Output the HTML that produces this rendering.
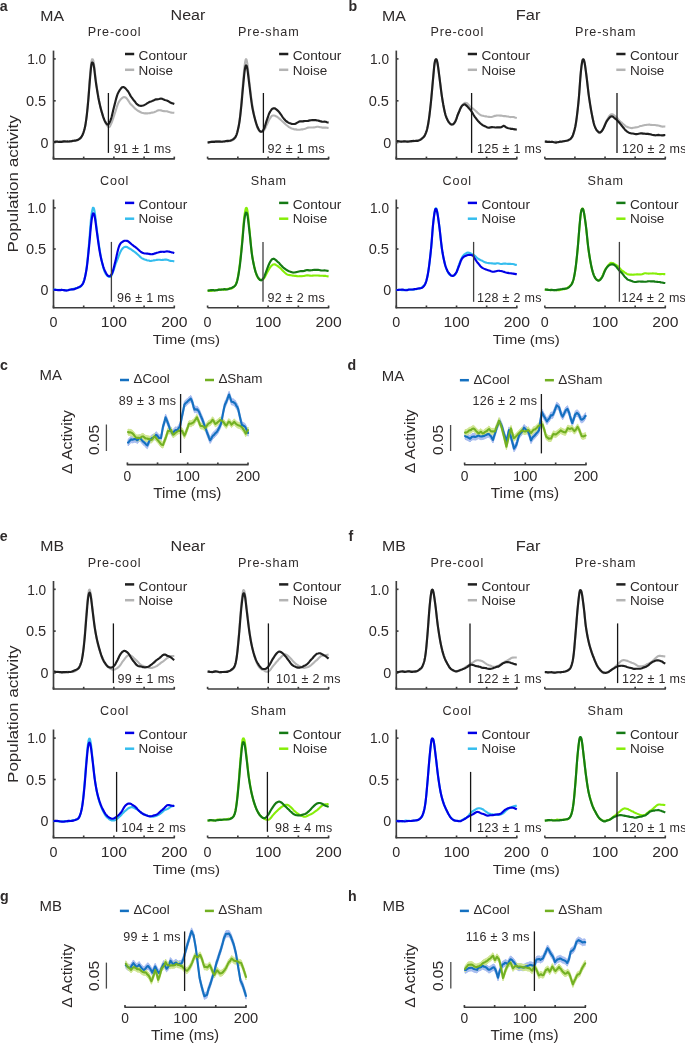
<!DOCTYPE html>
<html><head><meta charset="utf-8"><style>
html,body{margin:0;padding:0;background:#fff;}
body{width:685px;height:1044px;overflow:hidden;}
svg{display:block;will-change:transform;}
text{font-family:"Liberation Sans", sans-serif;fill:#2e2a2a;}
</style></head><body>
<svg width="685" height="1044" viewBox="0 0 685 1044">
<rect width="685" height="1044" fill="#fff"/>
<line x1="53.5" y1="50.6" x2="53.5" y2="159.45" stroke="#3d3d3d" stroke-width="1.65"/>
<line x1="53.5" y1="58.9" x2="55.7" y2="58.9" stroke="#3d3d3d" stroke-width="1.65"/>
<line x1="53.5" y1="100.8" x2="55.7" y2="100.8" stroke="#3d3d3d" stroke-width="1.65"/>
<line x1="53.5" y1="142.5" x2="55.7" y2="142.5" stroke="#3d3d3d" stroke-width="1.65"/>
<text x="46.2" y="64.1" font-size="14.3" text-anchor="end" textLength="19" lengthAdjust="spacingAndGlyphs">1.0</text>
<text x="46.2" y="106" font-size="14.3" text-anchor="end" textLength="20.3" lengthAdjust="spacingAndGlyphs">0.5</text>
<text x="48.4" y="147.7" font-size="14.3" text-anchor="end">0</text>
<line x1="52.85" y1="158.8" x2="174.9" y2="158.8" stroke="#3d3d3d" stroke-width="1.65"/>
<line x1="53.5" y1="158.8" x2="53.5" y2="156.6" stroke="#3d3d3d" stroke-width="1.65"/>
<line x1="83.7" y1="158.8" x2="83.7" y2="156.6" stroke="#3d3d3d" stroke-width="1.65"/>
<line x1="113.9" y1="158.8" x2="113.9" y2="156.6" stroke="#3d3d3d" stroke-width="1.65"/>
<line x1="144.1" y1="158.8" x2="144.1" y2="156.6" stroke="#3d3d3d" stroke-width="1.65"/>
<line x1="174.3" y1="158.8" x2="174.3" y2="156.6" stroke="#3d3d3d" stroke-width="1.65"/>
<text x="114.6" y="36.1" font-size="12.6" text-anchor="middle" letter-spacing="0.85">Pre-cool</text>
<line x1="125" y1="54" x2="134.2" y2="54" stroke="#1f1f1f" stroke-width="2.5"/>
<line x1="125" y1="69.8" x2="134.2" y2="69.8" stroke="#b4b4b4" stroke-width="2.5"/>
<text x="138.6" y="60.3" font-size="13" textLength="48.6" lengthAdjust="spacingAndGlyphs">Contour</text>
<text x="138.6" y="74.5" font-size="13" textLength="34.5" lengthAdjust="spacingAndGlyphs">Noise</text>
<path d="M53.5 141.99 L54.1 141.97 L54.84 141.96 L55.72 141.86 L56.71 141.78 L57.79 141.69 L58.94 141.59 L60.14 141.62 L61.38 141.71 L62.62 141.66 L63.86 141.66 L65.07 141.78 L66.23 141.69 L67.32 141.84 L68.33 141.79 L69.23 141.71 L70 141.64 L71.62 141.36 L72.81 141.01 L73.72 140.93 L74.46 140.89 L75.18 140.68 L76 140.37 L77.1 139.9 L78.17 139.34 L79.19 138.79 L80.14 138.22 L81 137.43 L81.54 136.76 L82.03 135.97 L82.48 135.12 L82.89 134.21 L83.27 133.22 L83.64 132.15 L84 131 L84.24 130.18 L84.46 129.38 L84.67 128.58 L84.87 127.74 L85.06 126.85 L85.25 125.9 L85.43 124.87 L85.62 123.74 L85.8 122.5 L86 121.13 L86.11 120.36 L86.21 119.56 L86.32 118.73 L86.42 117.87 L86.53 116.98 L86.63 116.07 L86.74 115.13 L86.84 114.17 L86.95 113.18 L87.05 112.17 L87.16 111.13 L87.26 110.05 L87.37 108.96 L87.47 107.84 L87.58 106.71 L87.68 105.55 L87.79 104.39 L87.89 103.2 L88 102 L88.08 101.1 L88.16 100.17 L88.23 99.2 L88.31 98.2 L88.39 97.18 L88.47 96.14 L88.55 95.08 L88.64 94 L88.72 92.91 L88.8 91.81 L88.88 90.7 L88.96 89.59 L89.04 88.49 L89.12 87.38 L89.2 86.28 L89.27 85.2 L89.35 84.12 L89.43 83.07 L89.5 82.03 L89.58 81.02 L89.65 80.03 L89.73 79.08 L89.8 78.15 L89.87 77.27 L89.93 76.43 L90 75.65 L90.12 74.27 L90.23 72.96 L90.34 71.71 L90.45 70.51 L90.55 69.39 L90.65 68.32 L90.75 67.31 L90.85 66.36 L90.94 65.47 L91.03 64.63 L91.12 63.86 L91.22 63.14 L91.31 62.48 L91.4 61.86 L92 59.39 L92.6 59.25 L92.92 59.66 L93.25 60.46 L93.6 61.88 L94 64.17 L94.1 64.87 L94.2 65.6 L94.3 66.4 L94.41 67.26 L94.51 68.17 L94.62 69.13 L94.73 70.13 L94.84 71.16 L94.96 72.22 L95.08 73.31 L95.2 74.4 L95.32 75.51 L95.45 76.62 L95.58 77.74 L95.72 78.88 L95.86 79.99 L96 81.09 L96.13 82.07 L96.27 83.08 L96.42 84.1 L96.57 85.15 L96.72 86.21 L96.87 87.28 L97.03 88.32 L97.19 89.36 L97.36 90.4 L97.52 91.43 L97.69 92.46 L97.85 93.48 L98.02 94.48 L98.19 95.46 L98.35 96.43 L98.52 97.39 L98.68 98.33 L98.84 99.23 L99 100.09 L99.23 101.31 L99.46 102.48 L99.69 103.61 L99.92 104.64 L100.15 105.63 L100.38 106.59 L100.62 107.51 L100.85 108.41 L101.08 109.28 L101.31 110.2 L101.54 111.1 L101.77 111.99 L102 112.86 L102.33 114.09 L102.66 115.22 L102.98 116.24 L103.3 117.22 L103.63 118.16 L103.96 119.06 L104.29 120.03 L104.64 120.96 L105 121.84 L105.58 123.04 L106.2 124.08 L106.84 125.05 L107.47 126 L108.06 126.72 L108.6 127.1 L109.47 126.97 L110.2 125.84 L111 124.14 L111.34 123.37 L111.68 122.51 L112.04 121.57 L112.4 120.56 L112.78 119.49 L113.17 118.35 L113.57 117.15 L114 115.91 L114.3 115.01 L114.62 114.04 L114.95 112.99 L115.3 111.91 L115.65 110.81 L116 109.69 L116.35 108.59 L116.7 107.49 L117.05 106.42 L117.38 105.42 L117.7 104.51 L118 103.74 L118.66 102.35 L119.27 101.3 L119.85 100.45 L120.42 99.76 L121 99.1 L122 98.13 L123 97.43 L124 97.12 L125 97.25 L126 97.78 L127 98.8 L127.58 99.6 L128.15 100.43 L128.73 101.32 L129.34 102.29 L130 103.32 L130.61 104.14 L131.26 104.74 L131.94 105.35 L132.63 106.05 L133.32 106.73 L134 107.42 L134.77 108.19 L135.5 108.89 L136.26 109.55 L137.07 110.21 L138 110.8 L138.86 111.23 L139.78 111.74 L140.75 112.27 L141.78 112.8 L142.86 112.97 L144 113.29 L144.91 113.36 L145.88 113.17 L146.9 113.34 L147.94 113.33 L148.99 113.22 L150.02 113.13 L151.03 112.82 L152 112.61 L153.05 112.44 L154.07 112.24 L155.07 111.85 L156.05 111.35 L157.03 110.81 L158.01 110.39 L159 110.21 L159.99 110.25 L160.96 110.34 L161.93 110.65 L162.91 111.01 L163.91 111.11 L164.93 111.26 L166 111.31 L167.03 111.29 L168.18 111.67 L169.38 112.11 L170.59 112.48 L171.74 112.62 L172.78 112.7 L173.65 112.79 L174.3 112.89" fill="none" stroke="#b4b4b4" stroke-width="2.1" stroke-linejoin="round" stroke-linecap="butt"/>
<path d="M53.5 142.01 L54.1 141.96 L54.84 141.92 L55.72 141.64 L56.71 141.58 L57.79 141.69 L58.94 141.93 L60.14 141.92 L61.38 141.88 L62.62 141.62 L63.86 141.41 L65.07 141.43 L66.23 141.45 L67.32 141.44 L68.33 141.47 L69.23 141.43 L70 141.29 L71.62 141.09 L72.81 140.9 L73.72 140.75 L74.46 140.59 L75.18 140.56 L76 140.47 L77.1 140.15 L78.17 139.74 L79.19 139.18 L80.14 138.44 L81 137.49 L81.54 136.73 L82.03 135.89 L82.48 134.99 L82.89 134.03 L83.27 133.02 L83.64 131.94 L84 130.79 L84.24 129.95 L84.46 129.16 L84.67 128.37 L84.87 127.54 L85.06 126.67 L85.25 125.73 L85.43 124.73 L85.62 123.64 L85.8 122.46 L86 121.18 L86.11 120.42 L86.22 119.63 L86.33 118.82 L86.44 117.97 L86.56 117.1 L86.67 116.2 L86.78 115.28 L86.89 114.33 L87 113.37 L87.11 112.37 L87.22 111.31 L87.33 110.23 L87.44 109.14 L87.56 108.02 L87.67 106.89 L87.78 105.74 L87.89 104.58 L88 103.41 L88.08 102.5 L88.17 101.56 L88.25 100.59 L88.34 99.6 L88.43 98.57 L88.51 97.53 L88.6 96.45 L88.69 95.35 L88.78 94.25 L88.86 93.13 L88.95 92.02 L89.04 90.9 L89.12 89.79 L89.21 88.69 L89.29 87.59 L89.38 86.52 L89.46 85.45 L89.54 84.41 L89.62 83.4 L89.7 82.41 L89.78 81.45 L89.85 80.53 L89.93 79.66 L90 78.85 L90.12 77.51 L90.23 76.22 L90.34 74.97 L90.45 73.77 L90.55 72.63 L90.65 71.53 L90.75 70.49 L90.85 69.5 L90.94 68.57 L91.03 67.7 L91.12 66.88 L91.22 66.13 L91.31 65.45 L91.4 64.84 L92 62.55 L92.6 62.56 L92.92 62.97 L93.25 63.74 L93.6 65.09 L94 67.25 L94.11 67.95 L94.21 68.7 L94.32 69.52 L94.43 70.4 L94.55 71.34 L94.66 72.32 L94.78 73.35 L94.9 74.4 L95.02 75.49 L95.15 76.59 L95.28 77.71 L95.42 78.83 L95.55 79.94 L95.7 81.03 L95.85 82.11 L96 83.16 L96.14 84.09 L96.29 85.06 L96.44 86.04 L96.6 87.04 L96.76 88.06 L96.93 89.09 L97.09 90.15 L97.26 91.22 L97.44 92.29 L97.61 93.35 L97.79 94.4 L97.96 95.43 L98.14 96.45 L98.31 97.44 L98.49 98.36 L98.66 99.25 L98.83 100.1 L99 100.91 L99.25 102.07 L99.5 103.19 L99.75 104.27 L100 105.39 L100.25 106.46 L100.5 107.5 L100.75 108.51 L101 109.48 L101.25 110.39 L101.5 111.26 L101.75 112.1 L102 112.93 L102.38 114.14 L102.75 115.36 L103.12 116.56 L103.5 117.7 L103.88 118.76 L104.25 119.69 L104.62 120.53 L105 121.28 L105.75 122.64 L106.5 123.75 L107.25 124.39 L108 124.45 L108.6 124.01 L109.2 123.23 L109.8 122.07 L110.4 120.56 L111 118.82 L111.25 118.1 L111.49 117.29 L111.73 116.43 L111.96 115.5 L112.2 114.53 L112.44 113.51 L112.68 112.47 L112.93 111.41 L113.18 110.33 L113.44 109.25 L113.71 108.17 L114 107.07 L114.25 106.12 L114.51 105.11 L114.77 104.06 L115.04 102.98 L115.31 101.89 L115.59 100.8 L115.88 99.7 L116.16 98.63 L116.46 97.58 L116.76 96.58 L117.06 95.63 L117.37 94.74 L117.68 93.92 L118 93.18 L118.67 91.87 L119.38 90.7 L120.13 89.54 L120.87 88.54 L121.62 87.72 L122.33 87.19 L123 87.07 L123.85 87.17 L124.62 87.59 L125.38 88.25 L126.15 89.1 L127 90.08 L127.51 90.71 L128.04 91.45 L128.59 92.28 L129.15 93.19 L129.72 94.31 L130.3 95.44 L130.87 96.36 L131.44 97.14 L132 97.86 L132.72 98.91 L133.46 99.92 L134.2 100.77 L134.93 101.65 L135.64 102.62 L136.34 103.47 L137 104.15 L138.05 105 L139 105.51 L139.95 105.76 L141 105.81 L141.95 105.72 L142.98 105.54 L144.02 105.14 L145.05 104.62 L146 104.08 L147.03 103.43 L147.94 102.87 L148.89 102.31 L150 101.7 L150.88 101.48 L151.86 101.17 L152.88 100.63 L153.92 100.23 L154.94 99.75 L155.9 99.35 L156.97 99.31 L158 99.25 L159.01 99.06 L160 98.81 L161 98.64 L161.95 98.75 L162.85 99.07 L163.77 99.59 L164.79 100.01 L166 100.32 L166.82 100.49 L167.78 100.88 L168.83 101.5 L169.92 102.28 L171 102.89 L172.03 103.23 L172.95 103.42 L173.72 103.69 L174.3 103.9" fill="none" stroke="#1f1f1f" stroke-width="2.15" stroke-linejoin="round" stroke-linecap="butt"/>
<line x1="108.4" y1="93" x2="108.4" y2="152.9" stroke="#151515" stroke-width="1.3"/>
<text x="113.8" y="152.9" font-size="12.5" letter-spacing="0.3">91 ± 1 ms</text>
<line x1="207.6" y1="158.8" x2="329.2" y2="158.8" stroke="#3d3d3d" stroke-width="1.65"/>
<line x1="207.6" y1="158.8" x2="207.6" y2="156.6" stroke="#3d3d3d" stroke-width="1.65"/>
<line x1="237.85" y1="158.8" x2="237.85" y2="156.6" stroke="#3d3d3d" stroke-width="1.65"/>
<line x1="268.1" y1="158.8" x2="268.1" y2="156.6" stroke="#3d3d3d" stroke-width="1.65"/>
<line x1="298.35" y1="158.8" x2="298.35" y2="156.6" stroke="#3d3d3d" stroke-width="1.65"/>
<line x1="328.6" y1="158.8" x2="328.6" y2="156.6" stroke="#3d3d3d" stroke-width="1.65"/>
<text x="268.8" y="36.1" font-size="12.6" text-anchor="middle" letter-spacing="0.85">Pre-sham</text>
<line x1="279.1" y1="54" x2="288.3" y2="54" stroke="#1f1f1f" stroke-width="2.5"/>
<line x1="279.1" y1="69.8" x2="288.3" y2="69.8" stroke="#b4b4b4" stroke-width="2.5"/>
<text x="292.7" y="60.3" font-size="13" textLength="48.6" lengthAdjust="spacingAndGlyphs">Contour</text>
<text x="292.7" y="74.5" font-size="13" textLength="34.5" lengthAdjust="spacingAndGlyphs">Noise</text>
<path d="M207.6 142.61 L208.24 142.57 L209.07 142.51 L210.06 142.47 L211.18 142.02 L212.36 141.61 L213.59 141.42 L214.82 141.42 L216 141.38 L216.95 141.33 L217.96 141.3 L219.01 141.29 L220.08 141.41 L221.15 141.47 L222.21 141.45 L223.24 141.44 L224.23 141.58 L225.15 141.56 L226 141.54 L227.25 141.69 L228.37 141.33 L229.38 141.21 L230.3 141.06 L231.16 140.72 L232 140.41 L232.94 140.03 L233.79 139.41 L234.57 138.69 L235.3 137.74 L236 136.38 L236.29 135.68 L236.57 134.91 L236.84 134.07 L237.11 133.18 L237.37 132.24 L237.62 131.25 L237.87 130.21 L238.11 129.14 L238.34 128.03 L238.57 126.84 L238.79 125.6 L239 124.35 L239.14 123.46 L239.28 122.56 L239.41 121.65 L239.54 120.72 L239.66 119.78 L239.78 118.82 L239.89 117.84 L240.01 116.84 L240.12 115.82 L240.23 114.78 L240.33 113.72 L240.44 112.63 L240.55 111.52 L240.66 110.38 L240.77 109.22 L240.88 108.02 L241 106.8 L241.08 105.9 L241.17 104.97 L241.25 104.01 L241.34 103.02 L241.42 102.01 L241.51 100.98 L241.6 99.93 L241.68 98.87 L241.77 97.79 L241.85 96.71 L241.94 95.62 L242.03 94.52 L242.11 93.43 L242.2 92.33 L242.28 91.25 L242.36 90.17 L242.45 89.11 L242.53 88.06 L242.61 87.04 L242.69 86.07 L242.77 85.12 L242.85 84.2 L242.92 83.31 L243 82.45 L243.1 81.27 L243.21 80.11 L243.31 78.96 L243.41 77.84 L243.51 76.73 L243.6 75.65 L243.7 74.59 L243.79 73.56 L243.88 72.55 L243.98 71.58 L244.07 70.65 L244.16 69.75 L244.25 68.89 L244.33 68.07 L244.42 67.28 L244.51 66.54 L244.6 65.84 L244.81 64.28 L245.01 62.9 L245.21 61.71 L245.41 60.74 L245.61 59.95 L245.8 59.41 L246 59.14 L246.27 59.18 L246.53 59.69 L246.8 60.68 L247.08 62.15 L247.4 64.15 L247.5 64.81 L247.59 65.55 L247.69 66.34 L247.79 67.19 L247.9 68.09 L248 69.03 L248.11 70.01 L248.21 71.03 L248.32 72.08 L248.44 73.15 L248.55 74.24 L248.67 75.34 L248.78 76.46 L248.9 77.57 L249.03 78.69 L249.15 79.8 L249.27 80.9 L249.4 81.98 L249.51 82.91 L249.62 83.87 L249.74 84.87 L249.85 85.9 L249.97 86.93 L250.09 87.98 L250.21 89.04 L250.33 90.1 L250.45 91.17 L250.58 92.24 L250.7 93.32 L250.83 94.38 L250.95 95.44 L251.08 96.47 L251.21 97.48 L251.34 98.47 L251.47 99.45 L251.6 100.4 L251.73 101.34 L251.87 102.25 L252 103.13 L252.18 104.26 L252.36 105.38 L252.54 106.49 L252.72 107.59 L252.91 108.67 L253.1 109.73 L253.28 110.77 L253.47 111.79 L253.67 112.79 L253.86 113.76 L254.05 114.69 L254.24 115.6 L254.43 116.49 L254.62 117.35 L254.81 118.18 L255 118.99 L255.3 120.25 L255.59 121.49 L255.88 122.67 L256.17 123.79 L256.46 124.85 L256.76 125.82 L257.06 126.71 L257.36 127.53 L257.68 128.27 L258 128.93 L258.87 130.24 L259.81 131.15 L260.74 131.75 L261.6 132.04 L262.36 131.94 L263.06 131.47 L263.75 130.66 L264.5 129.56 L264.97 128.8 L265.47 127.75 L265.98 126.59 L266.5 125.4 L267.02 124.28 L267.52 123.22 L268 122.23 L268.63 120.89 L269.24 119.62 L269.82 118.65 L270.41 117.79 L271 116.94 L272 115.76 L273 115.56 L274 115.51 L275 115.7 L276 116.31 L277 116.78 L277.68 117.18 L278.31 117.72 L279.04 118.38 L280 119.17 L280.61 119.68 L281.29 120.32 L282.03 121.02 L282.81 121.72 L283.62 122.46 L284.43 123.23 L285.23 124.03 L286 124.77 L287 125.49 L288 126.31 L289 127.11 L290 127.52 L291 128.19 L292 128.67 L292.98 128.77 L293.93 129.16 L294.88 129.36 L295.85 129.36 L296.88 129.61 L298 129.71 L298.9 129.73 L299.86 129.74 L300.85 129.56 L301.88 129.41 L302.91 129.33 L303.95 129.08 L304.99 128.77 L306 128.4 L307 127.91 L308 127.61 L309 127.51 L310 127.54 L311 127.47 L312 127.51 L313 127.51 L314 127.41 L315.01 127.22 L316.03 127.02 L317.06 126.83 L318.09 126.68 L319.1 126.91 L320.1 127.1 L321.07 127.22 L322 127.58 L323.26 127.67 L324.55 127.65 L325.8 127.63 L326.94 127.82 L327.9 127.9 L328.6 127.96" fill="none" stroke="#b4b4b4" stroke-width="2.1" stroke-linejoin="round" stroke-linecap="butt"/>
<path d="M207.6 142.5 L208.24 142.43 L209.07 142.33 L210.06 142.03 L211.18 141.88 L212.36 141.83 L213.59 141.88 L214.82 141.81 L216 141.62 L216.95 141.52 L217.96 141.57 L219.01 141.68 L220.08 141.61 L221.15 141.77 L222.21 141.72 L223.24 141.54 L224.23 141.48 L225.15 141.24 L226 141 L227.25 140.82 L228.37 140.84 L229.38 140.79 L230.3 140.63 L231.16 140.33 L232 139.9 L232.94 139.34 L233.79 138.75 L234.57 138.07 L235.3 137.18 L236 135.87 L236.31 135.12 L236.62 134.3 L236.92 133.41 L237.21 132.45 L237.49 131.43 L237.76 130.36 L238.02 129.24 L238.28 128.08 L238.53 126.91 L238.77 125.73 L239 124.51 L239.15 123.66 L239.3 122.79 L239.44 121.91 L239.57 121.01 L239.7 120.08 L239.82 119.15 L239.94 118.23 L240.06 117.29 L240.18 116.33 L240.29 115.35 L240.41 114.34 L240.52 113.31 L240.64 112.25 L240.76 111.17 L240.88 110.07 L241 108.94 L241.09 108.09 L241.18 107.2 L241.28 106.27 L241.37 105.31 L241.46 104.33 L241.56 103.33 L241.65 102.31 L241.74 101.28 L241.84 100.23 L241.93 99.18 L242.03 98.13 L242.12 97.07 L242.21 96.02 L242.3 94.98 L242.39 93.95 L242.48 92.93 L242.57 91.92 L242.66 90.94 L242.75 89.97 L242.83 89.04 L242.92 88.13 L243 87.26 L243.11 86.09 L243.22 84.93 L243.33 83.78 L243.43 82.65 L243.54 81.54 L243.64 80.45 L243.74 79.39 L243.84 78.35 L243.94 77.35 L244.03 76.37 L244.13 75.42 L244.22 74.52 L244.32 73.66 L244.41 72.84 L244.51 72.07 L244.6 71.35 L244.84 69.65 L245.08 68.23 L245.31 67.08 L245.54 66.24 L245.77 65.68 L246 65.39 L246.34 65.45 L246.66 66.09 L247.01 67.38 L247.4 69.42 L247.51 70.07 L247.62 70.8 L247.73 71.59 L247.84 72.44 L247.96 73.35 L248.08 74.3 L248.2 75.3 L248.32 76.35 L248.45 77.43 L248.58 78.53 L248.71 79.66 L248.84 80.79 L248.98 81.94 L249.12 83.09 L249.26 84.23 L249.4 85.37 L249.52 86.28 L249.63 87.23 L249.75 88.21 L249.88 89.21 L250 90.22 L250.12 91.26 L250.25 92.31 L250.38 93.36 L250.51 94.42 L250.64 95.48 L250.77 96.54 L250.9 97.6 L251.04 98.65 L251.17 99.69 L251.31 100.72 L251.44 101.73 L251.58 102.71 L251.72 103.67 L251.86 104.59 L252 105.48 L252.2 106.7 L252.41 107.88 L252.62 108.97 L252.83 110.03 L253.04 111.06 L253.26 112.06 L253.47 113.02 L253.69 113.96 L253.91 114.89 L254.13 115.79 L254.35 116.67 L254.57 117.53 L254.78 118.36 L255 119.18 L255.33 120.39 L255.67 121.56 L256 122.66 L256.33 123.7 L256.67 124.68 L257 125.64 L257.33 126.53 L257.67 127.35 L258 128.1 L258.75 129.58 L259.5 130.72 L260.25 131.46 L261 131.79 L262 131.47 L263 130.51 L264 128.8 L264.33 128.01 L264.67 127.08 L265 126.03 L265.33 124.97 L265.67 123.87 L266 122.74 L266.33 121.63 L266.67 120.63 L267 119.72 L267.37 118.73 L267.73 117.72 L268.08 116.62 L268.44 115.53 L268.8 114.47 L269.18 113.48 L269.58 112.61 L270 111.86 L270.74 110.77 L271.53 109.61 L272.35 108.79 L273.18 108.43 L274 108.27 L274.98 108.43 L275.94 109.1 L276.93 109.9 L278 110.86 L278.58 111.46 L279.18 112.19 L279.8 112.97 L280.44 113.81 L281.08 114.77 L281.73 115.7 L282.37 116.74 L283 117.68 L283.82 118.67 L284.63 119.54 L285.44 120.47 L286.26 121.24 L287.11 121.76 L288 122.36 L288.94 122.94 L289.93 123.26 L290.94 123.59 L291.96 123.86 L292.99 123.99 L294 124.02 L294.98 123.89 L295.93 123.57 L296.88 122.96 L297.85 122.33 L298.88 121.76 L300 121.32 L300.91 121.33 L301.88 121.34 L302.9 121.32 L303.94 121.14 L304.99 121.04 L306.02 120.99 L307.03 120.95 L308 120.83 L309.05 120.58 L310.07 120.32 L311.07 120.23 L312.05 120.17 L313.03 120.11 L314.01 120.05 L315 120.06 L316 120.19 L317.01 120.39 L318.02 120.56 L319.03 120.84 L320.03 121.13 L321.02 121.39 L322 121.7 L323.2 121.71 L324.47 121.69 L325.74 121.77 L326.9 122.23 L327.89 122.45 L328.6 122.58" fill="none" stroke="#1f1f1f" stroke-width="2.15" stroke-linejoin="round" stroke-linecap="butt"/>
<line x1="263.4" y1="93" x2="263.4" y2="152.9" stroke="#151515" stroke-width="1.3"/>
<text x="267.6" y="152.9" font-size="12.5" letter-spacing="0.3">92 ± 1 ms</text>
<line x1="53.5" y1="199.5" x2="53.5" y2="308.35" stroke="#3d3d3d" stroke-width="1.65"/>
<line x1="53.5" y1="207.9" x2="55.7" y2="207.9" stroke="#3d3d3d" stroke-width="1.65"/>
<line x1="53.5" y1="249" x2="55.7" y2="249" stroke="#3d3d3d" stroke-width="1.65"/>
<line x1="53.5" y1="290.1" x2="55.7" y2="290.1" stroke="#3d3d3d" stroke-width="1.65"/>
<text x="46.2" y="213.1" font-size="14.3" text-anchor="end" textLength="19" lengthAdjust="spacingAndGlyphs">1.0</text>
<text x="46.2" y="254.2" font-size="14.3" text-anchor="end" textLength="20.3" lengthAdjust="spacingAndGlyphs">0.5</text>
<text x="48.4" y="295.3" font-size="14.3" text-anchor="end">0</text>
<line x1="52.85" y1="307.7" x2="174.9" y2="307.7" stroke="#3d3d3d" stroke-width="1.65"/>
<line x1="53.5" y1="307.7" x2="53.5" y2="305.5" stroke="#3d3d3d" stroke-width="1.65"/>
<line x1="83.7" y1="307.7" x2="83.7" y2="305.5" stroke="#3d3d3d" stroke-width="1.65"/>
<line x1="113.9" y1="307.7" x2="113.9" y2="305.5" stroke="#3d3d3d" stroke-width="1.65"/>
<line x1="144.1" y1="307.7" x2="144.1" y2="305.5" stroke="#3d3d3d" stroke-width="1.65"/>
<line x1="174.3" y1="307.7" x2="174.3" y2="305.5" stroke="#3d3d3d" stroke-width="1.65"/>
<text x="114.6" y="185" font-size="12.6" text-anchor="middle" letter-spacing="0.85">Cool</text>
<line x1="125" y1="202.9" x2="134.2" y2="202.9" stroke="#0000e6" stroke-width="2.5"/>
<line x1="125" y1="218.7" x2="134.2" y2="218.7" stroke="#35bdee" stroke-width="2.5"/>
<text x="138.6" y="209.2" font-size="13" textLength="48.6" lengthAdjust="spacingAndGlyphs">Contour</text>
<text x="138.6" y="223.4" font-size="13" textLength="34.5" lengthAdjust="spacingAndGlyphs">Noise</text>
<path d="M53.5 289.64 L54.11 289.65 L54.89 289.69 L55.8 289.56 L56.83 289.68 L57.95 289.97 L59.12 289.89 L60.34 289.94 L61.56 289.79 L62.76 289.98 L63.92 290.18 L65.01 290.23 L66 290.2 L67.12 290.06 L68.24 289.98 L69.34 289.92 L70.42 289.8 L71.47 289.55 L72.48 289.15 L73.45 288.81 L74.36 288.68 L75.21 288.34 L76 288.03 L77.35 288.03 L78.46 287.63 L79.38 287.39 L80.21 287.05 L81 286.19 L81.73 285.34 L82.36 284.6 L82.92 283.7 L83.46 282.39 L84 280.67 L84.21 279.9 L84.42 279.14 L84.63 278.39 L84.84 277.59 L85.04 276.75 L85.24 275.85 L85.44 274.9 L85.63 273.89 L85.83 272.8 L86.02 271.64 L86.22 270.4 L86.41 269.09 L86.6 267.69 L86.7 266.9 L86.81 266.07 L86.91 265.21 L87.02 264.32 L87.12 263.41 L87.22 262.49 L87.33 261.55 L87.43 260.59 L87.53 259.6 L87.63 258.6 L87.74 257.59 L87.84 256.56 L87.94 255.52 L88.04 254.48 L88.14 253.42 L88.24 252.37 L88.34 251.31 L88.43 250.25 L88.53 249.19 L88.63 248.12 L88.72 247.06 L88.81 246.01 L88.91 244.97 L89 243.94 L89.09 242.95 L89.18 241.93 L89.26 240.89 L89.35 239.83 L89.44 238.75 L89.52 237.66 L89.61 236.57 L89.69 235.46 L89.77 234.36 L89.86 233.25 L89.94 232.15 L90.02 231.05 L90.1 229.96 L90.18 228.88 L90.26 227.83 L90.34 226.79 L90.42 225.77 L90.49 224.79 L90.57 223.83 L90.64 222.9 L90.72 222.01 L90.79 221.17 L90.86 220.36 L90.93 219.6 L91 218.89 L91.18 217.14 L91.36 215.66 L91.53 214.41 L91.69 213.36 L91.84 212.47 L91.99 211.7 L92.13 211.02 L92.27 210.39 L92.4 209.77 L92.9 207.86 L93.4 207.71 L93.64 208.05 L93.89 208.57 L94.16 209.42 L94.46 210.81 L94.8 212.82 L94.9 213.51 L95 214.27 L95.11 215.09 L95.22 215.96 L95.33 216.89 L95.44 217.86 L95.56 218.86 L95.68 219.88 L95.8 220.93 L95.92 222.01 L96.05 223.1 L96.18 224.21 L96.31 225.33 L96.44 226.45 L96.58 227.57 L96.72 228.68 L96.86 229.79 L97 230.88 L97.13 231.83 L97.25 232.8 L97.39 233.8 L97.52 234.82 L97.66 235.85 L97.8 236.9 L97.94 237.95 L98.08 239.02 L98.23 240.09 L98.38 241.14 L98.52 242.17 L98.67 243.19 L98.82 244.2 L98.97 245.2 L99.12 246.19 L99.27 247.15 L99.42 248.1 L99.56 249.02 L99.71 249.91 L99.86 250.84 L100 251.72 L100.21 253.01 L100.43 254.25 L100.64 255.46 L100.86 256.63 L101.07 257.76 L101.29 258.83 L101.5 259.87 L101.71 260.87 L101.93 261.84 L102.14 262.78 L102.36 263.69 L102.57 264.57 L102.79 265.44 L103 266.29 L103.37 267.69 L103.73 268.98 L104.08 270.13 L104.44 271.13 L104.8 272.05 L105.18 272.87 L105.58 273.6 L106 274.25 L106.95 275.37 L108 276.3 L109.05 276.84 L110 276.97 L110.66 276.7 L111.27 275.91 L111.85 274.74 L112.42 273.39 L113 271.92 L113.33 271.04 L113.65 270.07 L113.96 269.11 L114.28 268.11 L114.6 267.07 L114.93 266 L115.27 264.95 L115.62 263.94 L116 262.95 L116.36 262.04 L116.75 261.07 L117.16 260.06 L117.58 259.04 L118 257.99 L118.42 256.83 L118.84 255.71 L119.25 254.64 L119.64 253.69 L120 252.83 L120.66 251.36 L121.27 250.29 L121.85 249.41 L122.42 248.67 L123 248.04 L124 247.27 L125 246.85 L126 246.74 L127 247.02 L128 247.62 L129 248.28 L129.89 248.71 L130.78 249.19 L132 250.02 L132.7 250.56 L133.5 251.16 L134.36 251.74 L135.27 252.41 L136.2 253.14 L137.12 253.97 L138 254.76 L138.84 255.53 L139.66 256.35 L140.47 257.14 L141.29 257.79 L142.14 258.35 L143.04 258.79 L144 259.3 L144.9 259.59 L145.86 259.73 L146.85 260.19 L147.88 260.42 L148.91 260.54 L149.95 260.93 L150.99 260.88 L152 260.75 L153 260.58 L154 260.36 L155 260.21 L156 260.07 L157 259.88 L158 259.79 L159 259.73 L160 259.74 L161.01 259.94 L162.04 259.91 L163.07 259.83 L164.11 259.8 L165.12 259.57 L166.12 259.6 L167.08 259.8 L168 260.01 L169.22 260.5 L170.46 260.88 L171.65 261.06 L172.73 261.07 L173.63 261.3 L174.3 261.47" fill="none" stroke="#35bdee" stroke-width="2.1" stroke-linejoin="round" stroke-linecap="butt"/>
<path d="M53.5 289.69 L54.11 289.7 L54.89 289.72 L55.8 289.89 L56.83 290.01 L57.95 290.08 L59.12 290.08 L60.34 290.07 L61.56 289.91 L62.76 289.97 L63.92 290.12 L65.01 290.32 L66 290.57 L67.12 290.5 L68.24 290.19 L69.34 289.81 L70.42 289.49 L71.47 289.44 L72.48 289.39 L73.45 289.31 L74.36 289.19 L75.21 288.8 L76 288.4 L77.35 287.89 L78.46 287.27 L79.38 286.87 L80.21 286.45 L81 285.88 L81.73 285.2 L82.36 284.41 L82.92 283.48 L83.46 282.34 L84 280.86 L84.23 280.14 L84.46 279.35 L84.68 278.5 L84.9 277.61 L85.12 276.67 L85.34 275.68 L85.55 274.64 L85.76 273.55 L85.97 272.47 L86.18 271.31 L86.39 270.08 L86.6 268.75 L86.71 267.99 L86.83 267.18 L86.94 266.34 L87.05 265.47 L87.17 264.56 L87.28 263.62 L87.39 262.65 L87.5 261.67 L87.62 260.66 L87.73 259.64 L87.84 258.6 L87.95 257.56 L88.06 256.5 L88.17 255.44 L88.27 254.38 L88.38 253.32 L88.49 252.27 L88.59 251.22 L88.69 250.19 L88.8 249.16 L88.9 248.15 L89 247.16 L89.1 246.17 L89.2 245.15 L89.3 244.12 L89.4 243.07 L89.49 242.01 L89.59 240.95 L89.69 239.88 L89.78 238.8 L89.88 237.73 L89.97 236.66 L90.06 235.6 L90.15 234.54 L90.24 233.51 L90.33 232.49 L90.42 231.5 L90.51 230.53 L90.59 229.59 L90.68 228.68 L90.76 227.81 L90.84 226.97 L90.92 226.19 L91 225.44 L91.17 223.94 L91.32 222.58 L91.48 221.34 L91.62 220.23 L91.76 219.23 L91.9 218.33 L92.03 217.52 L92.16 216.78 L92.28 216.11 L92.4 215.49 L92.9 213.58 L93.4 213.37 L93.7 213.62 L94.03 214.14 L94.38 215.19 L94.8 217.07 L94.91 217.7 L95.03 218.4 L95.15 219.17 L95.27 220 L95.4 220.89 L95.53 221.83 L95.66 222.84 L95.8 223.89 L95.94 224.97 L96.08 226.08 L96.23 227.2 L96.38 228.34 L96.53 229.49 L96.68 230.64 L96.84 231.79 L97 232.94 L97.13 233.89 L97.27 234.88 L97.41 235.89 L97.55 236.93 L97.69 237.99 L97.84 239.07 L97.99 240.16 L98.14 241.26 L98.3 242.37 L98.45 243.43 L98.61 244.48 L98.76 245.53 L98.92 246.57 L99.07 247.59 L99.23 248.59 L99.39 249.57 L99.54 250.51 L99.7 251.43 L99.85 252.3 L100 253.12 L100.23 254.34 L100.46 255.51 L100.69 256.63 L100.92 257.72 L101.15 258.75 L101.38 259.72 L101.62 260.65 L101.85 261.55 L102.08 262.41 L102.31 263.23 L102.54 264.03 L102.77 264.88 L103 265.69 L103.43 267.09 L103.86 268.35 L104.29 269.43 L104.71 270.4 L105.14 271.27 L105.57 272.14 L106 272.99 L106.75 274.33 L107.5 275.34 L108.25 276.03 L109 276.2 L110 275.99 L111 275.18 L112 273.58 L112.27 272.91 L112.53 272.2 L112.79 271.41 L113.05 270.53 L113.31 269.59 L113.57 268.58 L113.84 267.51 L114.11 266.39 L114.39 265.24 L114.69 264.06 L115 262.86 L115.22 261.98 L115.45 261 L115.69 259.97 L115.93 258.9 L116.18 257.78 L116.43 256.65 L116.68 255.5 L116.94 254.35 L117.2 253.21 L117.46 252.09 L117.72 251.01 L117.98 249.97 L118.24 248.99 L118.49 248.07 L118.75 247.24 L119 246.49 L119.68 244.89 L120.37 243.69 L121.06 242.85 L121.74 242.29 L122.39 241.85 L123 241.47 L124.04 240.89 L124.96 240.74 L126 240.71 L126.88 240.82 L127.81 241.14 L128.84 241.9 L130 242.82 L130.75 243.47 L131.57 244.28 L132.43 244.98 L133.32 245.6 L134.23 246.28 L135.13 246.96 L136 247.6 L136.84 248.28 L137.66 248.99 L138.47 249.71 L139.29 250.47 L140.14 251.25 L141.04 251.98 L142 252.58 L142.92 252.93 L143.91 253.3 L144.94 253.51 L146 253.52 L147.06 253.66 L148.09 253.69 L149.08 253.83 L150 254.16 L151.12 254.22 L152.15 254.19 L153.12 254.06 L154.07 253.67 L155.02 253.4 L156 253.11 L157 252.68 L158 252.45 L159 252.18 L160 251.92 L161 251.83 L162 251.74 L163 251.74 L163.99 251.91 L164.98 251.71 L165.98 251.53 L166.98 251.44 L168 251.52 L169.11 251.66 L170.31 251.98 L171.53 252.33 L172.66 252.51 L173.61 252.86 L174.3 253.07" fill="none" stroke="#0000e6" stroke-width="2.15" stroke-linejoin="round" stroke-linecap="butt"/>
<line x1="111.4" y1="241.9" x2="111.4" y2="301.8" stroke="#404040" stroke-width="1.3"/>
<text x="117" y="301.8" font-size="12.5" letter-spacing="0.3">96 ± 1 ms</text>
<text x="53.5" y="327.3" font-size="14.3" text-anchor="middle">0</text>
<text x="113.9" y="327.3" font-size="14.3" text-anchor="middle" textLength="26.2" lengthAdjust="spacingAndGlyphs">100</text>
<text x="174.3" y="327.3" font-size="14.3" text-anchor="middle" textLength="26.2" lengthAdjust="spacingAndGlyphs">200</text>
<line x1="207.6" y1="307.7" x2="329.2" y2="307.7" stroke="#3d3d3d" stroke-width="1.65"/>
<line x1="207.6" y1="307.7" x2="207.6" y2="305.5" stroke="#3d3d3d" stroke-width="1.65"/>
<line x1="237.85" y1="307.7" x2="237.85" y2="305.5" stroke="#3d3d3d" stroke-width="1.65"/>
<line x1="268.1" y1="307.7" x2="268.1" y2="305.5" stroke="#3d3d3d" stroke-width="1.65"/>
<line x1="298.35" y1="307.7" x2="298.35" y2="305.5" stroke="#3d3d3d" stroke-width="1.65"/>
<line x1="328.6" y1="307.7" x2="328.6" y2="305.5" stroke="#3d3d3d" stroke-width="1.65"/>
<text x="268.8" y="185" font-size="12.6" text-anchor="middle" letter-spacing="0.85">Sham</text>
<line x1="279.1" y1="202.9" x2="288.3" y2="202.9" stroke="#157a15" stroke-width="2.5"/>
<line x1="279.1" y1="218.7" x2="288.3" y2="218.7" stroke="#86ee08" stroke-width="2.5"/>
<text x="292.7" y="209.2" font-size="13" textLength="48.6" lengthAdjust="spacingAndGlyphs">Contour</text>
<text x="292.7" y="223.4" font-size="13" textLength="34.5" lengthAdjust="spacingAndGlyphs">Noise</text>
<path d="M207.6 290.69 L208.22 290.67 L209.02 290.64 L209.97 290.95 L211.03 290.87 L212.18 290.7 L213.37 290.53 L214.58 290.46 L215.78 290.16 L216.93 290.16 L218 289.94 L219.03 289.63 L220.09 289.7 L221.16 289.5 L222.22 289.56 L223.28 289.74 L224.31 289.68 L225.31 289.6 L226.26 289.34 L227.16 288.91 L228 288.76 L229.27 288.62 L230.41 288.59 L231.44 288.59 L232.37 288.05 L233.22 287.45 L234 286.76 L234.68 286.05 L235.24 285.36 L235.71 284.59 L236.14 283.66 L236.56 282.47 L237 280.93 L237.19 280.21 L237.37 279.45 L237.55 278.64 L237.73 277.79 L237.9 276.9 L238.08 275.96 L238.25 274.98 L238.42 273.96 L238.59 272.88 L238.76 271.76 L238.93 270.61 L239.1 269.42 L239.27 268.2 L239.43 266.95 L239.6 265.66 L239.71 264.8 L239.82 263.92 L239.93 263.06 L240.03 262.17 L240.14 261.26 L240.25 260.34 L240.36 259.39 L240.47 258.43 L240.57 257.45 L240.68 256.46 L240.78 255.46 L240.89 254.45 L240.99 253.43 L241.1 252.4 L241.2 251.37 L241.31 250.34 L241.41 249.3 L241.51 248.26 L241.61 247.23 L241.71 246.2 L241.81 245.17 L241.9 244.16 L242 243.15 L242.09 242.17 L242.18 241.17 L242.27 240.15 L242.36 239.11 L242.45 238.05 L242.54 236.98 L242.63 235.89 L242.72 234.8 L242.81 233.7 L242.89 232.6 L242.98 231.51 L243.06 230.43 L243.15 229.36 L243.23 228.3 L243.31 227.26 L243.39 226.25 L243.47 225.26 L243.55 224.3 L243.63 223.38 L243.71 222.49 L243.78 221.64 L243.86 220.83 L243.93 220.07 L244 219.36 L244.18 217.63 L244.36 216.14 L244.53 214.88 L244.69 213.8 L244.84 212.88 L244.99 212.08 L245.13 211.36 L245.27 210.7 L245.4 210.06 L245.91 208.14 L246.4 207.84 L246.67 208.01 L246.94 208.44 L247.24 209.56 L247.6 211.74 L247.69 212.38 L247.77 213.09 L247.87 213.86 L247.96 214.68 L248.06 215.56 L248.16 216.49 L248.26 217.47 L248.37 218.51 L248.47 219.58 L248.58 220.68 L248.69 221.81 L248.8 222.95 L248.91 224.11 L249.02 225.28 L249.14 226.45 L249.25 227.63 L249.37 228.8 L249.48 229.96 L249.6 231.1 L249.7 232.03 L249.79 232.99 L249.89 233.97 L249.99 234.96 L250.08 235.98 L250.18 237.01 L250.28 238.06 L250.38 239.11 L250.48 240.17 L250.58 241.23 L250.69 242.3 L250.79 243.36 L250.89 244.42 L251 245.47 L251.11 246.51 L251.21 247.54 L251.32 248.55 L251.43 249.54 L251.54 250.52 L251.65 251.47 L251.77 252.39 L251.88 253.29 L252 254.15 L252.17 255.36 L252.35 256.55 L252.53 257.67 L252.71 258.74 L252.89 259.79 L253.08 260.81 L253.27 261.81 L253.46 262.77 L253.66 263.7 L253.85 264.62 L254.04 265.55 L254.24 266.45 L254.43 267.32 L254.62 268.15 L254.81 268.95 L255 269.71 L255.37 271.16 L255.73 272.49 L256.08 273.68 L256.44 274.76 L256.8 275.7 L257.18 276.52 L257.58 277.27 L258 277.97 L258.95 278.98 L260 279.59 L261.05 279.87 L262 279.98 L262.82 279.64 L263.56 278.87 L264.27 277.83 L265 276.7 L265.5 275.83 L266 274.84 L266.5 273.8 L267 272.82 L267.5 271.87 L268 270.99 L268.59 270 L269.18 269.02 L269.77 268 L270.37 267.09 L271 266.3 L272.13 265.23 L273.31 264.48 L274.4 264.24 L275.31 264.46 L276.13 265.04 L277 265.58 L277.86 266.12 L278.76 266.9 L280 267.81 L280.61 268.32 L281.29 269.09 L282.03 269.9 L282.81 270.66 L283.62 271.47 L284.43 272.3 L285.23 273.05 L286 273.68 L286.98 274.36 L287.93 274.77 L288.88 274.99 L289.85 275.08 L290.88 275.26 L292 275.47 L292.9 275.61 L293.86 275.79 L294.85 275.87 L295.88 275.85 L296.91 276.15 L297.95 276.2 L298.99 276.18 L300 276.17 L300.99 276.23 L301.95 276.17 L302.91 276.04 L303.88 275.95 L304.85 275.73 L305.86 275.48 L306.9 275.37 L308 275.36 L308.92 275.45 L309.86 275.62 L310.83 275.78 L311.83 275.77 L312.84 275.66 L313.86 275.55 L314.89 275.43 L315.93 275.43 L316.97 275.54 L318 275.56 L319.08 275.58 L320.25 275.68 L321.47 275.75 L322.71 275.71 L323.93 275.87 L325.09 275.72 L326.18 276.04 L327.15 276.28 L327.97 276.38 L328.6 276.47" fill="none" stroke="#86ee08" stroke-width="2.1" stroke-linejoin="round" stroke-linecap="butt"/>
<path d="M207.6 290.7 L208.22 290.62 L209.02 290.53 L209.97 290.3 L211.03 290.12 L212.18 290.05 L213.37 290.14 L214.58 290.49 L215.78 290.23 L216.93 290.14 L218 289.92 L219.03 289.66 L220.09 289.7 L221.16 289.57 L222.22 289.46 L223.28 289.35 L224.31 289.16 L225.31 289.31 L226.26 289.42 L227.16 289.45 L228 289.22 L229.27 288.76 L230.41 288.3 L231.44 287.92 L232.37 287.5 L233.22 287.07 L234 286.59 L234.68 286.03 L235.24 285.43 L235.71 284.74 L236.14 283.94 L236.56 282.91 L237 281.57 L237.2 280.84 L237.39 280.06 L237.59 279.23 L237.78 278.36 L237.97 277.45 L238.15 276.5 L238.34 275.51 L238.52 274.47 L238.7 273.39 L238.88 272.27 L239.06 271.11 L239.24 269.91 L239.42 268.67 L239.6 267.39 L239.71 266.55 L239.83 265.68 L239.94 264.78 L240.05 263.86 L240.17 262.92 L240.28 261.95 L240.39 260.97 L240.5 259.96 L240.62 258.94 L240.73 257.91 L240.84 256.87 L240.95 255.82 L241.06 254.76 L241.17 253.7 L241.27 252.63 L241.38 251.55 L241.49 250.48 L241.59 249.41 L241.69 248.34 L241.8 247.29 L241.9 246.25 L242 245.22 L242.1 244.19 L242.2 243.14 L242.3 242.07 L242.4 240.98 L242.49 239.87 L242.59 238.77 L242.69 237.65 L242.78 236.54 L242.88 235.42 L242.97 234.32 L243.06 233.22 L243.15 232.14 L243.24 231.07 L243.33 230.03 L243.42 229.01 L243.51 228.02 L243.59 227.06 L243.68 226.13 L243.76 225.25 L243.84 224.41 L243.92 223.61 L244 222.87 L244.18 221.26 L244.36 219.87 L244.53 218.65 L244.69 217.59 L244.84 216.68 L244.99 215.88 L245.13 215.17 L245.27 214.53 L245.4 213.94 L245.91 212.51 L246.4 212.63 L246.76 212.93 L247.13 213.74 L247.6 216.06 L247.7 216.69 L247.8 217.4 L247.9 218.17 L248.01 219.01 L248.12 219.9 L248.23 220.84 L248.35 221.81 L248.46 222.81 L248.59 223.86 L248.71 224.93 L248.83 226.03 L248.96 227.14 L249.08 228.27 L249.21 229.41 L249.34 230.55 L249.47 231.68 L249.6 232.82 L249.7 233.72 L249.8 234.65 L249.9 235.61 L250 236.6 L250.11 237.61 L250.21 238.63 L250.31 239.67 L250.42 240.73 L250.52 241.79 L250.63 242.85 L250.74 243.92 L250.85 244.98 L250.96 246.04 L251.07 247.1 L251.18 248.15 L251.29 249.18 L251.41 250.2 L251.52 251.19 L251.64 252.16 L251.76 253.1 L251.88 254 L252 254.87 L252.18 256.11 L252.37 257.32 L252.56 258.47 L252.76 259.58 L252.96 260.67 L253.16 261.72 L253.36 262.75 L253.57 263.74 L253.77 264.69 L253.98 265.64 L254.18 266.57 L254.39 267.45 L254.6 268.3 L254.8 269.12 L255 269.9 L255.43 271.39 L255.86 272.64 L256.29 273.73 L256.71 274.72 L257.14 275.66 L257.57 276.52 L258 277.31 L259 278.89 L260 279.97 L261 280.38 L261.75 280.08 L262.5 279.44 L263.25 278.49 L264 277.2 L264.38 276.38 L264.75 275.43 L265.12 274.41 L265.5 273.42 L265.88 272.4 L266.25 271.39 L266.62 270.34 L267 269.33 L267.42 268.21 L267.84 267.07 L268.25 266 L268.67 264.97 L269.1 264 L269.54 263.02 L270 262.14 L270.84 260.78 L271.71 259.66 L272.63 258.92 L273.6 258.67 L274.42 259.04 L275.27 259.62 L276.16 260.31 L277.07 261.33 L278 262.18 L278.68 262.6 L279.38 263.31 L280.1 264.24 L280.83 265.04 L281.55 265.73 L282.28 266.54 L283 267.36 L283.83 268.01 L284.67 268.58 L285.5 269.21 L286.33 269.77 L287.17 270.25 L288 270.7 L288.97 271.17 L289.9 271.58 L290.86 271.89 L291.87 272.17 L293 272.59 L293.89 272.55 L294.83 272.43 L295.81 272.28 L296.83 272.01 L297.87 271.77 L298.93 271.54 L300 271.31 L300.95 271.13 L301.93 271.08 L302.93 271.13 L303.94 270.99 L304.96 270.64 L305.98 270.31 L306.99 270.15 L308 270.19 L309.01 270.32 L310.05 270.42 L311.09 270.22 L312.12 270.13 L313.15 269.95 L314.14 269.73 L315.1 269.83 L316 269.81 L317.11 269.76 L318.13 269.85 L319.09 270.01 L320.03 270.2 L320.99 270.4 L322 270.52 L323.14 270.48 L324.4 270.38 L325.68 270.45 L326.87 270.8 L327.88 270.89 L328.6 271" fill="none" stroke="#157a15" stroke-width="2.15" stroke-linejoin="round" stroke-linecap="butt"/>
<line x1="263" y1="241.9" x2="263" y2="301.8" stroke="#404040" stroke-width="1.3"/>
<text x="267.6" y="301.8" font-size="12.5" letter-spacing="0.3">92 ± 2 ms</text>
<text x="207.6" y="327.3" font-size="14.3" text-anchor="middle">0</text>
<text x="268.1" y="327.3" font-size="14.3" text-anchor="middle" textLength="26.2" lengthAdjust="spacingAndGlyphs">100</text>
<text x="328.6" y="327.3" font-size="14.3" text-anchor="middle" textLength="26.2" lengthAdjust="spacingAndGlyphs">200</text>
<line x1="396.3" y1="50.6" x2="396.3" y2="159.45" stroke="#3d3d3d" stroke-width="1.65"/>
<line x1="396.3" y1="58.9" x2="398.5" y2="58.9" stroke="#3d3d3d" stroke-width="1.65"/>
<line x1="396.3" y1="100.8" x2="398.5" y2="100.8" stroke="#3d3d3d" stroke-width="1.65"/>
<line x1="396.3" y1="142.5" x2="398.5" y2="142.5" stroke="#3d3d3d" stroke-width="1.65"/>
<text x="389" y="64.1" font-size="14.3" text-anchor="end" textLength="19" lengthAdjust="spacingAndGlyphs">1.0</text>
<text x="389" y="106" font-size="14.3" text-anchor="end" textLength="20.3" lengthAdjust="spacingAndGlyphs">0.5</text>
<text x="391.2" y="147.7" font-size="14.3" text-anchor="end">0</text>
<line x1="395.65" y1="158.8" x2="517.4" y2="158.8" stroke="#3d3d3d" stroke-width="1.65"/>
<line x1="396.3" y1="158.8" x2="396.3" y2="156.6" stroke="#3d3d3d" stroke-width="1.65"/>
<line x1="426.43" y1="158.8" x2="426.43" y2="156.6" stroke="#3d3d3d" stroke-width="1.65"/>
<line x1="456.55" y1="158.8" x2="456.55" y2="156.6" stroke="#3d3d3d" stroke-width="1.65"/>
<line x1="486.67" y1="158.8" x2="486.67" y2="156.6" stroke="#3d3d3d" stroke-width="1.65"/>
<line x1="516.8" y1="158.8" x2="516.8" y2="156.6" stroke="#3d3d3d" stroke-width="1.65"/>
<text x="457.25" y="36.1" font-size="12.6" text-anchor="middle" letter-spacing="0.85">Pre-cool</text>
<line x1="467.8" y1="54" x2="477" y2="54" stroke="#1f1f1f" stroke-width="2.5"/>
<line x1="467.8" y1="69.8" x2="477" y2="69.8" stroke="#b4b4b4" stroke-width="2.5"/>
<text x="481.4" y="60.3" font-size="13" textLength="48.6" lengthAdjust="spacingAndGlyphs">Contour</text>
<text x="481.4" y="74.5" font-size="13" textLength="34.5" lengthAdjust="spacingAndGlyphs">Noise</text>
<path d="M396.3 141.05 L396.96 141.16 L397.83 141.29 L398.87 141.74 L400.02 141.8 L401.26 141.81 L402.53 141.75 L403.79 141.64 L405 141.51 L405.97 141.5 L406.98 141.43 L408.03 141.45 L409.1 141.56 L410.17 141.68 L411.23 141.75 L412.25 141.67 L413.24 141.45 L414.16 141.12 L415 140.85 L416.25 140.57 L417.37 140.49 L418.38 140.17 L419.3 139.89 L420.16 139.59 L421 138.98 L421.94 138.4 L422.79 137.96 L423.57 137.16 L424.3 136.14 L425 135.08 L425.34 134.44 L425.67 133.77 L425.99 133.02 L426.29 132.21 L426.59 131.33 L426.88 130.37 L427.16 129.31 L427.44 128.14 L427.72 126.86 L428 125.45 L428.14 124.69 L428.28 123.9 L428.41 123.08 L428.55 122.21 L428.68 121.29 L428.82 120.34 L428.95 119.36 L429.08 118.36 L429.21 117.34 L429.34 116.3 L429.47 115.23 L429.59 114.15 L429.72 113.05 L429.85 111.94 L429.97 110.83 L430.1 109.71 L430.22 108.58 L430.35 107.45 L430.47 106.3 L430.6 105.15 L430.7 104.25 L430.79 103.32 L430.89 102.36 L430.99 101.37 L431.09 100.37 L431.18 99.34 L431.28 98.3 L431.38 97.26 L431.48 96.21 L431.57 95.16 L431.67 94.1 L431.77 93.03 L431.86 91.97 L431.96 90.91 L432.05 89.85 L432.14 88.81 L432.24 87.77 L432.33 86.75 L432.42 85.74 L432.5 84.75 L432.59 83.79 L432.68 82.85 L432.76 81.93 L432.84 81.03 L432.92 80.16 L433 79.33 L433.12 78.03 L433.24 76.76 L433.35 75.52 L433.46 74.32 L433.57 73.16 L433.67 72.03 L433.77 70.94 L433.86 69.9 L433.96 68.9 L434.05 67.94 L434.14 67.04 L434.23 66.19 L434.32 65.38 L434.42 64.63 L434.51 63.94 L434.6 63.3 L435.08 60.92 L435.54 59.92 L436 59.64 L436.44 59.86 L436.89 60.87 L437.4 63.14 L437.52 63.81 L437.65 64.56 L437.78 65.37 L437.91 66.24 L438.05 67.17 L438.18 68.15 L438.32 69.18 L438.47 70.23 L438.62 71.33 L438.77 72.46 L438.92 73.61 L439.08 74.79 L439.24 75.99 L439.4 77.19 L439.52 78.06 L439.63 78.97 L439.75 79.9 L439.88 80.86 L440 81.84 L440.12 82.85 L440.25 83.87 L440.38 84.9 L440.51 85.95 L440.64 87 L440.77 88.06 L440.9 89.11 L441.04 90.16 L441.17 91.21 L441.31 92.26 L441.44 93.29 L441.58 94.3 L441.72 95.29 L441.86 96.25 L442 97.18 L442.18 98.33 L442.36 99.46 L442.54 100.58 L442.72 101.64 L442.91 102.69 L443.1 103.72 L443.28 104.74 L443.48 105.73 L443.67 106.7 L443.86 107.65 L444.05 108.6 L444.24 109.54 L444.43 110.44 L444.62 111.31 L444.81 112.13 L445 112.91 L445.37 114.33 L445.74 115.59 L446.11 116.71 L446.48 117.71 L446.85 118.64 L447.22 119.51 L447.61 120.32 L448 121.11 L448.82 122.35 L449.66 123.34 L450.53 124.05 L451.4 124.45 L452.3 124.46 L453.22 124.29 L454.14 123.54 L455 122.25 L455.4 121.5 L455.79 120.61 L456.17 119.61 L456.54 118.53 L456.9 117.35 L457.26 116.18 L457.63 115.04 L458 114.02 L458.43 113.04 L458.86 112.04 L459.29 111.06 L459.71 109.94 L460.14 108.87 L460.57 107.88 L461 107.08 L461.76 105.96 L462.52 104.96 L463.28 104.08 L464 103.45 L465.28 102.8 L466.6 102.94 L467.4 103.54 L468.27 104.44 L469.16 105.46 L470 106.4 L470.75 107.12 L471.44 107.6 L472.16 108.11 L473 108.66 L473.77 109.26 L474.6 109.96 L475.49 110.75 L476.42 111.61 L477.4 112.6 L478.24 113.3 L479.09 114 L479.98 114.69 L480.91 115.23 L481.91 115.6 L483 115.73 L483.89 115.96 L484.85 116.18 L485.87 116.34 L486.91 116.53 L487.97 116.69 L489.01 116.85 L490.03 117.03 L491 117 L492.05 116.85 L493.07 116.57 L494.07 116.12 L495.05 115.85 L496.03 115.66 L497.01 115.53 L498 115.5 L499.01 115.53 L500.03 115.58 L501.05 115.65 L502.07 115.77 L503.07 115.94 L504.05 116.15 L505 116.14 L506.06 116.26 L507.08 116.47 L508.08 116.52 L509.05 116.84 L510.02 117.09 L511 117.03 L512.27 117.06 L513.61 117.07 L514.91 117.53 L516.01 117.84 L516.8 118.04" fill="none" stroke="#b4b4b4" stroke-width="2.1" stroke-linejoin="round" stroke-linecap="butt"/>
<path d="M396.3 140.95 L396.96 141.03 L397.83 141.14 L398.87 141.25 L400.02 141.51 L401.26 141.6 L402.53 141.5 L403.79 141.39 L405 141.39 L405.97 141.53 L406.98 141.57 L408.03 141.58 L409.1 141.54 L410.17 141.26 L411.23 141.12 L412.25 140.99 L413.24 140.89 L414.16 141.05 L415 141.03 L416.25 140.92 L417.37 140.94 L418.38 140.61 L419.3 140.26 L420.16 139.85 L421 139.29 L421.94 138.55 L422.79 137.75 L423.57 137.08 L424.3 136.24 L425 134.89 L425.34 134.11 L425.67 133.31 L425.99 132.54 L426.29 131.71 L426.59 130.82 L426.88 129.85 L427.16 128.78 L427.44 127.58 L427.72 126.26 L428 124.81 L428.14 124.04 L428.28 123.23 L428.41 122.39 L428.55 121.54 L428.68 120.69 L428.82 119.81 L428.95 118.9 L429.08 117.97 L429.21 117.02 L429.34 116.04 L429.47 115.05 L429.59 114.03 L429.72 113 L429.85 111.95 L429.97 110.88 L430.1 109.79 L430.22 108.68 L430.35 107.56 L430.47 106.44 L430.6 105.31 L430.7 104.42 L430.79 103.51 L430.89 102.56 L430.99 101.6 L431.09 100.61 L431.18 99.6 L431.28 98.57 L431.38 97.53 L431.48 96.49 L431.57 95.43 L431.67 94.37 L431.77 93.3 L431.86 92.24 L431.96 91.18 L432.05 90.12 L432.14 89.07 L432.24 88.03 L432.33 87.01 L432.42 86 L432.5 85.02 L432.59 84.05 L432.68 83.11 L432.76 82.17 L432.84 81.26 L432.92 80.39 L433 79.54 L433.12 78.22 L433.24 76.93 L433.35 75.68 L433.46 74.46 L433.57 73.28 L433.67 72.14 L433.77 71.03 L433.86 69.98 L433.96 68.96 L434.05 67.99 L434.14 67.07 L434.23 66.19 L434.32 65.36 L434.42 64.59 L434.51 63.86 L434.6 63.2 L435.08 60.69 L435.54 59.56 L436 59.21 L436.44 59.36 L436.89 60.31 L437.4 62.53 L437.52 63.19 L437.65 63.92 L437.78 64.72 L437.91 65.58 L438.05 66.5 L438.18 67.46 L438.32 68.49 L438.47 69.59 L438.62 70.72 L438.77 71.89 L438.92 73.09 L439.08 74.32 L439.24 75.56 L439.4 76.81 L439.52 77.71 L439.63 78.65 L439.75 79.61 L439.88 80.58 L440 81.58 L440.12 82.6 L440.25 83.64 L440.38 84.69 L440.51 85.75 L440.64 86.81 L440.77 87.88 L440.9 88.95 L441.04 90.01 L441.17 91.06 L441.31 92.1 L441.44 93.13 L441.58 94.13 L441.72 95.11 L441.86 96.06 L442 96.98 L442.18 98.11 L442.36 99.24 L442.54 100.36 L442.72 101.46 L442.91 102.55 L443.1 103.63 L443.28 104.69 L443.48 105.72 L443.67 106.74 L443.86 107.73 L444.05 108.7 L444.24 109.64 L444.43 110.54 L444.62 111.41 L444.81 112.24 L445 113.02 L445.37 114.44 L445.74 115.66 L446.11 116.74 L446.48 117.7 L446.85 118.57 L447.22 119.37 L447.61 120.12 L448 120.83 L448.82 122.08 L449.66 123.13 L450.53 124.12 L451.4 124.55 L452.3 124.42 L453.22 124.16 L454.14 123.29 L455 121.87 L455.4 121.15 L455.79 120.32 L456.17 119.39 L456.54 118.38 L456.9 117.31 L457.26 116.23 L457.63 115.2 L458 114.27 L458.43 113.27 L458.86 112.26 L459.29 111.26 L459.71 110.17 L460.14 109.15 L460.57 108.24 L461 107.38 L462 105.8 L463 104.95 L464 104.47 L464.96 104.36 L465.93 105.12 L467 106.12 L467.61 106.75 L468.26 107.46 L468.94 108.26 L469.63 109.04 L470.32 109.83 L471 110.74 L471.56 111.57 L472.11 112.43 L472.66 113.34 L473.22 114.25 L473.78 115.21 L474.38 116.18 L475 117.08 L475.66 117.93 L476.36 118.83 L477.07 119.76 L477.8 120.63 L478.54 121.39 L479.28 122.16 L480 122.92 L480.85 123.71 L481.72 124.42 L482.59 125.08 L483.44 125.6 L484.25 125.94 L485 126.27 L486.28 126.89 L487.39 127.44 L488.5 127.69 L489.56 127.69 L490.62 127.34 L492 127.08 L492.94 127.26 L494.04 127.3 L495.22 127.5 L496.4 127.43 L497.49 127.29 L498.4 127.36 L499.71 127.34 L500.66 127.31 L501.5 127.15 L502.62 126.37 L503.7 125.78 L504.56 126.13 L505.49 126.87 L506.5 127.55 L507.49 127.99 L508.56 128.3 L510 128.53 L511.02 128.86 L512.27 128.78 L513.62 129.16 L514.91 129.35 L516.02 129.53 L516.8 129.65" fill="none" stroke="#1f1f1f" stroke-width="2.15" stroke-linejoin="round" stroke-linecap="butt"/>
<line x1="471.6" y1="93" x2="471.6" y2="152.9" stroke="#151515" stroke-width="1.3"/>
<text x="477" y="152.9" font-size="12.5" letter-spacing="0.3">125 ± 1 ms</text>
<line x1="544.8" y1="158.8" x2="665.9" y2="158.8" stroke="#3d3d3d" stroke-width="1.65"/>
<line x1="544.8" y1="158.8" x2="544.8" y2="156.6" stroke="#3d3d3d" stroke-width="1.65"/>
<line x1="574.92" y1="158.8" x2="574.92" y2="156.6" stroke="#3d3d3d" stroke-width="1.65"/>
<line x1="605.05" y1="158.8" x2="605.05" y2="156.6" stroke="#3d3d3d" stroke-width="1.65"/>
<line x1="635.17" y1="158.8" x2="635.17" y2="156.6" stroke="#3d3d3d" stroke-width="1.65"/>
<line x1="665.3" y1="158.8" x2="665.3" y2="156.6" stroke="#3d3d3d" stroke-width="1.65"/>
<text x="605.75" y="36.1" font-size="12.6" text-anchor="middle" letter-spacing="0.85">Pre-sham</text>
<line x1="616.3" y1="54" x2="625.5" y2="54" stroke="#1f1f1f" stroke-width="2.5"/>
<line x1="616.3" y1="69.8" x2="625.5" y2="69.8" stroke="#b4b4b4" stroke-width="2.5"/>
<text x="629.9" y="60.3" font-size="13" textLength="48.6" lengthAdjust="spacingAndGlyphs">Contour</text>
<text x="629.9" y="74.5" font-size="13" textLength="34.5" lengthAdjust="spacingAndGlyphs">Noise</text>
<path d="M544.8 141.59 L545.41 141.6 L546.19 141.63 L547.12 141.34 L548.16 141.38 L549.28 141.6 L550.44 141.92 L551.63 142.05 L552.81 142.04 L553.94 141.94 L555 141.8 L556.03 141.66 L557.08 141.89 L558.15 141.99 L559.23 142.03 L560.29 142.04 L561.33 141.67 L562.33 141.53 L563.28 141.38 L564.18 141 L565 140.95 L566.45 140.8 L567.69 140.47 L568.77 140.17 L569.73 139.47 L570.6 138.83 L571.34 138.17 L571.93 137.47 L572.43 136.61 L572.9 135.53 L573.4 134.15 L573.64 133.44 L573.88 132.71 L574.12 131.96 L574.36 131.15 L574.6 130.29 L574.83 129.37 L575.06 128.37 L575.3 127.28 L575.53 126.1 L575.76 124.76 L576 123.28 L576.12 122.49 L576.24 121.66 L576.36 120.8 L576.48 119.91 L576.6 118.99 L576.73 118.04 L576.85 117.07 L576.97 116.07 L577.09 115.06 L577.22 114.02 L577.34 112.97 L577.46 111.91 L577.58 110.83 L577.7 109.74 L577.82 108.64 L577.93 107.53 L578.05 106.41 L578.16 105.3 L578.28 104.18 L578.39 103.06 L578.49 101.93 L578.6 100.8 L578.69 99.83 L578.78 98.83 L578.86 97.8 L578.95 96.76 L579.03 95.69 L579.11 94.6 L579.2 93.5 L579.28 92.4 L579.36 91.28 L579.44 90.16 L579.52 89.03 L579.6 87.91 L579.67 86.8 L579.75 85.69 L579.83 84.6 L579.9 83.56 L579.98 82.54 L580.05 81.54 L580.12 80.55 L580.19 79.6 L580.26 78.67 L580.33 77.77 L580.4 76.91 L580.47 76.09 L580.53 75.31 L580.6 74.57 L580.74 73.08 L580.87 71.72 L581 70.48 L581.12 69.34 L581.24 68.29 L581.35 67.31 L581.46 66.41 L581.57 65.59 L581.68 64.82 L581.79 64.1 L581.89 63.42 L582 62.77 L582.41 60.78 L582.79 59.75 L583.2 59.49 L583.63 59.78 L584.08 60.79 L584.6 62.81 L584.72 63.44 L584.85 64.13 L584.98 64.89 L585.12 65.72 L585.25 66.6 L585.39 67.53 L585.54 68.55 L585.68 69.61 L585.83 70.7 L585.98 71.83 L586.13 72.99 L586.29 74.17 L586.44 75.37 L586.6 76.58 L586.71 77.44 L586.82 78.34 L586.93 79.27 L587.04 80.21 L587.16 81.19 L587.27 82.18 L587.39 83.19 L587.5 84.21 L587.62 85.24 L587.74 86.28 L587.86 87.33 L587.98 88.38 L588.1 89.43 L588.22 90.48 L588.35 91.54 L588.48 92.6 L588.6 93.64 L588.73 94.67 L588.87 95.68 L589 96.67 L589.15 97.76 L589.31 98.85 L589.47 99.95 L589.63 101.04 L589.79 102.14 L589.96 103.23 L590.12 104.31 L590.29 105.38 L590.46 106.45 L590.63 107.5 L590.81 108.54 L590.98 109.56 L591.15 110.53 L591.32 111.47 L591.49 112.39 L591.66 113.28 L591.83 114.15 L592 114.99 L592.25 116.2 L592.48 117.37 L592.72 118.48 L592.95 119.55 L593.18 120.58 L593.41 121.56 L593.65 122.5 L593.9 123.41 L594.15 124.29 L594.42 125.13 L594.7 125.92 L595 126.67 L595.56 127.97 L596.18 129.26 L596.83 130.41 L597.5 131.39 L598.16 132.18 L598.8 132.74 L599.4 133.08 L600.16 132.89 L600.88 132.29 L601.57 131.46 L602.27 130.39 L603 129.07 L603.42 128.24 L603.85 127.31 L604.29 126.32 L604.73 125.26 L605.17 124.13 L605.62 122.93 L606.08 121.76 L606.54 120.71 L607 119.87 L607.61 118.86 L608.22 117.77 L608.85 116.7 L609.48 115.79 L610.12 115.1 L610.76 114.57 L611.4 114.2 L612.3 114.19 L613.21 114.7 L614.12 115.31 L615.05 116.03 L616 116.83 L616.68 117.46 L617.37 118.21 L618.06 119.07 L618.77 120.01 L619.49 120.84 L620.23 121.6 L621 122.17 L621.8 122.69 L622.64 123.5 L623.5 124.26 L624.38 124.9 L625.26 125.71 L626.13 126.44 L627 126.75 L627.98 127.18 L628.93 127.58 L629.88 127.79 L630.85 128.02 L631.88 128.13 L633 127.79 L633.9 127.68 L634.86 127.52 L635.85 127.34 L636.88 127.24 L637.91 127 L638.95 126.61 L639.99 126.05 L641 125.92 L642 125.71 L643 125.45 L644 125.27 L645 125.09 L646 124.91 L647 124.73 L648 124.71 L649 124.65 L650 124.65 L650.99 124.9 L651.99 124.98 L652.98 125.01 L653.98 124.99 L654.98 125.06 L655.99 125.18 L657 125.34 L658.08 125.54 L659.25 125.8 L660.46 126.13 L661.65 126.45 L662.78 126.61 L663.8 126.46 L664.66 126.58 L665.3 126.66" fill="none" stroke="#b4b4b4" stroke-width="2.1" stroke-linejoin="round" stroke-linecap="butt"/>
<path d="M544.8 141.55 L545.41 141.59 L546.19 141.66 L547.12 141.89 L548.16 142 L549.28 141.89 L550.44 141.95 L551.63 141.7 L552.81 141.92 L553.94 142.21 L555 142.45 L556.03 142.64 L557.08 142.26 L558.15 142.08 L559.23 141.87 L560.29 141.53 L561.33 141.69 L562.33 141.45 L563.28 141.21 L564.18 141.28 L565 141.07 L566.45 140.73 L567.69 140.44 L568.77 139.85 L569.73 139.51 L570.6 138.8 L571.34 137.92 L571.93 137.19 L572.43 136.32 L572.9 135.2 L573.4 133.66 L573.64 132.87 L573.88 132.07 L574.12 131.23 L574.36 130.39 L574.6 129.52 L574.83 128.58 L575.06 127.57 L575.3 126.47 L575.53 125.27 L575.76 123.95 L576 122.5 L576.12 121.72 L576.24 120.91 L576.36 120.07 L576.48 119.2 L576.6 118.29 L576.73 117.36 L576.85 116.4 L576.97 115.42 L577.09 114.44 L577.22 113.44 L577.34 112.42 L577.46 111.38 L577.58 110.33 L577.7 109.27 L577.82 108.21 L577.93 107.13 L578.05 106.04 L578.16 104.96 L578.28 103.87 L578.39 102.78 L578.49 101.7 L578.6 100.62 L578.69 99.7 L578.78 98.74 L578.86 97.76 L578.95 96.75 L579.03 95.73 L579.11 94.69 L579.2 93.63 L579.28 92.56 L579.36 91.49 L579.44 90.4 L579.52 89.32 L579.6 88.24 L579.67 87.16 L579.75 86.09 L579.83 85.03 L579.9 83.97 L579.98 82.93 L580.05 81.91 L580.12 80.91 L580.19 79.94 L580.26 78.99 L580.33 78.08 L580.4 77.2 L580.47 76.36 L580.53 75.57 L580.6 74.81 L580.74 73.3 L580.87 71.91 L581 70.63 L581.12 69.46 L581.24 68.39 L581.35 67.4 L581.46 66.48 L581.57 65.64 L581.68 64.86 L581.79 64.12 L581.89 63.43 L582 62.77 L582.41 60.72 L582.79 59.63 L583.2 59.28 L583.63 59.47 L584.08 60.45 L584.6 62.75 L584.72 63.44 L584.85 64.2 L584.98 65.03 L585.12 65.93 L585.25 66.88 L585.39 67.89 L585.54 68.93 L585.68 70.02 L585.83 71.15 L585.98 72.31 L586.13 73.5 L586.29 74.71 L586.44 75.93 L586.6 77.17 L586.71 78.06 L586.82 78.98 L586.93 79.89 L587.04 80.84 L587.16 81.8 L587.27 82.79 L587.39 83.79 L587.5 84.81 L587.62 85.84 L587.74 86.87 L587.86 87.91 L587.98 88.95 L588.1 90 L588.22 91.03 L588.35 92.06 L588.48 93.08 L588.6 94.08 L588.73 95.07 L588.87 96.04 L589 96.99 L589.15 98.03 L589.31 99.07 L589.47 100.12 L589.63 101.17 L589.79 102.23 L589.96 103.29 L590.12 104.35 L590.29 105.4 L590.46 106.43 L590.63 107.46 L590.81 108.47 L590.98 109.46 L591.15 110.45 L591.32 111.41 L591.49 112.35 L591.66 113.27 L591.83 114.16 L592 115.02 L592.25 116.27 L592.48 117.48 L592.72 118.63 L592.95 119.74 L593.18 120.81 L593.41 121.84 L593.65 122.82 L593.9 123.75 L594.15 124.62 L594.42 125.44 L594.7 126.21 L595 126.94 L595.56 128.17 L596.18 129.35 L596.83 130.35 L597.5 131.1 L598.16 131.7 L598.8 132.2 L599.4 132.49 L600.16 132.42 L600.88 131.93 L601.57 131.23 L602.27 130.31 L603 129.15 L603.48 128.33 L603.96 127.33 L604.45 126.21 L604.95 125.04 L605.45 123.89 L605.96 122.77 L606.48 121.74 L607 120.89 L607.72 119.86 L608.47 118.87 L609.22 117.96 L609.98 117.2 L610.71 116.64 L611.4 116.31 L612.35 116.36 L613.23 116.93 L614.09 117.74 L615 118.53 L615.77 119.02 L616.57 119.72 L617.38 120.61 L618.19 121.44 L619 122.25 L619.66 123.05 L620.3 123.88 L620.94 124.7 L621.59 125.51 L622.28 126.36 L623 127.22 L623.65 128.01 L624.33 128.87 L625.02 129.67 L625.73 130.41 L626.47 131.05 L627.22 131.59 L628 132.15 L628.88 132.7 L629.74 132.95 L630.62 133.2 L631.59 133.46 L632.7 133.47 L634 133.82 L634.82 134.03 L635.71 134.17 L636.67 134.14 L637.67 133.98 L638.72 133.71 L639.79 133.49 L640.86 133.36 L641.94 133.43 L642.99 133.63 L644.02 133.62 L645 133.79 L646.04 133.85 L647.06 133.69 L648.06 133.89 L649.06 134.09 L650.04 134.28 L651.03 134.41 L652.01 134.72 L653 134.98 L653.99 135.09 L655 135.31 L656.06 135.28 L657.21 135.08 L658.39 134.93 L659.59 135.12 L660.77 135.25 L661.91 135.41 L662.96 135.44 L663.89 135.12 L664.69 135.08 L665.3 135.05" fill="none" stroke="#1f1f1f" stroke-width="2.15" stroke-linejoin="round" stroke-linecap="butt"/>
<line x1="617" y1="93" x2="617" y2="152.9" stroke="#151515" stroke-width="1.3"/>
<text x="622" y="152.9" font-size="12.5" letter-spacing="0.3">120 ± 2 ms</text>
<line x1="396.3" y1="199.5" x2="396.3" y2="308.35" stroke="#3d3d3d" stroke-width="1.65"/>
<line x1="396.3" y1="207.9" x2="398.5" y2="207.9" stroke="#3d3d3d" stroke-width="1.65"/>
<line x1="396.3" y1="249" x2="398.5" y2="249" stroke="#3d3d3d" stroke-width="1.65"/>
<line x1="396.3" y1="290.1" x2="398.5" y2="290.1" stroke="#3d3d3d" stroke-width="1.65"/>
<text x="389" y="213.1" font-size="14.3" text-anchor="end" textLength="19" lengthAdjust="spacingAndGlyphs">1.0</text>
<text x="389" y="254.2" font-size="14.3" text-anchor="end" textLength="20.3" lengthAdjust="spacingAndGlyphs">0.5</text>
<text x="391.2" y="295.3" font-size="14.3" text-anchor="end">0</text>
<line x1="395.65" y1="307.7" x2="517.4" y2="307.7" stroke="#3d3d3d" stroke-width="1.65"/>
<line x1="396.3" y1="307.7" x2="396.3" y2="305.5" stroke="#3d3d3d" stroke-width="1.65"/>
<line x1="426.43" y1="307.7" x2="426.43" y2="305.5" stroke="#3d3d3d" stroke-width="1.65"/>
<line x1="456.55" y1="307.7" x2="456.55" y2="305.5" stroke="#3d3d3d" stroke-width="1.65"/>
<line x1="486.67" y1="307.7" x2="486.67" y2="305.5" stroke="#3d3d3d" stroke-width="1.65"/>
<line x1="516.8" y1="307.7" x2="516.8" y2="305.5" stroke="#3d3d3d" stroke-width="1.65"/>
<text x="457.25" y="185" font-size="12.6" text-anchor="middle" letter-spacing="0.85">Cool</text>
<line x1="467.8" y1="202.9" x2="477" y2="202.9" stroke="#0000e6" stroke-width="2.5"/>
<line x1="467.8" y1="218.7" x2="477" y2="218.7" stroke="#35bdee" stroke-width="2.5"/>
<text x="481.4" y="209.2" font-size="13" textLength="48.6" lengthAdjust="spacingAndGlyphs">Contour</text>
<text x="481.4" y="223.4" font-size="13" textLength="34.5" lengthAdjust="spacingAndGlyphs">Noise</text>
<path d="M396.3 290.1 L396.93 290.05 L397.72 290 L398.67 289.74 L399.73 289.69 L400.88 289.86 L402.09 290.13 L403.33 290.15 L404.57 290.14 L405.79 289.85 L406.95 289.73 L408.03 289.73 L409 289.77 L410.18 289.78 L411.33 289.76 L412.42 289.66 L413.47 289.56 L414.48 289.55 L415.43 289.34 L416.34 289.13 L417.2 288.9 L418 288.72 L419.29 288.49 L420.38 288.22 L421.34 287.71 L422.19 287.1 L423 286.39 L423.74 285.78 L424.37 285.11 L424.94 284.24 L425.47 283.15 L426 281.77 L426.24 281.06 L426.47 280.32 L426.69 279.54 L426.91 278.72 L427.12 277.84 L427.33 276.92 L427.54 275.91 L427.75 274.82 L427.96 273.63 L428.18 272.33 L428.4 270.92 L428.51 270.16 L428.63 269.37 L428.75 268.54 L428.87 267.68 L428.99 266.79 L429.11 265.87 L429.23 264.93 L429.36 263.96 L429.48 262.97 L429.6 261.96 L429.73 260.93 L429.85 259.9 L429.97 258.85 L430.09 257.81 L430.21 256.76 L430.33 255.71 L430.45 254.65 L430.56 253.6 L430.67 252.55 L430.79 251.51 L430.89 250.47 L431 249.45 L431.1 248.5 L431.19 247.53 L431.28 246.54 L431.37 245.51 L431.46 244.46 L431.55 243.4 L431.64 242.33 L431.73 241.25 L431.81 240.17 L431.9 239.09 L431.98 238.01 L432.06 236.93 L432.14 235.86 L432.23 234.81 L432.31 233.76 L432.39 232.74 L432.46 231.73 L432.54 230.74 L432.62 229.78 L432.7 228.85 L432.77 227.94 L432.85 227.06 L432.92 226.22 L433 225.42 L433.14 224.01 L433.27 222.67 L433.4 221.4 L433.53 220.2 L433.66 219.07 L433.79 218 L433.91 217 L434.03 216.05 L434.15 215.15 L434.27 214.3 L434.38 213.5 L434.49 212.76 L434.6 212.06 L435.02 209.82 L435.4 208.65 L435.8 208.26 L436.22 208.34 L436.67 209.18 L437.2 211.39 L437.32 212.06 L437.45 212.79 L437.58 213.58 L437.72 214.44 L437.86 215.35 L438 216.31 L438.15 217.33 L438.3 218.38 L438.45 219.5 L438.61 220.66 L438.76 221.85 L438.92 223.07 L439.08 224.31 L439.24 225.57 L439.4 226.84 L439.51 227.73 L439.62 228.67 L439.73 229.64 L439.84 230.63 L439.96 231.66 L440.07 232.71 L440.18 233.78 L440.3 234.87 L440.42 235.97 L440.53 237.07 L440.65 238.18 L440.77 239.29 L440.89 240.4 L441.01 241.5 L441.13 242.58 L441.25 243.63 L441.37 244.66 L441.5 245.67 L441.62 246.65 L441.75 247.6 L441.87 248.51 L442 249.38 L442.19 250.62 L442.38 251.81 L442.56 252.96 L442.76 254.05 L442.95 255.1 L443.14 256.12 L443.34 257.11 L443.54 258.07 L443.74 259 L443.94 259.91 L444.15 260.82 L444.36 261.7 L444.57 262.56 L444.78 263.4 L445 264.21 L445.37 265.51 L445.75 266.76 L446.14 267.94 L446.54 269.05 L446.94 270.08 L447.35 271.03 L447.76 271.91 L448.18 272.7 L448.6 273.35 L449.38 274.33 L450.2 275.01 L451.02 275.45 L451.83 275.75 L452.6 275.87 L453.5 275.79 L454.36 275.33 L455.19 274.51 L456 273.34 L456.39 272.61 L456.75 271.68 L457.11 270.61 L457.46 269.48 L457.82 268.3 L458.19 267.09 L458.58 265.87 L459 264.67 L459.41 263.57 L459.84 262.43 L460.3 261.23 L460.76 260.05 L461.24 259.07 L461.7 258.14 L462.16 257.29 L462.59 256.49 L463 255.83 L464.07 254.58 L465.04 253.98 L466 253.33 L466.96 252.78 L467.93 252.53 L469 252.69 L469.88 253.06 L470.81 253.51 L471.84 254 L473 254.44 L473.75 254.88 L474.57 255.5 L475.43 256.28 L476.32 257.15 L477.23 258.11 L478.13 258.77 L479 259.25 L479.98 259.82 L480.93 260.23 L481.88 260.58 L482.85 261.18 L483.88 261.71 L485 262.24 L485.9 262.65 L486.86 262.83 L487.85 262.99 L488.88 263.14 L489.91 263.32 L490.95 263.3 L491.99 263.37 L493 263.57 L494 263.6 L495 263.64 L496 263.58 L497 263.29 L498 263.31 L499 263.47 L500 263.73 L501 263.94 L502 263.91 L503 263.74 L504.01 263.5 L505.01 263.61 L506.01 263.67 L507.01 263.7 L508.01 263.92 L509 263.83 L510.19 263.8 L511.47 264.01 L512.77 264.02 L514.01 264.24 L515.15 264.68 L516.1 264.86 L516.8 264.98" fill="none" stroke="#35bdee" stroke-width="2.1" stroke-linejoin="round" stroke-linecap="butt"/>
<path d="M396.3 289.97 L396.93 289.99 L397.72 290.01 L398.67 289.83 L399.73 289.78 L400.88 289.75 L402.09 289.6 L403.33 289.68 L404.57 290 L405.79 290.24 L406.95 290.14 L408.03 289.85 L409 289.53 L410.18 289.47 L411.33 289.49 L412.42 289.49 L413.47 289.38 L414.48 289.12 L415.43 289.01 L416.34 288.86 L417.2 288.68 L418 288.53 L419.29 288.33 L420.38 288.2 L421.34 288.01 L422.19 287.65 L423 287.1 L423.74 286.29 L424.37 285.45 L424.94 284.49 L425.47 283.32 L426 281.84 L426.24 281.08 L426.47 280.3 L426.69 279.48 L426.91 278.62 L427.12 277.71 L427.33 276.8 L427.54 275.81 L427.75 274.73 L427.96 273.56 L428.18 272.27 L428.4 270.87 L428.51 270.12 L428.63 269.32 L428.75 268.48 L428.87 267.6 L428.99 266.7 L429.11 265.77 L429.23 264.81 L429.36 263.82 L429.48 262.82 L429.6 261.8 L429.73 260.76 L429.85 259.71 L429.97 258.66 L430.09 257.6 L430.21 256.55 L430.33 255.49 L430.45 254.43 L430.56 253.37 L430.67 252.31 L430.79 251.26 L430.89 250.22 L431 249.19 L431.1 248.24 L431.19 247.27 L431.28 246.27 L431.37 245.24 L431.46 244.18 L431.55 243.12 L431.64 242.04 L431.73 240.96 L431.81 239.87 L431.9 238.79 L431.98 237.7 L432.06 236.62 L432.14 235.55 L432.23 234.49 L432.31 233.45 L432.39 232.42 L432.46 231.41 L432.54 230.42 L432.62 229.45 L432.7 228.52 L432.77 227.63 L432.85 226.78 L432.92 225.96 L433 225.18 L433.14 223.82 L433.27 222.53 L433.4 221.31 L433.53 220.15 L433.66 219.06 L433.79 218.03 L433.91 217.07 L434.03 216.16 L434.15 215.3 L434.27 214.48 L434.38 213.72 L434.49 213 L434.6 212.34 L435.02 210.22 L435.4 209.16 L435.8 208.87 L436.22 209.06 L436.67 210 L437.2 212.2 L437.32 212.84 L437.45 213.54 L437.58 214.31 L437.72 215.13 L437.86 216.02 L438 216.95 L438.15 217.93 L438.3 218.95 L438.45 220.04 L438.61 221.17 L438.76 222.33 L438.92 223.52 L439.08 224.72 L439.24 225.95 L439.4 227.2 L439.51 228.07 L439.62 228.98 L439.73 229.92 L439.84 230.88 L439.96 231.86 L440.07 232.87 L440.18 233.9 L440.3 234.94 L440.42 236 L440.53 237.06 L440.65 238.13 L440.77 239.2 L440.89 240.26 L441.01 241.32 L441.13 242.37 L441.25 243.42 L441.37 244.46 L441.5 245.47 L441.62 246.45 L441.75 247.41 L441.87 248.32 L442 249.2 L442.19 250.44 L442.38 251.65 L442.56 252.8 L442.76 253.9 L442.95 254.97 L443.14 256 L443.34 257.01 L443.54 257.98 L443.74 258.93 L443.94 259.86 L444.15 260.81 L444.36 261.75 L444.57 262.65 L444.78 263.54 L445 264.4 L445.37 265.75 L445.75 266.88 L446.14 267.93 L446.54 268.9 L446.94 269.81 L447.35 270.66 L447.76 271.43 L448.18 272.13 L448.6 272.75 L449.38 273.69 L450.2 274.67 L451.02 275.43 L451.83 275.8 L452.6 275.93 L453.5 275.69 L454.36 275.02 L455.19 274.04 L456 272.96 L456.45 272.22 L456.89 271.29 L457.31 270.27 L457.74 269.18 L458.15 268.07 L458.57 266.97 L459 265.92 L459.42 264.85 L459.83 263.71 L460.23 262.56 L460.64 261.43 L461.07 260.42 L461.52 259.51 L462 258.71 L462.74 257.74 L463.53 256.93 L464.35 256.48 L465.18 256.1 L466 255.71 L467.02 255.21 L468.06 254.93 L469.07 254.95 L470 254.93 L471.04 255.02 L471.96 255.34 L473 255.8 L473.51 256.35 L474.04 257.23 L474.59 258.23 L475.16 259.16 L475.76 260.07 L476.37 261.01 L477 261.95 L477.65 262.8 L478.33 263.58 L479.02 264.37 L479.73 265.31 L480.47 266.19 L481.22 266.95 L482 267.59 L482.93 268.12 L483.89 268.62 L484.88 269.06 L485.89 269.43 L486.93 269.82 L488 270.16 L488.96 270.46 L489.96 270.84 L490.98 271.25 L492.02 271.59 L493.04 271.79 L494.04 271.67 L495 271.49 L496.06 271.22 L497.07 270.95 L498.06 270.8 L499.04 270.78 L500.01 270.89 L501 270.95 L502 271.23 L503 271.57 L504 271.84 L505 272.22 L506 272.56 L507 272.82 L508.03 272.89 L509.08 273.13 L510.14 273.3 L511.16 273.31 L512.13 273.5 L513 273.6 L514.57 273.87 L515.9 274.09 L516.8 274.18" fill="none" stroke="#0000e6" stroke-width="2.15" stroke-linejoin="round" stroke-linecap="butt"/>
<line x1="473.6" y1="241.9" x2="473.6" y2="301.8" stroke="#404040" stroke-width="1.3"/>
<text x="477" y="301.8" font-size="12.5" letter-spacing="0.3">128 ± 2 ms</text>
<text x="396.3" y="327.3" font-size="14.3" text-anchor="middle">0</text>
<text x="456.55" y="327.3" font-size="14.3" text-anchor="middle" textLength="26.2" lengthAdjust="spacingAndGlyphs">100</text>
<text x="516.8" y="327.3" font-size="14.3" text-anchor="middle" textLength="26.2" lengthAdjust="spacingAndGlyphs">200</text>
<line x1="544.8" y1="307.7" x2="665.9" y2="307.7" stroke="#3d3d3d" stroke-width="1.65"/>
<line x1="544.8" y1="307.7" x2="544.8" y2="305.5" stroke="#3d3d3d" stroke-width="1.65"/>
<line x1="574.92" y1="307.7" x2="574.92" y2="305.5" stroke="#3d3d3d" stroke-width="1.65"/>
<line x1="605.05" y1="307.7" x2="605.05" y2="305.5" stroke="#3d3d3d" stroke-width="1.65"/>
<line x1="635.17" y1="307.7" x2="635.17" y2="305.5" stroke="#3d3d3d" stroke-width="1.65"/>
<line x1="665.3" y1="307.7" x2="665.3" y2="305.5" stroke="#3d3d3d" stroke-width="1.65"/>
<text x="605.75" y="185" font-size="12.6" text-anchor="middle" letter-spacing="0.85">Sham</text>
<line x1="616.3" y1="202.9" x2="625.5" y2="202.9" stroke="#157a15" stroke-width="2.5"/>
<line x1="616.3" y1="218.7" x2="625.5" y2="218.7" stroke="#86ee08" stroke-width="2.5"/>
<text x="629.9" y="209.2" font-size="13" textLength="48.6" lengthAdjust="spacingAndGlyphs">Contour</text>
<text x="629.9" y="223.4" font-size="13" textLength="34.5" lengthAdjust="spacingAndGlyphs">Noise</text>
<path d="M544.8 289.57 L545.41 289.65 L546.21 289.75 L547.15 289.75 L548.2 289.89 L549.34 290.04 L550.52 289.82 L551.71 290.12 L552.87 289.96 L553.98 290.04 L555 290.08 L556.07 289.92 L557.14 290.13 L558.2 290.21 L559.25 290.14 L560.27 289.9 L561.27 289.53 L562.22 289.32 L563.14 289.2 L564 289.17 L565.21 288.93 L566.33 288.49 L567.38 287.88 L568.33 287.17 L569.21 286.48 L570 285.76 L570.8 285.05 L571.44 284.33 L571.99 283.57 L572.49 282.56 L573 281.2 L573.22 280.52 L573.44 279.81 L573.65 279.04 L573.85 278.23 L574.05 277.37 L574.25 276.44 L574.44 275.42 L574.64 274.34 L574.83 273.2 L575.02 272.01 L575.21 270.76 L575.4 269.44 L575.51 268.62 L575.63 267.78 L575.74 266.91 L575.86 266.03 L575.97 265.11 L576.08 264.18 L576.19 263.22 L576.3 262.24 L576.41 261.25 L576.52 260.24 L576.63 259.22 L576.74 258.18 L576.85 257.12 L576.96 256.06 L577.07 254.99 L577.18 253.91 L577.28 252.82 L577.39 251.73 L577.49 250.63 L577.6 249.54 L577.69 248.61 L577.78 247.65 L577.86 246.66 L577.95 245.65 L578.04 244.62 L578.13 243.57 L578.22 242.51 L578.3 241.44 L578.39 240.37 L578.48 239.28 L578.56 238.19 L578.65 237.11 L578.74 236.03 L578.82 234.96 L578.9 233.91 L578.99 232.87 L579.07 231.85 L579.15 230.85 L579.23 229.88 L579.3 228.93 L579.38 228.02 L579.45 227.15 L579.53 226.31 L579.6 225.51 L579.73 224.12 L579.85 222.79 L579.96 221.5 L580.08 220.29 L580.18 219.14 L580.29 218.06 L580.39 217.04 L580.49 216.08 L580.59 215.17 L580.69 214.33 L580.79 213.54 L580.89 212.8 L581 212.1 L581.47 209.91 L581.93 208.83 L582.4 208.51 L582.84 208.64 L583.27 209.5 L583.8 211.64 L583.92 212.26 L584.05 212.98 L584.19 213.79 L584.32 214.66 L584.47 215.59 L584.61 216.57 L584.76 217.59 L584.91 218.67 L585.07 219.78 L585.22 220.92 L585.38 222.1 L585.53 223.29 L585.69 224.49 L585.85 225.71 L586 226.95 L586.1 227.81 L586.21 228.71 L586.31 229.64 L586.42 230.6 L586.52 231.58 L586.62 232.59 L586.73 233.61 L586.83 234.65 L586.94 235.69 L587.04 236.75 L587.15 237.81 L587.26 238.88 L587.37 239.95 L587.47 241.01 L587.59 242.07 L587.7 243.12 L587.81 244.15 L587.92 245.17 L588.04 246.17 L588.16 247.15 L588.28 248.1 L588.4 249.02 L588.55 250.12 L588.71 251.22 L588.86 252.31 L589.02 253.4 L589.18 254.48 L589.35 255.55 L589.51 256.61 L589.68 257.65 L589.85 258.66 L590.02 259.66 L590.19 260.64 L590.36 261.6 L590.54 262.53 L590.71 263.44 L590.88 264.31 L591.05 265.17 L591.23 266 L591.4 266.81 L591.71 268.17 L592.02 269.45 L592.33 270.63 L592.64 271.72 L592.95 272.71 L593.27 273.63 L593.59 274.49 L593.92 275.3 L594.25 276.1 L594.6 276.85 L595.32 278.14 L596.09 279.04 L596.87 279.72 L597.64 280.22 L598.4 280.39 L599.32 280.11 L600.23 279.41 L601.12 278.33 L602 276.94 L602.43 276.09 L602.86 275.06 L603.28 273.95 L603.7 272.84 L604.12 271.87 L604.54 270.92 L604.97 270.04 L605.4 269.28 L606 268.37 L606.61 267.48 L607.22 266.58 L607.84 265.76 L608.43 265.08 L609 264.5 L609.97 263.39 L610.87 262.73 L612 262.97 L612.71 263.06 L613.48 263.33 L614.31 263.87 L615.19 264.42 L616.09 264.9 L617 265.54 L617.8 266.18 L618.64 267.08 L619.5 268.04 L620.38 269.04 L621.26 270.01 L622.13 270.76 L623 271.19 L623.98 271.87 L624.93 272.57 L625.88 273.15 L626.85 273.85 L627.88 274.35 L629 274.57 L629.9 274.64 L630.86 274.65 L631.85 274.65 L632.88 274.73 L633.91 274.64 L634.95 274.56 L635.99 274.5 L637 274.27 L637.99 274.35 L638.95 274.44 L639.91 274.42 L640.88 274.44 L641.85 274.28 L642.86 273.91 L643.9 273.55 L645 273.32 L645.92 273.28 L646.87 273.44 L647.84 273.54 L648.84 273.59 L649.86 273.56 L650.88 273.49 L651.91 273.43 L652.95 273.41 L653.98 273.43 L655 273.44 L656.06 273.6 L657.21 273.84 L658.39 274.04 L659.59 274.15 L660.77 274.15 L661.91 273.98 L662.96 273.99 L663.89 274.09 L664.69 274.16 L665.3 274.21" fill="none" stroke="#86ee08" stroke-width="2.1" stroke-linejoin="round" stroke-linecap="butt"/>
<path d="M544.8 289.5 L545.41 289.55 L546.21 289.62 L547.15 289.64 L548.2 289.86 L549.34 290.02 L550.52 290.08 L551.71 289.81 L552.87 290.06 L553.98 290.07 L555 290.07 L556.07 290.19 L557.14 289.74 L558.2 289.62 L559.25 289.5 L560.27 289.29 L561.27 289.3 L562.22 289.14 L563.14 288.91 L564 288.82 L565.21 288.64 L566.33 288.47 L567.38 288.25 L568.33 287.66 L569.21 287.02 L570 286.32 L570.8 285.4 L571.44 284.52 L571.99 283.63 L572.49 282.5 L573 281.01 L573.22 280.27 L573.44 279.49 L573.65 278.67 L573.85 277.79 L574.05 276.87 L574.25 275.91 L574.44 274.91 L574.64 273.86 L574.83 272.75 L575.02 271.58 L575.21 270.36 L575.4 269.07 L575.51 268.27 L575.63 267.44 L575.74 266.58 L575.86 265.69 L575.97 264.78 L576.08 263.85 L576.19 262.9 L576.3 261.93 L576.41 260.94 L576.52 259.93 L576.63 258.91 L576.74 257.88 L576.85 256.83 L576.96 255.77 L577.07 254.7 L577.18 253.61 L577.28 252.52 L577.39 251.43 L577.49 250.33 L577.6 249.23 L577.69 248.3 L577.78 247.33 L577.86 246.34 L577.95 245.33 L578.04 244.3 L578.13 243.25 L578.22 242.19 L578.3 241.12 L578.39 240.04 L578.48 238.95 L578.56 237.86 L578.65 236.78 L578.74 235.7 L578.82 234.64 L578.9 233.58 L578.99 232.54 L579.07 231.52 L579.15 230.52 L579.23 229.55 L579.3 228.61 L579.38 227.7 L579.45 226.82 L579.53 225.98 L579.6 225.19 L579.73 223.8 L579.85 222.48 L579.96 221.24 L580.08 220.07 L580.18 218.97 L580.29 217.92 L580.39 216.94 L580.49 216.02 L580.59 215.16 L580.69 214.35 L580.79 213.6 L580.89 212.9 L581 212.25 L581.47 210.14 L581.93 209.06 L582.4 208.74 L582.84 208.88 L583.27 209.77 L583.8 211.93 L583.92 212.56 L584.05 213.25 L584.19 214 L584.32 214.81 L584.47 215.68 L584.61 216.59 L584.76 217.55 L584.91 218.56 L585.07 219.6 L585.22 220.68 L585.38 221.78 L585.53 222.94 L585.69 224.12 L585.85 225.31 L586 226.53 L586.1 227.38 L586.21 228.26 L586.31 229.17 L586.42 230.11 L586.52 231.08 L586.62 232.07 L586.73 233.08 L586.83 234.1 L586.94 235.15 L587.04 236.21 L587.15 237.27 L587.26 238.33 L587.37 239.4 L587.47 240.46 L587.59 241.52 L587.7 242.56 L587.81 243.6 L587.92 244.62 L588.04 245.62 L588.16 246.6 L588.28 247.54 L588.4 248.45 L588.55 249.55 L588.71 250.64 L588.86 251.73 L589.02 252.82 L589.18 253.89 L589.35 254.96 L589.51 256.01 L589.68 257.06 L589.85 258.1 L590.02 259.12 L590.19 260.12 L590.36 261.1 L590.54 262.05 L590.71 262.98 L590.88 263.87 L591.05 264.75 L591.23 265.61 L591.4 266.43 L591.71 267.83 L592.02 269.14 L592.33 270.37 L592.64 271.52 L592.95 272.6 L593.27 273.61 L593.59 274.55 L593.92 275.4 L594.25 276.17 L594.6 276.87 L595.32 278.11 L596.09 279.16 L596.87 279.94 L597.64 280.45 L598.4 280.67 L599.32 280.49 L600.23 279.75 L601.12 278.66 L602 277.36 L602.49 276.5 L602.98 275.49 L603.46 274.39 L603.94 273.2 L604.42 272.01 L604.91 270.89 L605.4 269.86 L606.12 268.55 L606.85 267.49 L607.59 266.63 L608.32 265.94 L609 265.41 L610.01 264.84 L610.95 264.5 L612 264.33 L612.93 264.39 L613.94 264.74 L614.98 265.4 L616 266.41 L616.66 267.17 L617.3 268.03 L617.94 268.87 L618.59 269.69 L619.28 270.48 L620 271.17 L620.66 271.82 L621.36 272.56 L622.07 273.34 L622.8 274.16 L623.54 275.09 L624.28 276.13 L625 276.98 L625.81 277.77 L626.59 278.59 L627.38 279.36 L628.19 279.74 L629.05 280.06 L630 280.36 L630.89 280.67 L631.83 281 L632.81 281.42 L633.83 281.82 L634.87 282.04 L635.93 282.01 L637 281.71 L637.95 281.6 L638.93 281.53 L639.93 281.48 L640.94 281.63 L641.96 281.67 L642.98 281.63 L643.99 281.71 L645 281.77 L645.97 281.73 L646.9 281.56 L647.81 281.37 L648.73 281.26 L649.69 281.29 L650.7 281.34 L651.79 281.38 L653 281.39 L653.91 281.4 L654.94 281.64 L656.06 281.76 L657.24 281.87 L658.44 282.04 L659.65 281.97 L660.83 282.38 L661.95 282.47 L662.99 282.68 L663.91 282.85 L664.69 282.96 L665.3 283.04" fill="none" stroke="#157a15" stroke-width="2.15" stroke-linejoin="round" stroke-linecap="butt"/>
<line x1="619.4" y1="241.9" x2="619.4" y2="301.8" stroke="#404040" stroke-width="1.3"/>
<text x="621.4" y="301.8" font-size="12.5" letter-spacing="0.3">124 ± 2 ms</text>
<text x="544.8" y="327.3" font-size="14.3" text-anchor="middle">0</text>
<text x="605.05" y="327.3" font-size="14.3" text-anchor="middle" textLength="26.2" lengthAdjust="spacingAndGlyphs">100</text>
<text x="665.3" y="327.3" font-size="14.3" text-anchor="middle" textLength="26.2" lengthAdjust="spacingAndGlyphs">200</text>
<line x1="53.5" y1="581" x2="53.5" y2="689.65" stroke="#3d3d3d" stroke-width="1.65"/>
<line x1="53.5" y1="589.3" x2="55.7" y2="589.3" stroke="#3d3d3d" stroke-width="1.65"/>
<line x1="53.5" y1="631.1" x2="55.7" y2="631.1" stroke="#3d3d3d" stroke-width="1.65"/>
<line x1="53.5" y1="672.9" x2="55.7" y2="672.9" stroke="#3d3d3d" stroke-width="1.65"/>
<text x="46.2" y="594.5" font-size="14.3" text-anchor="end" textLength="19" lengthAdjust="spacingAndGlyphs">1.0</text>
<text x="46.2" y="636.3" font-size="14.3" text-anchor="end" textLength="20.3" lengthAdjust="spacingAndGlyphs">0.5</text>
<text x="48.4" y="678.1" font-size="14.3" text-anchor="end">0</text>
<line x1="52.85" y1="689" x2="174.9" y2="689" stroke="#3d3d3d" stroke-width="1.65"/>
<line x1="53.5" y1="689" x2="53.5" y2="686.8" stroke="#3d3d3d" stroke-width="1.65"/>
<line x1="83.7" y1="689" x2="83.7" y2="686.8" stroke="#3d3d3d" stroke-width="1.65"/>
<line x1="113.9" y1="689" x2="113.9" y2="686.8" stroke="#3d3d3d" stroke-width="1.65"/>
<line x1="144.1" y1="689" x2="144.1" y2="686.8" stroke="#3d3d3d" stroke-width="1.65"/>
<line x1="174.3" y1="689" x2="174.3" y2="686.8" stroke="#3d3d3d" stroke-width="1.65"/>
<text x="114.6" y="566.5" font-size="12.6" text-anchor="middle" letter-spacing="0.85">Pre-cool</text>
<line x1="125" y1="584.4" x2="134.2" y2="584.4" stroke="#1f1f1f" stroke-width="2.5"/>
<line x1="125" y1="600.2" x2="134.2" y2="600.2" stroke="#b4b4b4" stroke-width="2.5"/>
<text x="138.6" y="590.7" font-size="13" textLength="48.6" lengthAdjust="spacingAndGlyphs">Contour</text>
<text x="138.6" y="604.9" font-size="13" textLength="34.5" lengthAdjust="spacingAndGlyphs">Noise</text>
<path d="M53.5 671.65 L54.14 671.64 L54.97 671.64 L55.96 671.77 L57.06 671.66 L58.25 671.66 L59.48 671.92 L60.7 672.09 L61.89 672.39 L63 672.51 L64 672.41 L65.14 672.18 L66.25 671.96 L67.31 671.68 L68.34 671.74 L69.33 671.82 L70.27 671.82 L71.16 671.86 L72 671.85 L73.22 671.7 L74.31 671.5 L75.29 671.02 L76.18 670.4 L77 669.64 L77.9 668.88 L78.66 668.17 L79.34 667.3 L80 665.95 L80.27 665.28 L80.52 664.56 L80.78 663.78 L81.02 662.94 L81.26 662.03 L81.5 661.05 L81.73 659.91 L81.96 658.7 L82.18 657.42 L82.4 656.07 L82.53 655.24 L82.65 654.4 L82.78 653.53 L82.9 652.65 L83.02 651.74 L83.14 650.81 L83.25 649.86 L83.37 648.88 L83.48 647.87 L83.6 646.83 L83.71 645.77 L83.82 644.67 L83.94 643.55 L84.05 642.39 L84.17 641.19 L84.28 639.96 L84.4 638.69 L84.48 637.83 L84.55 636.93 L84.63 635.99 L84.71 635.03 L84.79 634.04 L84.87 633.02 L84.95 631.99 L85.03 630.93 L85.11 629.86 L85.19 628.77 L85.27 627.68 L85.35 626.58 L85.42 625.48 L85.5 624.38 L85.58 623.28 L85.66 622.19 L85.74 621.11 L85.81 620.06 L85.89 619.03 L85.97 618.01 L86.04 617.02 L86.11 616.05 L86.19 615.1 L86.26 614.19 L86.33 613.31 L86.4 612.47 L86.5 611.23 L86.61 610.01 L86.71 608.82 L86.81 607.66 L86.91 606.53 L87 605.43 L87.1 604.36 L87.19 603.34 L87.28 602.36 L87.38 601.42 L87.47 600.51 L87.56 599.63 L87.65 598.79 L87.73 597.99 L87.82 597.23 L87.91 596.5 L88 595.82 L88.24 594.07 L88.48 592.6 L88.71 591.38 L88.94 590.47 L89.17 589.86 L89.4 589.58 L89.74 589.77 L90.07 590.64 L90.42 592.14 L90.8 594.28 L90.91 594.97 L91.02 595.73 L91.12 596.55 L91.24 597.43 L91.35 598.36 L91.46 599.33 L91.58 600.35 L91.7 601.4 L91.82 602.48 L91.94 603.58 L92.07 604.7 L92.2 605.83 L92.33 606.96 L92.46 608.1 L92.6 609.23 L92.71 610.14 L92.82 611.07 L92.94 612.02 L93.06 612.99 L93.17 613.98 L93.29 614.98 L93.41 616 L93.54 617.02 L93.66 618.05 L93.79 619.09 L93.92 620.12 L94.05 621.16 L94.18 622.21 L94.31 623.26 L94.44 624.31 L94.58 625.34 L94.72 626.36 L94.86 627.36 L95 628.35 L95.16 629.43 L95.31 630.51 L95.47 631.58 L95.62 632.59 L95.78 633.58 L95.93 634.56 L96.09 635.54 L96.25 636.5 L96.42 637.46 L96.59 638.41 L96.77 639.35 L96.95 640.29 L97.14 641.22 L97.34 642.15 L97.55 643.06 L97.77 643.97 L98 644.87 L98.28 645.89 L98.57 646.98 L98.87 648.09 L99.19 649.2 L99.52 650.31 L99.86 651.39 L100.2 652.45 L100.55 653.49 L100.9 654.5 L101.26 655.51 L101.61 656.53 L101.97 657.51 L102.32 658.44 L102.66 659.27 L103 659.97 L103.62 661.15 L104.24 662.25 L104.85 663.27 L105.46 664.18 L106.08 664.99 L106.71 665.73 L107.35 666.36 L108 666.96 L108.9 667.76 L109.83 668.44 L110.78 668.94 L111.73 669.39 L112.67 669.68 L113.6 669.79 L114.52 669.59 L115.43 669.2 L116.34 668.68 L117.24 668.11 L118.13 667.43 L119 666.63 L119.64 665.95 L120.28 665.16 L120.9 664.25 L121.53 663.23 L122.14 662.21 L122.76 661.37 L123.38 660.58 L124 659.76 L124.71 658.81 L125.43 657.93 L126.14 657.1 L126.86 656.35 L127.57 655.72 L128.29 655.37 L129 655.28 L129.98 655.3 L130.95 655.68 L131.93 656.32 L132.94 657.15 L134 658.15 L134.7 658.87 L135.43 659.48 L136.18 660.16 L136.94 660.88 L137.71 661.64 L138.48 662.52 L139.24 663.39 L140 664.21 L141 664.96 L142 665.47 L143 665.77 L144 666.2 L145 666.59 L146 666.93 L147 667.32 L148 667.58 L149 667.79 L150 668.02 L151 668.04 L152 667.89 L153 667.58 L154 667.31 L155 666.9 L156 666.41 L157 665.94 L158 665.18 L158.86 664.51 L159.71 663.82 L160.57 663.12 L161.43 662.44 L162.29 661.99 L163.14 661.39 L164 660.69 L164.87 659.97 L165.76 659.23 L166.66 658.51 L167.55 657.86 L168.41 657.29 L169.23 656.82 L170 656.43 L171.3 656 L172.53 656 L173.57 655.95 L174.3 655.93" fill="none" stroke="#b4b4b4" stroke-width="2.1" stroke-linejoin="round" stroke-linecap="butt"/>
<path d="M53.5 671.51 L54.14 671.59 L54.97 671.69 L55.96 671.99 L57.06 672.05 L58.25 672.03 L59.48 672.07 L60.7 672.18 L61.89 672.34 L63 672.11 L64 672.11 L65.14 672.13 L66.25 672.07 L67.31 672.26 L68.34 672.09 L69.33 671.97 L70.27 672 L71.16 671.79 L72 671.55 L73.22 671.13 L74.31 670.48 L75.29 670.12 L76.18 669.77 L77 669.34 L77.9 668.76 L78.66 668.12 L79.34 667.1 L80 665.67 L80.3 664.97 L80.58 664.25 L80.86 663.46 L81.13 662.61 L81.39 661.69 L81.65 660.65 L81.91 659.5 L82.15 658.26 L82.4 656.92 L82.54 656.13 L82.67 655.31 L82.8 654.47 L82.93 653.6 L83.05 652.71 L83.18 651.8 L83.3 650.85 L83.42 649.88 L83.55 648.88 L83.67 647.85 L83.79 646.79 L83.91 645.69 L84.03 644.57 L84.15 643.41 L84.28 642.22 L84.4 640.98 L84.48 640.13 L84.57 639.24 L84.65 638.32 L84.74 637.37 L84.82 636.4 L84.91 635.4 L85 634.38 L85.08 633.35 L85.17 632.3 L85.25 631.24 L85.34 630.17 L85.42 629.1 L85.51 628.02 L85.6 626.95 L85.68 625.88 L85.76 624.82 L85.85 623.76 L85.93 622.72 L86.01 621.7 L86.09 620.7 L86.17 619.72 L86.25 618.76 L86.32 617.83 L86.4 616.94 L86.5 615.77 L86.6 614.6 L86.69 613.44 L86.79 612.29 L86.88 611.15 L86.97 610.02 L87.06 608.92 L87.15 607.84 L87.24 606.79 L87.32 605.76 L87.41 604.77 L87.5 603.81 L87.58 602.89 L87.67 602.01 L87.75 601.17 L87.83 600.38 L87.92 599.64 L88 598.95 L88.24 597.15 L88.48 595.71 L88.71 594.54 L88.94 593.66 L89.17 593.07 L89.4 592.72 L89.74 592.68 L90.07 593.33 L90.42 594.67 L90.8 596.62 L90.91 597.31 L91.03 598.08 L91.15 598.91 L91.27 599.8 L91.39 600.76 L91.51 601.78 L91.64 602.83 L91.77 603.92 L91.9 605.04 L92.03 606.19 L92.17 607.35 L92.31 608.52 L92.45 609.7 L92.6 610.87 L92.72 611.79 L92.84 612.76 L92.96 613.76 L93.08 614.78 L93.21 615.82 L93.33 616.88 L93.46 617.95 L93.59 619.02 L93.72 620.11 L93.86 621.19 L94 622.28 L94.13 623.35 L94.27 624.37 L94.41 625.39 L94.56 626.38 L94.7 627.36 L94.85 628.31 L95 629.24 L95.18 630.33 L95.37 631.4 L95.55 632.45 L95.74 633.48 L95.93 634.49 L96.13 635.49 L96.33 636.48 L96.53 637.45 L96.73 638.41 L96.93 639.35 L97.14 640.27 L97.35 641.18 L97.57 642.07 L97.78 642.95 L98 643.81 L98.28 644.87 L98.56 645.96 L98.85 647.04 L99.14 648.1 L99.44 649.13 L99.74 650.15 L100.04 651.21 L100.35 652.25 L100.66 653.26 L100.97 654.23 L101.28 655.15 L101.6 656.02 L102.08 657.28 L102.58 658.47 L103.08 659.58 L103.59 660.63 L104.1 661.59 L104.6 662.43 L105.11 663.21 L105.6 663.93 L106.38 664.96 L107.14 665.86 L107.9 666.63 L108.66 667.1 L109.4 667.35 L110.6 667.56 L111.78 667.47 L113 666.88 L113.64 666.33 L114.3 665.61 L114.97 664.76 L115.65 663.59 L116.33 662.32 L117 661.1 L117.5 660.15 L118.01 659.09 L118.53 657.94 L119.04 656.78 L119.54 655.73 L120.04 654.86 L120.53 654.08 L121 653.42 L121.89 652.37 L122.72 651.57 L123.55 651.06 L124.4 650.89 L125.28 651.05 L126.16 651.52 L127.07 652.15 L128 653 L128.54 653.63 L129.08 654.38 L129.63 655.31 L130.19 656.3 L130.77 657.29 L131.37 658.24 L132 659.15 L132.66 660.07 L133.36 661.02 L134.07 661.86 L134.8 662.73 L135.54 663.79 L136.28 664.7 L137 665.29 L137.98 665.89 L138.95 666.28 L139.93 666.39 L140.94 666.56 L142 666.83 L142.95 667.15 L143.96 667.27 L145 667.32 L146.04 667.29 L147.05 666.99 L148 666.77 L148.89 666.43 L149.74 665.79 L150.56 665.2 L151.37 664.66 L152.18 663.97 L153 663.28 L153.82 662.62 L154.63 661.88 L155.44 661.05 L156.26 660.36 L157.11 659.75 L158 659.1 L158.82 658.51 L159.7 657.83 L160.61 657.08 L161.52 656.3 L162.4 655.44 L163.24 654.88 L164 654.58 L165.09 654.47 L165.98 654.86 L166.89 655.62 L168 656.03 L168.83 656.32 L169.82 656.75 L170.87 657.45 L171.92 658.23 L172.89 659.05 L173.71 659.62 L174.3 659.99" fill="none" stroke="#1f1f1f" stroke-width="2.15" stroke-linejoin="round" stroke-linecap="butt"/>
<line x1="113.4" y1="623.4" x2="113.4" y2="683.1" stroke="#151515" stroke-width="1.3"/>
<text x="117.4" y="683.1" font-size="12.5" letter-spacing="0.3">99 ± 1 ms</text>
<line x1="207.6" y1="689" x2="329.2" y2="689" stroke="#3d3d3d" stroke-width="1.65"/>
<line x1="207.6" y1="689" x2="207.6" y2="686.8" stroke="#3d3d3d" stroke-width="1.65"/>
<line x1="237.85" y1="689" x2="237.85" y2="686.8" stroke="#3d3d3d" stroke-width="1.65"/>
<line x1="268.1" y1="689" x2="268.1" y2="686.8" stroke="#3d3d3d" stroke-width="1.65"/>
<line x1="298.35" y1="689" x2="298.35" y2="686.8" stroke="#3d3d3d" stroke-width="1.65"/>
<line x1="328.6" y1="689" x2="328.6" y2="686.8" stroke="#3d3d3d" stroke-width="1.65"/>
<text x="268.8" y="566.5" font-size="12.6" text-anchor="middle" letter-spacing="0.85">Pre-sham</text>
<line x1="279.1" y1="584.4" x2="288.3" y2="584.4" stroke="#1f1f1f" stroke-width="2.5"/>
<line x1="279.1" y1="600.2" x2="288.3" y2="600.2" stroke="#b4b4b4" stroke-width="2.5"/>
<text x="292.7" y="590.7" font-size="13" textLength="48.6" lengthAdjust="spacingAndGlyphs">Contour</text>
<text x="292.7" y="604.9" font-size="13" textLength="34.5" lengthAdjust="spacingAndGlyphs">Noise</text>
<path d="M207.6 671.58 L208.21 671.63 L209 671.7 L209.93 671.78 L210.98 671.75 L212.11 671.7 L213.3 671.57 L214.52 671.39 L215.73 671.5 L216.92 671.74 L218.04 671.97 L219.08 672.18 L220 672.37 L221.24 672.24 L222.39 672.07 L223.48 671.86 L224.5 671.62 L225.46 671.61 L226.36 671.52 L227.2 671.39 L228 671.35 L229.4 671.07 L230.54 670.62 L231.51 670.07 L232.4 669.49 L233.04 668.93 L233.6 668.28 L234.09 667.51 L234.55 666.59 L235 665.36 L235.2 664.7 L235.4 664 L235.59 663.26 L235.77 662.38 L235.95 661.45 L236.12 660.44 L236.3 659.37 L236.47 658.22 L236.64 656.98 L236.82 655.64 L237 654.2 L237.1 653.42 L237.19 652.6 L237.29 651.75 L237.38 650.88 L237.48 649.97 L237.57 649.04 L237.67 648.08 L237.76 647.1 L237.86 646.1 L237.95 645.08 L238.05 644.04 L238.14 642.99 L238.24 641.93 L238.33 640.85 L238.43 639.76 L238.52 638.64 L238.62 637.52 L238.71 636.39 L238.81 635.26 L238.9 634.13 L239 633.01 L239.08 632.05 L239.16 631.06 L239.24 630.05 L239.32 629.02 L239.41 627.97 L239.49 626.9 L239.57 625.82 L239.65 624.73 L239.74 623.63 L239.82 622.53 L239.9 621.44 L239.98 620.36 L240.07 619.28 L240.15 618.2 L240.23 617.14 L240.31 616.09 L240.39 615.05 L240.47 614.04 L240.55 613.04 L240.63 612.07 L240.7 611.13 L240.78 610.21 L240.85 609.33 L240.93 608.49 L241 607.68 L241.13 606.31 L241.25 605 L241.38 603.76 L241.5 602.57 L241.63 601.45 L241.75 600.38 L241.86 599.36 L241.98 598.39 L242.09 597.48 L242.2 596.62 L242.3 595.81 L242.41 595.05 L242.51 594.34 L242.6 593.68 L242.88 591.88 L243.11 590.72 L243.34 590.13 L243.6 590.01 L243.91 590.25 L244.24 590.85 L244.6 592.08 L245 594.2 L245.1 594.86 L245.2 595.59 L245.31 596.39 L245.42 597.24 L245.53 598.13 L245.64 599.07 L245.75 600.05 L245.87 601.06 L245.98 602.11 L246.1 603.19 L246.23 604.28 L246.35 605.39 L246.48 606.51 L246.6 607.64 L246.73 608.76 L246.87 609.88 L247 610.98 L247.11 611.88 L247.22 612.8 L247.34 613.75 L247.45 614.71 L247.57 615.69 L247.69 616.68 L247.81 617.69 L247.93 618.7 L248.05 619.73 L248.18 620.75 L248.3 621.81 L248.43 622.87 L248.55 623.93 L248.68 624.98 L248.81 626.03 L248.94 627.06 L249.07 628.08 L249.2 629.08 L249.33 630.06 L249.47 631.02 L249.6 631.96 L249.76 633.11 L249.93 634.25 L250.1 635.37 L250.26 636.48 L250.43 637.57 L250.6 638.66 L250.77 639.73 L250.94 640.78 L251.11 641.79 L251.29 642.76 L251.47 643.71 L251.65 644.66 L251.83 645.59 L252.02 646.5 L252.21 647.4 L252.4 648.29 L252.6 649.13 L252.86 650.22 L253.13 651.3 L253.41 652.36 L253.68 653.39 L253.97 654.43 L254.25 655.45 L254.55 656.44 L254.84 657.41 L255.15 658.34 L255.45 659.25 L255.76 660.13 L256.08 660.97 L256.4 661.76 L256.92 663.03 L257.45 664.23 L257.98 665.33 L258.52 666.26 L259.09 667.11 L259.69 667.84 L260.32 668.46 L261 668.99 L261.85 669.47 L262.77 669.88 L263.75 670.27 L264.75 671.02 L265.74 671.41 L266.7 671.62 L267.6 671.76 L268.43 671.46 L269.21 670.87 L269.97 670.22 L270.71 669.39 L271.45 668.27 L272.21 667.13 L273 666.07 L273.64 665.31 L274.29 664.61 L274.96 663.84 L275.63 662.98 L276.3 662.14 L276.98 661.43 L277.66 660.74 L278.33 659.9 L279 659.13 L279.87 658.37 L280.74 657.5 L281.62 656.46 L282.5 655.66 L283.36 655.02 L284.2 654.57 L285 654.4 L286.05 654.63 L287.02 655.11 L287.98 655.86 L288.95 656.8 L290 657.78 L290.7 658.47 L291.41 659.27 L292.13 660.1 L292.88 660.95 L293.63 661.76 L294.41 662.53 L295.2 663.34 L296 664.02 L296.95 664.6 L297.93 665.25 L298.93 665.87 L299.95 666.35 L300.97 666.98 L301.99 667.49 L303 667.82 L304.01 667.89 L305.03 667.74 L306.05 667.51 L307.07 667.26 L308.07 666.92 L309.05 666.5 L310 666.01 L310.8 665.43 L311.57 664.77 L312.32 664.06 L313.06 663.37 L313.79 662.69 L314.52 661.95 L315.26 661.21 L316 660.64 L316.85 660.03 L317.7 659.16 L318.54 658.31 L319.39 657.49 L320.24 656.69 L321.11 656 L322 655.74 L323.14 655.45 L324.4 655.17 L325.68 654.98 L326.87 654.85 L327.88 654.69 L328.6 654.59" fill="none" stroke="#b4b4b4" stroke-width="2.1" stroke-linejoin="round" stroke-linecap="butt"/>
<path d="M207.6 671.58 L208.21 671.62 L209 671.67 L209.93 671.86 L210.98 672.03 L212.11 672.11 L213.3 671.9 L214.52 671.62 L215.73 671.38 L216.92 671.49 L218.04 671.75 L219.08 672.01 L220 672.19 L221.24 672.07 L222.39 672 L223.48 672.01 L224.5 672.02 L225.46 671.97 L226.36 671.93 L227.2 671.88 L228 671.58 L229.4 671.07 L230.54 670.43 L231.51 669.62 L232.4 669 L233.04 668.45 L233.6 667.86 L234.09 667.14 L234.55 666.23 L235 665.06 L235.22 664.38 L235.44 663.67 L235.64 662.91 L235.84 662.04 L236.04 661.11 L236.23 660.11 L236.42 659.01 L236.61 657.81 L236.8 656.49 L237 655.04 L237.1 654.27 L237.2 653.47 L237.3 652.63 L237.4 651.76 L237.5 650.85 L237.6 649.92 L237.7 648.96 L237.8 647.98 L237.9 646.97 L238 645.95 L238.1 644.91 L238.2 643.85 L238.3 642.78 L238.4 641.7 L238.5 640.62 L238.6 639.53 L238.7 638.43 L238.8 637.34 L238.9 636.24 L239 635.15 L239.08 634.22 L239.17 633.27 L239.25 632.29 L239.34 631.3 L239.42 630.28 L239.51 629.24 L239.6 628.2 L239.68 627.14 L239.77 626.07 L239.85 625.01 L239.94 623.94 L240.03 622.87 L240.11 621.81 L240.2 620.75 L240.28 619.71 L240.36 618.68 L240.45 617.67 L240.53 616.68 L240.61 615.72 L240.69 614.77 L240.77 613.86 L240.85 612.98 L240.92 612.14 L241 611.34 L241.13 610.01 L241.25 608.72 L241.38 607.46 L241.5 606.24 L241.63 605.08 L241.75 603.97 L241.86 602.91 L241.98 601.9 L242.09 600.95 L242.2 600.05 L242.3 599.21 L242.41 598.42 L242.51 597.69 L242.6 597.02 L242.96 594.74 L243.26 593.65 L243.6 593.31 L244.01 593.35 L244.47 594.25 L245 596.54 L245.11 597.18 L245.22 597.9 L245.33 598.69 L245.44 599.56 L245.56 600.5 L245.68 601.51 L245.8 602.55 L245.93 603.64 L246.05 604.76 L246.18 605.91 L246.31 607.07 L246.44 608.26 L246.58 609.45 L246.72 610.64 L246.86 611.82 L247 613 L247.12 613.94 L247.23 614.92 L247.35 615.92 L247.48 616.94 L247.6 617.98 L247.72 619.04 L247.85 620.1 L247.98 621.18 L248.11 622.27 L248.24 623.35 L248.37 624.42 L248.5 625.48 L248.64 626.54 L248.77 627.59 L248.91 628.63 L249.04 629.66 L249.18 630.67 L249.32 631.65 L249.46 632.61 L249.6 633.55 L249.78 634.66 L249.95 635.76 L250.13 636.85 L250.3 637.91 L250.48 638.97 L250.66 640 L250.84 641.02 L251.02 642.02 L251.21 642.97 L251.4 643.91 L251.59 644.83 L251.78 645.73 L251.98 646.62 L252.18 647.49 L252.39 648.34 L252.6 649.2 L252.89 650.33 L253.18 651.43 L253.47 652.51 L253.78 653.56 L254.09 654.59 L254.4 655.58 L254.72 656.55 L255.04 657.47 L255.37 658.38 L255.71 659.25 L256.05 660.08 L256.4 660.88 L256.94 661.96 L257.51 662.96 L258.09 663.89 L258.69 664.84 L259.28 665.71 L259.87 666.48 L260.45 667.15 L261 667.76 L262.04 668.72 L263.04 669.02 L264.01 669.05 L265 668.98 L265.8 668.72 L266.6 668.26 L267.4 667.57 L268.2 666.69 L269 665.63 L269.5 664.88 L270 664.04 L270.5 663.12 L271 662.17 L271.5 661.21 L272 660.25 L272.5 659.4 L273 658.63 L273.67 657.6 L274.36 656.5 L275.04 655.46 L275.71 654.53 L276.37 653.7 L277 652.95 L278.17 651.96 L279.27 651.56 L280.4 651.73 L281.25 652.18 L282.1 652.81 L283 653.54 L284 654.62 L284.56 655.31 L285.15 655.94 L285.77 656.62 L286.41 657.47 L287.06 658.39 L287.72 659.27 L288.37 660.08 L289 660.87 L289.71 661.88 L290.4 662.86 L291.09 663.79 L291.79 664.62 L292.5 665.22 L293.23 665.74 L294 666.15 L294.94 666.6 L295.93 667.02 L296.94 667.41 L297.96 667.63 L298.99 667.68 L300 667.6 L301 667.26 L302 666.93 L303 666.53 L304 665.81 L305 665.43 L306 664.96 L306.76 664.42 L307.52 663.74 L308.29 662.97 L309.06 662.08 L309.82 661.16 L310.57 660.3 L311.3 659.48 L312 658.8 L312.78 658 L313.53 657.02 L314.27 656.14 L314.98 655.47 L315.67 654.81 L316.35 654.18 L317 653.73 L318.07 653.49 L319.06 653.23 L320.02 653.29 L321 653.62 L322.01 654.15 L323.02 654.74 L324.03 655.34 L325 655.89 L326.01 656.47 L327.05 657.37 L327.96 658.11 L328.6 658.62" fill="none" stroke="#1f1f1f" stroke-width="2.15" stroke-linejoin="round" stroke-linecap="butt"/>
<line x1="268.4" y1="623.4" x2="268.4" y2="683.1" stroke="#151515" stroke-width="1.3"/>
<text x="276" y="683.1" font-size="12.5" letter-spacing="0.3">101 ± 2 ms</text>
<line x1="53.5" y1="729.5" x2="53.5" y2="838.35" stroke="#3d3d3d" stroke-width="1.65"/>
<line x1="53.5" y1="738.1" x2="55.7" y2="738.1" stroke="#3d3d3d" stroke-width="1.65"/>
<line x1="53.5" y1="779.5" x2="55.7" y2="779.5" stroke="#3d3d3d" stroke-width="1.65"/>
<line x1="53.5" y1="820.6" x2="55.7" y2="820.6" stroke="#3d3d3d" stroke-width="1.65"/>
<text x="46.2" y="743.3" font-size="14.3" text-anchor="end" textLength="19" lengthAdjust="spacingAndGlyphs">1.0</text>
<text x="46.2" y="784.7" font-size="14.3" text-anchor="end" textLength="20.3" lengthAdjust="spacingAndGlyphs">0.5</text>
<text x="48.4" y="825.8" font-size="14.3" text-anchor="end">0</text>
<line x1="52.85" y1="837.7" x2="174.9" y2="837.7" stroke="#3d3d3d" stroke-width="1.65"/>
<line x1="53.5" y1="837.7" x2="53.5" y2="835.5" stroke="#3d3d3d" stroke-width="1.65"/>
<line x1="83.7" y1="837.7" x2="83.7" y2="835.5" stroke="#3d3d3d" stroke-width="1.65"/>
<line x1="113.9" y1="837.7" x2="113.9" y2="835.5" stroke="#3d3d3d" stroke-width="1.65"/>
<line x1="144.1" y1="837.7" x2="144.1" y2="835.5" stroke="#3d3d3d" stroke-width="1.65"/>
<line x1="174.3" y1="837.7" x2="174.3" y2="835.5" stroke="#3d3d3d" stroke-width="1.65"/>
<text x="114.6" y="715" font-size="12.6" text-anchor="middle" letter-spacing="0.85">Cool</text>
<line x1="125" y1="732.9" x2="134.2" y2="732.9" stroke="#0000e6" stroke-width="2.5"/>
<line x1="125" y1="748.7" x2="134.2" y2="748.7" stroke="#35bdee" stroke-width="2.5"/>
<text x="138.6" y="739.2" font-size="13" textLength="48.6" lengthAdjust="spacingAndGlyphs">Contour</text>
<text x="138.6" y="753.4" font-size="13" textLength="34.5" lengthAdjust="spacingAndGlyphs">Noise</text>
<path d="M53.5 820.94 L54.14 820.99 L54.97 821.06 L55.96 821.1 L57.06 821.33 L58.25 821.57 L59.48 821.65 L60.7 821.5 L61.89 821.4 L63 821.25 L64 821.15 L65.14 821.09 L66.25 821.14 L67.31 821.38 L68.34 821.36 L69.33 821.22 L70.27 821 L71.16 820.58 L72 820.29 L73.22 820.17 L74.31 819.99 L75.29 819.89 L76.18 819.7 L77 819.31 L77.74 818.89 L78.37 818.44 L78.94 817.78 L79.47 816.81 L80 815.49 L80.24 814.75 L80.48 813.96 L80.71 813.12 L80.93 812.22 L81.15 811.26 L81.37 810.24 L81.58 809.17 L81.79 808.04 L82 806.85 L82.2 805.58 L82.4 804.24 L82.51 803.43 L82.63 802.6 L82.74 801.74 L82.85 800.85 L82.95 799.94 L83.06 799.01 L83.17 798.05 L83.27 797.08 L83.37 796.08 L83.48 795.07 L83.58 794.03 L83.68 792.98 L83.78 791.91 L83.88 790.82 L83.99 789.72 L84.09 788.61 L84.19 787.48 L84.3 786.33 L84.4 785.17 L84.48 784.27 L84.56 783.34 L84.64 782.38 L84.72 781.39 L84.81 780.39 L84.89 779.36 L84.97 778.32 L85.05 777.26 L85.14 776.19 L85.22 775.12 L85.3 774.04 L85.38 772.96 L85.47 771.88 L85.55 770.8 L85.63 769.73 L85.71 768.67 L85.79 767.62 L85.87 766.58 L85.95 765.56 L86.03 764.56 L86.1 763.59 L86.18 762.64 L86.25 761.72 L86.33 760.84 L86.4 759.99 L86.51 758.71 L86.62 757.46 L86.73 756.24 L86.83 755.06 L86.94 753.9 L87.04 752.78 L87.14 751.71 L87.24 750.68 L87.34 749.69 L87.43 748.74 L87.53 747.83 L87.62 746.97 L87.72 746.14 L87.81 745.36 L87.91 744.63 L88 743.94 L88.29 742.04 L88.57 740.57 L88.85 739.53 L89.12 738.88 L89.4 738.62 L89.74 738.78 L90.07 739.52 L90.42 740.94 L90.8 743.12 L90.9 743.8 L91 744.54 L91.1 745.35 L91.21 746.21 L91.31 747.13 L91.42 748.1 L91.53 749.1 L91.64 750.15 L91.75 751.22 L91.86 752.33 L91.98 753.46 L92.1 754.6 L92.22 755.76 L92.34 756.93 L92.47 758.1 L92.6 759.27 L92.7 760.17 L92.8 761.1 L92.91 762.05 L93.01 763.02 L93.12 764.02 L93.22 765.03 L93.33 766.05 L93.44 767.09 L93.56 768.13 L93.67 769.18 L93.78 770.24 L93.9 771.29 L94.01 772.34 L94.13 773.38 L94.25 774.42 L94.37 775.45 L94.5 776.47 L94.62 777.46 L94.75 778.44 L94.87 779.39 L95 780.31 L95.16 781.44 L95.32 782.54 L95.48 783.64 L95.64 784.7 L95.81 785.74 L95.97 786.77 L96.14 787.79 L96.31 788.79 L96.49 789.77 L96.66 790.74 L96.84 791.69 L97.03 792.62 L97.21 793.53 L97.4 794.42 L97.6 795.29 L97.8 796.14 L98 796.97 L98.3 798.1 L98.6 799.23 L98.91 800.31 L99.22 801.36 L99.55 802.38 L99.88 803.34 L100.21 804.27 L100.56 805.16 L100.91 806.03 L101.26 806.92 L101.63 807.86 L102 808.78 L102.5 809.96 L103.01 811.04 L103.53 812.07 L104.07 813.08 L104.61 814.09 L105.18 815.06 L105.76 815.9 L106.37 816.67 L107 817.33 L107.87 818.02 L108.8 818.83 L109.78 819.57 L110.77 820.04 L111.76 820.39 L112.71 820.55 L113.6 820.47 L114.56 820.4 L115.47 820.03 L116.34 819.36 L117.2 818.72 L118.08 817.97 L119 816.96 L119.72 816.36 L120.46 815.82 L121.21 814.99 L121.96 814.02 L122.72 813.28 L123.49 812.62 L124.25 811.78 L125 811.04 L125.87 810.41 L126.74 809.66 L127.62 808.85 L128.5 808.23 L129.36 807.75 L130.2 807.44 L131 807.19 L132.05 807.09 L133.02 807.43 L133.98 807.83 L134.95 808.34 L136 809.06 L136.8 809.4 L137.61 809.82 L138.45 810.55 L139.31 811.29 L140.18 811.99 L141.08 812.85 L142 813.5 L142.96 813.72 L143.96 814.25 L144.98 814.73 L146.02 815.13 L147.04 815.63 L148.04 815.84 L149 815.98 L150.06 816.24 L151.07 816.55 L152.06 816.68 L153.04 816.65 L154.01 816.44 L155 816.23 L156 815.96 L157 815.59 L158 815.14 L159 814.59 L160 813.92 L161 813.17 L161.85 812.46 L162.68 811.69 L163.5 810.88 L164.34 810.19 L165.19 809.86 L166.07 809.51 L167 809.17 L167.9 808.73 L168.9 808.15 L169.96 807.43 L171.03 806.63 L172.04 806.24 L172.96 806.1 L173.73 805.78 L174.3 805.53" fill="none" stroke="#35bdee" stroke-width="2.1" stroke-linejoin="round" stroke-linecap="butt"/>
<path d="M53.5 821.03 L54.14 821.04 L54.97 821.06 L55.96 820.88 L57.06 820.86 L58.25 820.98 L59.48 821.22 L60.7 821.55 L61.89 821.65 L63 821.73 L64 821.67 L65.14 821.46 L66.25 821.21 L67.31 821.12 L68.34 820.91 L69.33 820.86 L70.27 821.04 L71.16 820.97 L72 820.87 L73.22 820.65 L74.31 820.23 L75.29 819.91 L76.18 819.59 L77 819.28 L77.74 818.85 L78.37 818.35 L78.94 817.62 L79.47 816.56 L80 815.21 L80.27 814.46 L80.52 813.69 L80.78 812.87 L81.02 811.99 L81.26 811.05 L81.5 810.04 L81.73 808.93 L81.96 807.75 L82.18 806.47 L82.4 805.1 L82.52 804.3 L82.64 803.47 L82.76 802.61 L82.87 801.72 L82.98 800.83 L83.1 799.93 L83.21 799 L83.32 798.05 L83.42 797.07 L83.53 796.08 L83.64 795.06 L83.75 794.02 L83.86 792.97 L83.96 791.89 L84.07 790.8 L84.18 789.7 L84.29 788.58 L84.4 787.41 L84.48 786.52 L84.57 785.59 L84.65 784.63 L84.74 783.64 L84.82 782.63 L84.91 781.61 L85 780.57 L85.08 779.51 L85.17 778.44 L85.25 777.37 L85.34 776.29 L85.42 775.21 L85.51 774.13 L85.6 773.06 L85.68 771.99 L85.76 770.94 L85.85 769.91 L85.93 768.9 L86.01 767.91 L86.09 766.94 L86.17 765.99 L86.25 765.07 L86.32 764.19 L86.4 763.34 L86.51 762.11 L86.62 760.89 L86.73 759.7 L86.83 758.53 L86.94 757.38 L87.04 756.27 L87.14 755.19 L87.24 754.13 L87.34 753.11 L87.43 752.13 L87.53 751.19 L87.62 750.3 L87.72 749.46 L87.81 748.66 L87.91 747.93 L88 747.25 L88.36 745.08 L88.71 743.67 L89.05 742.89 L89.4 742.62 L89.74 742.81 L90.07 743.56 L90.42 744.89 L90.8 746.83 L90.91 747.51 L91.03 748.25 L91.15 749.05 L91.27 749.91 L91.39 750.83 L91.51 751.81 L91.64 752.82 L91.77 753.88 L91.9 754.97 L92.03 756.1 L92.17 757.25 L92.31 758.43 L92.45 759.63 L92.6 760.84 L92.71 761.72 L92.81 762.64 L92.92 763.59 L93.03 764.58 L93.14 765.59 L93.26 766.62 L93.37 767.67 L93.49 768.73 L93.61 769.81 L93.72 770.88 L93.85 771.96 L93.97 773.04 L94.09 774.11 L94.22 775.17 L94.34 776.22 L94.47 777.25 L94.6 778.26 L94.73 779.23 L94.87 780.18 L95 781.09 L95.18 782.26 L95.36 783.41 L95.55 784.52 L95.73 785.6 L95.92 786.66 L96.11 787.7 L96.3 788.72 L96.5 789.71 L96.7 790.69 L96.9 791.66 L97.11 792.58 L97.33 793.49 L97.55 794.39 L97.77 795.28 L98 796.17 L98.3 797.26 L98.6 798.35 L98.92 799.42 L99.24 800.46 L99.57 801.49 L99.9 802.48 L100.24 803.42 L100.59 804.33 L100.93 805.21 L101.29 806.07 L101.64 806.91 L102 807.71 L102.54 808.84 L103.09 809.9 L103.65 810.88 L104.21 811.9 L104.79 812.94 L105.38 813.89 L105.98 814.64 L106.6 815.33 L107.47 816.26 L108.38 817.04 L109.31 817.58 L110.24 818.1 L111.15 818.5 L112 818.74 L113.17 818.63 L114.25 818.3 L115.31 817.77 L116.4 816.77 L117.16 816.26 L117.94 815.67 L118.72 814.95 L119.5 814.17 L120.27 813.35 L121 812.49 L121.59 811.67 L122.16 810.76 L122.7 809.77 L123.25 808.79 L123.8 807.82 L124.38 806.89 L125 806.08 L125.95 805.09 L126.98 804.19 L128.02 803.6 L129.05 803.58 L130 803.59 L131.05 803.96 L132 804.64 L132.95 805.2 L134 805.85 L134.65 806.27 L135.33 806.83 L136.02 807.44 L136.73 808.27 L137.47 809.11 L138.22 809.92 L139 810.68 L139.8 811.54 L140.64 812.26 L141.5 812.77 L142.38 813.47 L143.26 814.12 L144.13 814.4 L145 814.79 L146 815.29 L147 815.54 L148 815.91 L149 816.25 L150 816.43 L151 816.29 L152.01 816.02 L153.04 815.7 L154.06 815.39 L155.07 815.12 L156.06 814.82 L157 814.45 L157.89 813.77 L158.74 813.01 L159.56 812.22 L160.37 811.43 L161.18 810.67 L162 810.1 L162.84 809.48 L163.7 808.62 L164.56 807.72 L165.41 806.85 L166.22 805.95 L167 805.28 L168.09 805.15 L169.11 805.1 L170.07 805.29 L171 805.68 L172.27 805.75 L173.47 805.93 L174.3 806.02" fill="none" stroke="#0000e6" stroke-width="2.15" stroke-linejoin="round" stroke-linecap="butt"/>
<line x1="116.6" y1="771.9" x2="116.6" y2="831.8" stroke="#151515" stroke-width="1.3"/>
<text x="121.4" y="831.8" font-size="12.5" letter-spacing="0.3">104 ± 2 ms</text>
<text x="53.5" y="857.3" font-size="14.3" text-anchor="middle">0</text>
<text x="113.9" y="857.3" font-size="14.3" text-anchor="middle" textLength="26.2" lengthAdjust="spacingAndGlyphs">100</text>
<text x="174.3" y="857.3" font-size="14.3" text-anchor="middle" textLength="26.2" lengthAdjust="spacingAndGlyphs">200</text>
<line x1="207.6" y1="837.7" x2="329.2" y2="837.7" stroke="#3d3d3d" stroke-width="1.65"/>
<line x1="207.6" y1="837.7" x2="207.6" y2="835.5" stroke="#3d3d3d" stroke-width="1.65"/>
<line x1="237.85" y1="837.7" x2="237.85" y2="835.5" stroke="#3d3d3d" stroke-width="1.65"/>
<line x1="268.1" y1="837.7" x2="268.1" y2="835.5" stroke="#3d3d3d" stroke-width="1.65"/>
<line x1="298.35" y1="837.7" x2="298.35" y2="835.5" stroke="#3d3d3d" stroke-width="1.65"/>
<line x1="328.6" y1="837.7" x2="328.6" y2="835.5" stroke="#3d3d3d" stroke-width="1.65"/>
<text x="268.8" y="715" font-size="12.6" text-anchor="middle" letter-spacing="0.85">Sham</text>
<line x1="279.1" y1="732.9" x2="288.3" y2="732.9" stroke="#157a15" stroke-width="2.5"/>
<line x1="279.1" y1="748.7" x2="288.3" y2="748.7" stroke="#86ee08" stroke-width="2.5"/>
<text x="292.7" y="739.2" font-size="13" textLength="48.6" lengthAdjust="spacingAndGlyphs">Contour</text>
<text x="292.7" y="753.4" font-size="13" textLength="34.5" lengthAdjust="spacingAndGlyphs">Noise</text>
<path d="M207.6 820.6 L208.23 820.55 L209.04 820.5 L210 820.31 L211.08 820.29 L212.24 820.36 L213.44 820.44 L214.66 820.55 L215.84 820.21 L216.97 819.84 L218 819.65 L219.08 819.63 L220.17 819.79 L221.25 819.82 L222.32 819.78 L223.35 819.69 L224.35 819.55 L225.3 819.49 L226.18 819.38 L227 819.2 L228.29 818.86 L229.4 818.65 L230.36 818.42 L231.22 818.09 L232 817.72 L232.83 817.2 L233.49 816.39 L234.05 815.29 L234.6 813.83 L234.8 813.18 L235 812.48 L235.19 811.73 L235.37 810.92 L235.55 810.06 L235.72 809.08 L235.9 808.01 L236.07 806.87 L236.24 805.65 L236.42 804.34 L236.6 802.96 L236.7 802.15 L236.8 801.32 L236.9 800.45 L237 799.56 L237.1 798.66 L237.2 797.73 L237.3 796.78 L237.4 795.8 L237.5 794.81 L237.6 793.8 L237.7 792.77 L237.8 791.72 L237.9 790.66 L238 789.59 L238.1 788.5 L238.2 787.41 L238.3 786.3 L238.4 785.19 L238.5 784.05 L238.6 782.91 L238.68 781.98 L238.76 781.02 L238.84 780.04 L238.92 779.03 L239.01 778.01 L239.09 776.97 L239.17 775.91 L239.25 774.84 L239.34 773.77 L239.42 772.68 L239.5 771.59 L239.58 770.51 L239.67 769.42 L239.75 768.34 L239.83 767.27 L239.91 766.23 L239.99 765.2 L240.07 764.18 L240.15 763.18 L240.23 762.21 L240.3 761.25 L240.38 760.32 L240.45 759.42 L240.53 758.55 L240.6 757.72 L240.71 756.45 L240.82 755.21 L240.93 754 L241.04 752.81 L241.14 751.66 L241.25 750.54 L241.35 749.45 L241.45 748.41 L241.55 747.41 L241.65 746.45 L241.74 745.54 L241.84 744.68 L241.93 743.88 L242.02 743.12 L242.11 742.43 L242.2 741.8 L242.62 739.5 L243 738.57 L243.4 738.39 L243.84 738.58 L244.3 739.58 L244.8 741.9 L244.91 742.57 L245.02 743.31 L245.12 744.12 L245.24 744.99 L245.35 745.91 L245.46 746.88 L245.58 747.89 L245.7 748.94 L245.82 750.02 L245.94 751.14 L246.07 752.29 L246.2 753.45 L246.33 754.64 L246.46 755.83 L246.6 757.03 L246.7 757.91 L246.8 758.82 L246.91 759.75 L247.01 760.7 L247.12 761.68 L247.22 762.67 L247.33 763.68 L247.44 764.71 L247.56 765.75 L247.67 766.79 L247.78 767.84 L247.9 768.88 L248.01 769.93 L248.13 770.97 L248.25 771.99 L248.37 773.01 L248.5 774 L248.62 774.98 L248.75 775.93 L248.87 776.86 L249 777.76 L249.16 778.85 L249.32 779.92 L249.48 780.98 L249.64 782.03 L249.81 783.08 L249.97 784.12 L250.14 785.15 L250.31 786.17 L250.49 787.17 L250.66 788.15 L250.84 789.12 L251.03 790.09 L251.21 791.06 L251.4 792.02 L251.6 792.97 L251.8 793.91 L252 794.83 L252.27 796.02 L252.55 797.18 L252.83 798.32 L253.12 799.44 L253.42 800.54 L253.72 801.61 L254.03 802.65 L254.34 803.65 L254.66 804.63 L254.99 805.58 L255.32 806.49 L255.66 807.36 L256 808.19 L256.5 809.34 L257.01 810.38 L257.53 811.36 L258.07 812.28 L258.61 813.18 L259.18 814.04 L259.76 814.81 L260.37 815.52 L261 816.19 L261.87 817.03 L262.8 817.79 L263.78 818.47 L264.77 819.13 L265.76 819.54 L266.71 819.78 L267.6 819.89 L268.43 819.76 L269.21 819.35 L269.97 818.81 L270.71 818.08 L271.45 817.06 L272.21 816.05 L273 815.12 L273.71 814.34 L274.43 813.52 L275.16 812.76 L275.9 812.08 L276.65 811.36 L277.42 810.63 L278.2 809.85 L279 809.09 L279.84 808.37 L280.73 807.64 L281.64 806.93 L282.56 806.31 L283.48 805.77 L284.37 805.33 L285.21 804.97 L286 804.74 L287.11 804.8 L288.1 805.07 L289.02 805.59 L289.97 806.43 L291 807.35 L291.7 807.99 L292.41 808.75 L293.13 809.57 L293.88 810.41 L294.63 811.19 L295.41 811.79 L296.2 812.46 L297 813.19 L297.96 813.75 L298.96 814.35 L299.98 815.12 L301.02 815.47 L302.04 815.94 L303.04 816.41 L304 816.64 L305.06 816.71 L306.07 816.51 L307.06 816.06 L308.04 815.56 L309.01 815.06 L310 814.59 L310.86 814.21 L311.71 813.8 L312.57 813.37 L313.43 812.75 L314.29 812.11 L315.14 811.48 L316 810.88 L316.85 810.28 L317.7 809.63 L318.54 808.9 L319.39 808.08 L320.24 807.21 L321.11 806.39 L322 805.66 L323.14 805.03 L324.4 804.58 L325.68 804.25 L326.87 804.32 L327.88 804.13 L328.6 804" fill="none" stroke="#86ee08" stroke-width="2.1" stroke-linejoin="round" stroke-linecap="butt"/>
<path d="M207.6 820.57 L208.23 820.49 L209.04 820.39 L210 820.11 L211.08 820.17 L212.24 820.27 L213.44 820.36 L214.66 820.47 L215.84 820.56 L216.97 820.3 L218 820.16 L219.08 820.05 L220.17 819.69 L221.25 819.84 L222.32 819.69 L223.35 819.49 L224.35 819.48 L225.3 819.54 L226.18 819.54 L227 819.45 L228.29 819.46 L229.4 819.2 L230.36 818.87 L231.22 818.53 L232 817.96 L232.83 817.14 L233.49 816.43 L234.05 815.45 L234.6 814.06 L234.82 813.38 L235.04 812.66 L235.24 811.88 L235.44 811.06 L235.64 810.15 L235.83 809.13 L236.02 808.03 L236.21 806.84 L236.4 805.54 L236.6 804.13 L236.71 803.34 L236.81 802.52 L236.92 801.66 L237.02 800.78 L237.13 799.87 L237.23 798.94 L237.34 797.99 L237.44 797.01 L237.55 796.01 L237.65 794.98 L237.76 793.94 L237.86 792.89 L237.97 791.81 L238.07 790.73 L238.18 789.63 L238.28 788.53 L238.39 787.41 L238.49 786.27 L238.6 785.13 L238.68 784.21 L238.77 783.26 L238.85 782.28 L238.94 781.28 L239.02 780.27 L239.11 779.23 L239.2 778.18 L239.28 777.12 L239.37 776.05 L239.45 774.97 L239.54 773.89 L239.62 772.81 L239.71 771.73 L239.8 770.66 L239.88 769.64 L239.96 768.62 L240.05 767.62 L240.13 766.64 L240.21 765.67 L240.29 764.73 L240.37 763.81 L240.45 762.92 L240.52 762.06 L240.6 761.24 L240.71 760.03 L240.82 758.84 L240.93 757.67 L241.04 756.52 L241.14 755.4 L241.25 754.29 L241.35 753.2 L241.45 752.14 L241.55 751.13 L241.65 750.15 L241.74 749.23 L241.84 748.35 L241.93 747.53 L242.02 746.77 L242.11 746.06 L242.2 745.42 L242.62 743.1 L243 742.2 L243.4 742.06 L243.84 742.32 L244.3 743.28 L244.8 745.39 L244.91 746.04 L245.03 746.75 L245.15 747.54 L245.27 748.39 L245.39 749.29 L245.51 750.24 L245.64 751.23 L245.77 752.27 L245.9 753.34 L246.03 754.44 L246.17 755.58 L246.31 756.73 L246.45 757.9 L246.6 759.08 L246.71 759.92 L246.81 760.81 L246.92 761.75 L247.03 762.71 L247.14 763.7 L247.26 764.71 L247.37 765.74 L247.49 766.78 L247.61 767.83 L247.72 768.89 L247.85 769.95 L247.97 771.01 L248.09 772.06 L248.22 773.1 L248.34 774.13 L248.47 775.13 L248.6 776.12 L248.73 777.08 L248.87 778.02 L249 778.92 L249.17 780.02 L249.34 781.1 L249.51 782.16 L249.68 783.22 L249.86 784.27 L250.04 785.31 L250.22 786.33 L250.4 787.34 L250.59 788.34 L250.78 789.32 L250.97 790.29 L251.17 791.23 L251.37 792.16 L251.57 793.07 L251.78 793.98 L252 794.88 L252.27 795.97 L252.56 797.07 L252.85 798.18 L253.14 799.26 L253.45 800.34 L253.76 801.39 L254.07 802.41 L254.39 803.39 L254.71 804.35 L255.03 805.27 L255.35 806.18 L255.68 807.08 L256 807.93 L256.54 809.24 L257.09 810.46 L257.66 811.6 L258.22 812.65 L258.79 813.63 L259.35 814.53 L259.89 815.22 L260.4 815.83 L261.35 816.81 L262.23 817.48 L263.09 817.99 L264 818.17 L264.77 818.04 L265.57 817.69 L266.38 817.15 L267.19 816.09 L268 814.98 L268.5 814.31 L269 813.52 L269.5 812.65 L270 811.74 L270.5 810.83 L271 809.97 L271.5 809.18 L272 808.49 L272.67 807.38 L273.35 806.33 L274.02 805.37 L274.7 804.48 L275.36 803.7 L276 803.02 L276.91 802.43 L277.78 802.01 L278.65 801.6 L279.6 801.62 L280.42 801.98 L281.27 802.43 L282.16 803.13 L283.07 804.06 L284 804.99 L284.68 805.7 L285.38 806.37 L286.1 807.09 L286.83 807.86 L287.55 808.59 L288.28 809.16 L289 809.76 L289.82 810.7 L290.63 811.49 L291.44 812.13 L292.26 812.96 L293.11 813.74 L294 814.22 L294.94 814.67 L295.93 815.08 L296.94 815.3 L297.96 815.38 L298.99 815.43 L300 815.51 L301 815.17 L302 814.91 L303 814.64 L304 814.2 L305 813.93 L306 813.51 L306.87 812.88 L307.74 812.18 L308.62 811.41 L309.5 810.56 L310.36 809.65 L311.2 808.75 L312 807.86 L312.89 806.93 L313.74 806.13 L314.56 805.34 L315.37 804.63 L316.18 804 L317 803.54 L317.97 803.14 L318.92 802.95 L319.88 802.97 L320.9 803.2 L322 803.69 L322.92 804.24 L323.96 804.95 L325.06 805.52 L326.15 805.96 L327.15 806.27 L327.99 806.62 L328.6 806.91" fill="none" stroke="#157a15" stroke-width="2.15" stroke-linejoin="round" stroke-linecap="butt"/>
<line x1="267.4" y1="771.9" x2="267.4" y2="831.8" stroke="#151515" stroke-width="1.3"/>
<text x="275" y="831.8" font-size="12.5" letter-spacing="0.3">98 ± 4 ms</text>
<text x="207.6" y="857.3" font-size="14.3" text-anchor="middle">0</text>
<text x="268.1" y="857.3" font-size="14.3" text-anchor="middle" textLength="26.2" lengthAdjust="spacingAndGlyphs">100</text>
<text x="328.6" y="857.3" font-size="14.3" text-anchor="middle" textLength="26.2" lengthAdjust="spacingAndGlyphs">200</text>
<line x1="396.3" y1="581" x2="396.3" y2="689.65" stroke="#3d3d3d" stroke-width="1.65"/>
<line x1="396.3" y1="589.3" x2="398.5" y2="589.3" stroke="#3d3d3d" stroke-width="1.65"/>
<line x1="396.3" y1="631.1" x2="398.5" y2="631.1" stroke="#3d3d3d" stroke-width="1.65"/>
<line x1="396.3" y1="672.9" x2="398.5" y2="672.9" stroke="#3d3d3d" stroke-width="1.65"/>
<text x="389" y="594.5" font-size="14.3" text-anchor="end" textLength="19" lengthAdjust="spacingAndGlyphs">1.0</text>
<text x="389" y="636.3" font-size="14.3" text-anchor="end" textLength="20.3" lengthAdjust="spacingAndGlyphs">0.5</text>
<text x="391.2" y="678.1" font-size="14.3" text-anchor="end">0</text>
<line x1="395.65" y1="689" x2="517.4" y2="689" stroke="#3d3d3d" stroke-width="1.65"/>
<line x1="396.3" y1="689" x2="396.3" y2="686.8" stroke="#3d3d3d" stroke-width="1.65"/>
<line x1="426.43" y1="689" x2="426.43" y2="686.8" stroke="#3d3d3d" stroke-width="1.65"/>
<line x1="456.55" y1="689" x2="456.55" y2="686.8" stroke="#3d3d3d" stroke-width="1.65"/>
<line x1="486.67" y1="689" x2="486.67" y2="686.8" stroke="#3d3d3d" stroke-width="1.65"/>
<line x1="516.8" y1="689" x2="516.8" y2="686.8" stroke="#3d3d3d" stroke-width="1.65"/>
<text x="457.25" y="566.5" font-size="12.6" text-anchor="middle" letter-spacing="0.85">Pre-cool</text>
<line x1="467.8" y1="584.4" x2="477" y2="584.4" stroke="#1f1f1f" stroke-width="2.5"/>
<line x1="467.8" y1="600.2" x2="477" y2="600.2" stroke="#b4b4b4" stroke-width="2.5"/>
<text x="481.4" y="590.7" font-size="13" textLength="48.6" lengthAdjust="spacingAndGlyphs">Contour</text>
<text x="481.4" y="604.9" font-size="13" textLength="34.5" lengthAdjust="spacingAndGlyphs">Noise</text>
<path d="M396.3 671.99 L396.95 671.94 L397.8 671.89 L398.81 671.76 L399.94 671.57 L401.15 671.54 L402.4 671.61 L403.65 671.61 L404.86 671.79 L405.99 671.61 L407 671.46 L408.15 671.22 L409.26 671.09 L410.33 671.23 L411.36 671.25 L412.34 671.28 L413.27 671.29 L414.16 671.28 L415 671.2 L416.22 671.05 L417.31 671.02 L418.29 670.59 L419.18 670.17 L420 669.72 L420.74 669.07 L421.37 668.35 L421.94 667.53 L422.47 666.51 L423 665.22 L423.27 664.48 L423.52 663.71 L423.78 662.91 L424.02 662.05 L424.26 661.13 L424.5 660.11 L424.73 658.99 L424.96 657.76 L425.18 656.42 L425.4 654.94 L425.51 654.15 L425.62 653.33 L425.72 652.48 L425.83 651.61 L425.93 650.71 L426.03 649.78 L426.13 648.83 L426.23 647.85 L426.33 646.85 L426.43 645.83 L426.52 644.78 L426.62 643.72 L426.72 642.64 L426.81 641.55 L426.91 640.44 L427.01 639.32 L427.1 638.19 L427.2 637.08 L427.3 635.96 L427.4 634.83 L427.48 633.94 L427.55 633.02 L427.63 632.07 L427.71 631.1 L427.79 630.11 L427.87 629.1 L427.95 628.07 L428.03 627.02 L428.11 625.97 L428.19 624.91 L428.27 623.84 L428.35 622.77 L428.43 621.7 L428.5 620.63 L428.58 619.57 L428.66 618.51 L428.74 617.47 L428.81 616.44 L428.89 615.42 L428.97 614.43 L429.04 613.47 L429.11 612.53 L429.19 611.62 L429.26 610.74 L429.33 609.9 L429.4 609.09 L429.52 607.76 L429.64 606.48 L429.75 605.25 L429.87 604.07 L429.98 602.93 L430.09 601.83 L430.2 600.79 L430.3 599.79 L430.41 598.84 L430.51 597.94 L430.61 597.08 L430.71 596.28 L430.81 595.52 L430.91 594.8 L431 594.13 L431.32 592.1 L431.61 590.77 L431.9 590.02 L432.2 589.71 L432.63 589.87 L433.08 590.88 L433.6 593.07 L433.72 593.73 L433.85 594.46 L433.98 595.25 L434.12 596.11 L434.25 597.01 L434.39 597.97 L434.54 598.98 L434.68 600.02 L434.83 601.11 L434.98 602.22 L435.13 603.37 L435.29 604.53 L435.44 605.72 L435.6 606.92 L435.71 607.79 L435.82 608.69 L435.93 609.62 L436.04 610.57 L436.16 611.55 L436.27 612.55 L436.39 613.56 L436.5 614.59 L436.62 615.63 L436.74 616.68 L436.86 617.73 L436.98 618.78 L437.1 619.82 L437.22 620.85 L437.35 621.88 L437.48 622.89 L437.6 623.9 L437.73 624.88 L437.87 625.85 L438 626.8 L438.15 627.83 L438.3 628.87 L438.46 629.96 L438.61 631.04 L438.77 632.11 L438.93 633.19 L439.1 634.26 L439.26 635.32 L439.42 636.37 L439.59 637.41 L439.76 638.42 L439.93 639.41 L440.11 640.37 L440.28 641.32 L440.46 642.25 L440.64 643.16 L440.82 644.05 L441 644.92 L441.26 646.12 L441.51 647.3 L441.77 648.46 L442.04 649.58 L442.3 650.68 L442.58 651.74 L442.85 652.77 L443.13 653.76 L443.41 654.73 L443.7 655.68 L444 656.56 L444.3 657.34 L444.6 658.1 L445.06 659.15 L445.55 660.21 L446.06 661.3 L446.58 662.33 L447.1 663.29 L447.61 664.2 L448.1 665.02 L448.57 665.91 L449 666.71 L449.84 668.01 L450.56 668.77 L451.25 669.31 L452 669.85 L453.13 670.54 L454.31 670.96 L455.5 671.17 L456.67 671.25 L457.83 671.2 L459 671.07 L460.19 670.48 L461.37 669.79 L462.5 669.11 L463.56 668.3 L464.56 667.73 L465.5 667.02 L466.79 666.18 L468 665.63 L469.13 664.75 L470.4 664.16 L471.22 663.52 L472.14 662.83 L473.09 662.42 L474 661.75 L475.1 660.98 L476.19 660.49 L477.4 660.27 L478.48 660.3 L479.66 660.44 L480.86 660.65 L482 660.99 L483.07 661.58 L484.1 662.28 L485.08 663.04 L486 663.72 L487.01 664.36 L487.91 664.82 L489 665.22 L490.09 665.59 L491.33 666.08 L492.58 666.72 L493.7 666.84 L494.89 666.7 L495.92 666.45 L497 666.07 L497.87 665.79 L498.76 665.39 L499.7 664.81 L500.7 664.27 L501.56 663.79 L502.46 663.16 L503.39 662.71 L504.37 662.21 L505.4 661.43 L506.34 661.02 L507.36 660.49 L508.42 659.84 L509.45 659.28 L510.39 658.62 L511.2 658.06 L512.79 657.61 L514 657.51 L515.57 657.49 L516.8 657.49" fill="none" stroke="#b4b4b4" stroke-width="2.1" stroke-linejoin="round" stroke-linecap="butt"/>
<path d="M396.3 672.13 L396.95 672.09 L397.8 672.04 L398.81 671.98 L399.94 671.71 L401.15 671.47 L402.4 671.41 L403.65 671.64 L404.86 671.91 L405.99 671.76 L407 671.54 L408.15 671.33 L409.26 671.34 L410.33 671.66 L411.36 671.83 L412.34 671.86 L413.27 671.79 L414.16 671.69 L415 671.61 L416.22 671.41 L417.31 670.94 L418.29 670.41 L419.18 669.74 L420 668.93 L420.74 668.47 L421.37 667.99 L421.94 667.19 L422.47 666.14 L423 664.85 L423.27 664.19 L423.52 663.5 L423.78 662.76 L424.02 661.98 L424.26 661.13 L424.5 660.15 L424.73 659.07 L424.96 657.89 L425.18 656.59 L425.4 655.16 L425.51 654.39 L425.62 653.59 L425.72 652.76 L425.83 651.92 L425.93 651.05 L426.03 650.15 L426.13 649.22 L426.23 648.27 L426.33 647.3 L426.43 646.3 L426.52 645.29 L426.62 644.25 L426.72 643.2 L426.81 642.14 L426.91 641.06 L427.01 639.96 L427.1 638.86 L427.2 637.72 L427.3 636.57 L427.4 635.41 L427.48 634.5 L427.55 633.56 L427.63 632.59 L427.71 631.6 L427.79 630.59 L427.87 629.55 L427.95 628.5 L428.03 627.43 L428.11 626.36 L428.19 625.27 L428.27 624.18 L428.35 623.09 L428.43 622 L428.5 620.91 L428.58 619.83 L428.66 618.75 L428.74 617.68 L428.81 616.63 L428.89 615.6 L428.97 614.59 L429.04 613.6 L429.11 612.64 L429.19 611.71 L429.26 610.82 L429.33 609.96 L429.4 609.14 L429.52 607.77 L429.64 606.46 L429.75 605.2 L429.87 603.98 L429.98 602.84 L430.09 601.75 L430.2 600.71 L430.3 599.72 L430.41 598.78 L430.51 597.89 L430.61 597.04 L430.71 596.24 L430.81 595.48 L430.91 594.77 L431 594.11 L431.32 592.09 L431.61 590.73 L431.9 589.95 L432.2 589.6 L432.63 589.71 L433.08 590.76 L433.6 593.01 L433.72 593.68 L433.85 594.43 L433.98 595.24 L434.12 596.1 L434.25 597 L434.39 597.94 L434.54 598.93 L434.68 599.96 L434.83 601.03 L434.98 602.13 L435.13 603.25 L435.29 604.4 L435.44 605.57 L435.6 606.79 L435.71 607.68 L435.82 608.61 L435.93 609.56 L436.04 610.54 L436.16 611.54 L436.27 612.57 L436.39 613.61 L436.5 614.66 L436.62 615.73 L436.74 616.8 L436.86 617.88 L436.98 618.94 L437.1 619.98 L437.22 621.02 L437.35 622.05 L437.48 623.07 L437.6 624.07 L437.73 625.06 L437.87 626.03 L438 626.98 L438.15 628.03 L438.3 629.07 L438.46 630.13 L438.61 631.18 L438.77 632.24 L438.93 633.29 L439.1 634.33 L439.26 635.37 L439.42 636.39 L439.59 637.41 L439.76 638.41 L439.93 639.41 L440.11 640.4 L440.28 641.36 L440.46 642.31 L440.64 643.24 L440.82 644.15 L441 645.03 L441.26 646.21 L441.51 647.36 L441.77 648.47 L442.04 649.56 L442.3 650.61 L442.58 651.64 L442.85 652.64 L443.13 653.62 L443.41 654.57 L443.7 655.49 L444 656.37 L444.3 657.2 L444.6 657.99 L445.06 659.1 L445.55 660.2 L446.06 661.27 L446.58 662.28 L447.1 663.25 L447.61 664.16 L448.1 665 L448.57 665.83 L449 666.57 L449.84 667.79 L450.56 668.54 L451.25 669.07 L452 669.6 L453.13 670.28 L454.31 670.89 L455.5 671.33 L456.65 671.42 L457.8 671.07 L459 670.57 L459.96 670.14 L460.97 669.71 L461.99 669.43 L463 669.07 L464.01 668.65 L465.04 668.17 L466.04 667.66 L467 667.05 L468.17 666.25 L469.27 665.51 L470.4 664.78 L471.57 664.71 L472.76 664.93 L474 665.31 L474.95 665.66 L475.91 666.11 L476.92 666.23 L478 666.38 L478.92 666.61 L479.88 666.8 L480.88 667.25 L481.92 667.79 L483 667.88 L483.95 667.92 L484.96 667.98 L486 668.11 L487.04 668.52 L488.05 668.8 L489 668.93 L490.07 668.86 L491.1 668.71 L492.09 668.51 L493.05 668.23 L494 667.77 L495.15 667.42 L496.26 667.05 L497.34 666.68 L498.4 666.58 L499.45 665.84 L500.47 665.12 L501.49 664.43 L502.5 663.58 L503.52 663.1 L504.54 662.68 L505.54 662.29 L506.5 662.05 L507.7 662.05 L508.85 662.24 L510 662.49 L511.17 662.93 L512.35 663.33 L513.5 663.82 L514.74 664.09 L515.95 664.52 L516.8 664.81" fill="none" stroke="#1f1f1f" stroke-width="2.15" stroke-linejoin="round" stroke-linecap="butt"/>
<line x1="470" y1="623.4" x2="470" y2="683.1" stroke="#151515" stroke-width="1.3"/>
<text x="477" y="683.1" font-size="12.5" letter-spacing="0.3">122 ± 1 ms</text>
<line x1="544.8" y1="689" x2="665.9" y2="689" stroke="#3d3d3d" stroke-width="1.65"/>
<line x1="544.8" y1="689" x2="544.8" y2="686.8" stroke="#3d3d3d" stroke-width="1.65"/>
<line x1="574.92" y1="689" x2="574.92" y2="686.8" stroke="#3d3d3d" stroke-width="1.65"/>
<line x1="605.05" y1="689" x2="605.05" y2="686.8" stroke="#3d3d3d" stroke-width="1.65"/>
<line x1="635.17" y1="689" x2="635.17" y2="686.8" stroke="#3d3d3d" stroke-width="1.65"/>
<line x1="665.3" y1="689" x2="665.3" y2="686.8" stroke="#3d3d3d" stroke-width="1.65"/>
<text x="605.75" y="566.5" font-size="12.6" text-anchor="middle" letter-spacing="0.85">Pre-sham</text>
<line x1="616.3" y1="584.4" x2="625.5" y2="584.4" stroke="#1f1f1f" stroke-width="2.5"/>
<line x1="616.3" y1="600.2" x2="625.5" y2="600.2" stroke="#b4b4b4" stroke-width="2.5"/>
<text x="629.9" y="590.7" font-size="13" textLength="48.6" lengthAdjust="spacingAndGlyphs">Contour</text>
<text x="629.9" y="604.9" font-size="13" textLength="34.5" lengthAdjust="spacingAndGlyphs">Noise</text>
<path d="M544.8 672.14 L545.41 672.15 L546.21 672.16 L547.15 672.52 L548.2 672.6 L549.34 672.6 L550.52 672.53 L551.71 672.3 L552.87 672.4 L553.98 672.61 L555 672.7 L556.07 672.58 L557.16 672.39 L558.24 672.05 L559.3 671.93 L560.34 672.05 L561.34 671.95 L562.29 672.02 L563.18 672.04 L564 671.78 L565.29 671.34 L566.4 670.83 L567.36 670.29 L568.22 669.92 L569 669.42 L569.68 668.82 L570.24 668.17 L570.72 667.41 L571.16 666.45 L571.6 665.17 L571.82 664.43 L572.04 663.68 L572.24 662.91 L572.44 662.08 L572.64 661.19 L572.83 660.22 L573.02 659.18 L573.21 658.02 L573.4 656.71 L573.6 655.23 L573.69 654.5 L573.78 653.72 L573.87 652.91 L573.96 652.05 L574.05 651.17 L574.15 650.25 L574.24 649.29 L574.33 648.31 L574.42 647.29 L574.51 646.26 L574.6 645.21 L574.69 644.15 L574.78 643.08 L574.87 641.99 L574.96 640.9 L575.05 639.81 L575.15 638.72 L575.24 637.63 L575.33 636.54 L575.42 635.46 L575.51 634.4 L575.6 633.34 L575.68 632.38 L575.77 631.4 L575.85 630.4 L575.94 629.39 L576.02 628.36 L576.1 627.33 L576.19 626.28 L576.27 625.24 L576.36 624.18 L576.44 623.13 L576.53 622.08 L576.61 621.03 L576.7 619.99 L576.78 618.95 L576.86 617.92 L576.95 616.91 L577.03 615.9 L577.11 614.88 L577.2 613.89 L577.28 612.92 L577.36 611.97 L577.44 611.05 L577.52 610.15 L577.6 609.28 L577.72 608.01 L577.84 606.75 L577.96 605.52 L578.08 604.3 L578.2 603.11 L578.32 601.95 L578.43 600.84 L578.55 599.77 L578.66 598.75 L578.78 597.78 L578.89 596.85 L579 595.97 L579.1 595.15 L579.21 594.39 L579.3 593.69 L579.4 593.06 L579.84 590.83 L580.21 590.09 L580.6 590.13 L580.92 590.41 L581.25 591.08 L581.6 592.33 L582 594.34 L582.12 595.04 L582.24 595.81 L582.36 596.66 L582.49 597.56 L582.62 598.53 L582.76 599.53 L582.89 600.58 L583.03 601.66 L583.17 602.77 L583.31 603.9 L583.45 605.05 L583.59 606.2 L583.73 607.35 L583.87 608.49 L584 609.61 L584.11 610.54 L584.22 611.49 L584.32 612.47 L584.43 613.46 L584.53 614.46 L584.63 615.47 L584.73 616.5 L584.83 617.53 L584.94 618.56 L585.04 619.6 L585.15 620.64 L585.26 621.67 L585.37 622.7 L585.49 623.69 L585.61 624.66 L585.73 625.61 L585.86 626.55 L586 627.46 L586.16 628.48 L586.32 629.49 L586.49 630.49 L586.66 631.48 L586.83 632.47 L587.01 633.44 L587.19 634.4 L587.38 635.35 L587.56 636.29 L587.76 637.22 L587.96 638.14 L588.16 639.04 L588.36 639.96 L588.57 640.86 L588.78 641.76 L589 642.63 L589.27 643.69 L589.55 644.72 L589.83 645.79 L590.12 646.86 L590.42 647.9 L590.72 648.93 L591.03 649.94 L591.34 650.93 L591.66 651.9 L591.99 652.86 L592.32 653.81 L592.66 654.7 L593 655.57 L593.38 656.51 L593.78 657.45 L594.18 658.5 L594.59 659.55 L595.01 660.6 L595.44 661.64 L595.87 662.69 L596.3 663.7 L596.73 664.65 L597.16 665.52 L597.58 666.34 L598 667.1 L598.71 668.26 L599.43 669.32 L600.14 670.28 L600.86 671.13 L601.57 671.9 L602.29 672.52 L603 672.88 L604 673.1 L605 672.97 L606 672.66 L607 672.31 L608 671.96 L608.83 671.58 L609.67 671.07 L610.5 670.46 L611.33 669.89 L612.17 669.26 L613 668.45 L613.85 667.78 L614.72 667.22 L615.59 666.29 L616.44 665.42 L617.25 664.75 L618 664.09 L618.98 663.09 L619.84 662.19 L620.66 661.39 L621.5 660.77 L622.62 660.27 L623.74 660.05 L625 660.2 L626.06 660.61 L627.21 660.78 L628.42 661.39 L629.7 661.87 L630.62 662.24 L631.59 662.75 L632.6 662.94 L633.61 663.36 L634.58 663.91 L635.5 664.42 L636.51 665.11 L637.46 665.75 L638.37 666.16 L639.28 666.33 L640.2 666.33 L641.35 666.2 L642.48 666.11 L643.65 665.87 L644.9 665.47 L645.81 665.02 L646.77 664.31 L647.76 663.88 L648.76 663.46 L649.75 662.94 L650.7 662.45 L651.49 661.9 L652.29 661.15 L653.07 660.42 L653.85 659.71 L654.6 659.01 L655.32 658.39 L656 657.73 L657.06 656.83 L658 656.23 L658.94 655.86 L660 655.77 L661.06 656.06 L662.28 656.13 L663.5 656.18 L664.56 656.37 L665.3 656.48" fill="none" stroke="#b4b4b4" stroke-width="2.1" stroke-linejoin="round" stroke-linecap="butt"/>
<path d="M544.8 672.03 L545.41 672.06 L546.21 672.11 L547.15 672.32 L548.2 672.32 L549.34 672.25 L550.52 672.26 L551.71 672.18 L552.87 672.54 L553.98 672.62 L555 672.56 L556.07 672.46 L557.16 672.27 L558.24 672.25 L559.3 672.3 L560.34 672.34 L561.34 672.16 L562.29 672.04 L563.18 671.91 L564 671.7 L565.29 671.43 L566.4 671.11 L567.36 670.7 L568.22 670.24 L569 669.66 L569.68 669.01 L570.24 668.3 L570.72 667.46 L571.16 666.42 L571.6 665.11 L571.82 664.37 L572.04 663.63 L572.24 662.85 L572.44 662.03 L572.64 661.14 L572.83 660.17 L573.02 659.07 L573.21 657.84 L573.4 656.46 L573.6 654.92 L573.69 654.15 L573.78 653.35 L573.87 652.5 L573.96 651.62 L574.05 650.7 L574.15 649.75 L574.24 648.78 L574.33 647.79 L574.42 646.79 L574.51 645.76 L574.6 644.72 L574.69 643.66 L574.78 642.59 L574.87 641.51 L574.96 640.43 L575.05 639.34 L575.15 638.25 L575.24 637.17 L575.33 636.09 L575.42 635.01 L575.51 633.95 L575.6 632.9 L575.68 631.93 L575.77 630.93 L575.85 629.92 L575.94 628.89 L576.02 627.85 L576.1 626.8 L576.19 625.74 L576.27 624.68 L576.36 623.61 L576.44 622.55 L576.53 621.48 L576.61 620.42 L576.7 619.36 L576.78 618.31 L576.86 617.27 L576.95 616.24 L577.03 615.23 L577.11 614.25 L577.2 613.3 L577.28 612.36 L577.36 611.45 L577.44 610.56 L577.52 609.69 L577.6 608.86 L577.72 607.64 L577.84 606.43 L577.96 605.24 L578.08 604.08 L578.2 602.94 L578.32 601.83 L578.43 600.76 L578.55 599.7 L578.66 598.69 L578.78 597.72 L578.89 596.8 L579 595.94 L579.1 595.13 L579.21 594.37 L579.3 593.68 L579.4 593.06 L579.84 590.86 L580.21 590.15 L580.6 590.22 L580.92 590.52 L581.25 591.2 L581.6 592.41 L582 594.38 L582.12 595.06 L582.24 595.82 L582.36 596.65 L582.49 597.55 L582.62 598.49 L582.76 599.47 L582.89 600.5 L583.03 601.55 L583.17 602.64 L583.31 603.75 L583.45 604.86 L583.59 605.99 L583.73 607.11 L583.87 608.23 L584 609.33 L584.11 610.27 L584.22 611.23 L584.32 612.21 L584.43 613.21 L584.53 614.22 L584.63 615.24 L584.73 616.28 L584.83 617.32 L584.94 618.36 L585.04 619.4 L585.15 620.45 L585.26 621.49 L585.37 622.52 L585.49 623.54 L585.61 624.54 L585.73 625.53 L585.86 626.51 L586 627.46 L586.16 628.52 L586.32 629.57 L586.49 630.62 L586.66 631.66 L586.83 632.7 L587.01 633.71 L587.19 634.72 L587.38 635.73 L587.56 636.72 L587.76 637.7 L587.96 638.67 L588.16 639.62 L588.36 640.57 L588.57 641.51 L588.78 642.44 L589 643.34 L589.27 644.44 L589.55 645.52 L589.83 646.53 L590.12 647.52 L590.42 648.48 L590.72 649.43 L591.03 650.37 L591.34 651.36 L591.66 652.33 L591.99 653.3 L592.32 654.25 L592.66 655.15 L593 656.03 L593.38 656.98 L593.78 657.93 L594.18 659.01 L594.59 660.09 L595.01 661.17 L595.44 662.18 L595.87 663.14 L596.3 664.07 L596.73 664.95 L597.16 665.76 L597.58 666.52 L598 667.22 L598.71 668.18 L599.43 669.05 L600.14 669.93 L600.86 670.68 L601.57 671.29 L602.29 671.78 L603 672.24 L604 672.64 L605 672.8 L606 672.8 L607 672.59 L608 672.25 L608.83 671.77 L609.67 671.19 L610.5 670.56 L611.33 669.99 L612.17 669.46 L613 668.93 L614 668.33 L615 667.71 L616 667.1 L617 666.64 L618 666.29 L618.98 666.03 L619.95 665.88 L620.93 665.79 L621.94 665.77 L623 665.83 L623.94 665.96 L624.93 666.2 L625.94 666.56 L626.96 666.96 L627.99 667.31 L629 667.57 L630 667.76 L631 668 L632 668.28 L633 668.61 L634 668.83 L635 668.84 L636 668.74 L637 668.73 L638 668.73 L639 668.76 L640 668.8 L641 668.56 L642 668.16 L643 667.7 L644 667.39 L645 667.13 L646 666.72 L647 666.09 L647.87 665.6 L648.77 664.9 L649.68 663.94 L650.57 663.32 L651.43 662.73 L652.25 662.06 L653 661.65 L654.14 661.28 L655.12 660.79 L656.05 660.5 L657 660.35 L657.99 660.28 L658.98 660.45 L659.98 660.77 L661 661.15 L662.15 661.6 L663.4 662.63 L664.52 663.23 L665.3 663.63" fill="none" stroke="#1f1f1f" stroke-width="2.15" stroke-linejoin="round" stroke-linecap="butt"/>
<line x1="617.6" y1="623.4" x2="617.6" y2="683.1" stroke="#151515" stroke-width="1.3"/>
<text x="622" y="683.1" font-size="12.5" letter-spacing="0.3">122 ± 1 ms</text>
<line x1="396.3" y1="729.5" x2="396.3" y2="838.35" stroke="#3d3d3d" stroke-width="1.65"/>
<line x1="396.3" y1="738.1" x2="398.5" y2="738.1" stroke="#3d3d3d" stroke-width="1.65"/>
<line x1="396.3" y1="779.5" x2="398.5" y2="779.5" stroke="#3d3d3d" stroke-width="1.65"/>
<line x1="396.3" y1="820.6" x2="398.5" y2="820.6" stroke="#3d3d3d" stroke-width="1.65"/>
<text x="389" y="743.3" font-size="14.3" text-anchor="end" textLength="19" lengthAdjust="spacingAndGlyphs">1.0</text>
<text x="389" y="784.7" font-size="14.3" text-anchor="end" textLength="20.3" lengthAdjust="spacingAndGlyphs">0.5</text>
<text x="391.2" y="825.8" font-size="14.3" text-anchor="end">0</text>
<line x1="395.65" y1="837.7" x2="517.4" y2="837.7" stroke="#3d3d3d" stroke-width="1.65"/>
<line x1="396.3" y1="837.7" x2="396.3" y2="835.5" stroke="#3d3d3d" stroke-width="1.65"/>
<line x1="426.43" y1="837.7" x2="426.43" y2="835.5" stroke="#3d3d3d" stroke-width="1.65"/>
<line x1="456.55" y1="837.7" x2="456.55" y2="835.5" stroke="#3d3d3d" stroke-width="1.65"/>
<line x1="486.67" y1="837.7" x2="486.67" y2="835.5" stroke="#3d3d3d" stroke-width="1.65"/>
<line x1="516.8" y1="837.7" x2="516.8" y2="835.5" stroke="#3d3d3d" stroke-width="1.65"/>
<text x="457.25" y="715" font-size="12.6" text-anchor="middle" letter-spacing="0.85">Cool</text>
<line x1="467.8" y1="732.9" x2="477" y2="732.9" stroke="#0000e6" stroke-width="2.5"/>
<line x1="467.8" y1="748.7" x2="477" y2="748.7" stroke="#35bdee" stroke-width="2.5"/>
<text x="481.4" y="739.2" font-size="13" textLength="48.6" lengthAdjust="spacingAndGlyphs">Contour</text>
<text x="481.4" y="753.4" font-size="13" textLength="34.5" lengthAdjust="spacingAndGlyphs">Noise</text>
<path d="M396.3 821.04 L396.95 821 L397.8 820.95 L398.81 820.83 L399.94 821.03 L401.15 821.31 L402.4 821.39 L403.65 821.16 L404.86 820.86 L405.99 820.6 L407 820.68 L408.15 820.72 L409.26 820.79 L410.33 821.06 L411.36 820.97 L412.34 820.88 L413.27 820.78 L414.16 820.59 L415 820.44 L416.22 820.29 L417.31 820.27 L418.29 819.73 L419.18 819.21 L420 818.62 L420.74 818 L421.37 817.33 L421.94 816.6 L422.47 815.66 L423 814.38 L423.24 813.64 L423.48 812.86 L423.71 812.04 L423.93 811.17 L424.15 810.24 L424.37 809.24 L424.58 808.16 L424.79 807 L425 805.76 L425.2 804.45 L425.4 803.04 L425.51 802.22 L425.62 801.37 L425.72 800.49 L425.83 799.6 L425.93 798.67 L426.03 797.73 L426.13 796.76 L426.23 795.76 L426.33 794.75 L426.43 793.72 L426.52 792.67 L426.62 791.61 L426.72 790.54 L426.81 789.45 L426.91 788.36 L427.01 787.26 L427.1 786.15 L427.2 785.06 L427.3 783.97 L427.4 782.88 L427.48 781.96 L427.57 781.02 L427.65 780.06 L427.74 779.07 L427.82 778.07 L427.9 777.06 L427.99 776.03 L428.07 775 L428.16 773.96 L428.24 772.91 L428.33 771.86 L428.41 770.81 L428.5 769.77 L428.58 768.73 L428.66 767.69 L428.75 766.67 L428.83 765.66 L428.91 764.66 L429 763.68 L429.08 762.72 L429.16 761.78 L429.24 760.87 L429.32 759.98 L429.4 759.12 L429.51 757.93 L429.62 756.74 L429.74 755.57 L429.85 754.4 L429.96 753.25 L430.07 752.11 L430.19 751 L430.3 749.91 L430.4 748.86 L430.51 747.85 L430.62 746.88 L430.72 745.96 L430.82 745.08 L430.92 744.26 L431.02 743.5 L431.11 742.8 L431.2 742.16 L431.64 739.71 L432.01 738.78 L432.4 738.59 L432.83 738.73 L433.28 739.63 L433.8 741.82 L433.92 742.46 L434.03 743.17 L434.16 743.97 L434.28 744.84 L434.41 745.78 L434.54 746.76 L434.67 747.79 L434.81 748.86 L434.94 749.97 L435.08 751.1 L435.22 752.26 L435.36 753.43 L435.51 754.61 L435.65 755.77 L435.8 756.93 L435.91 757.82 L436.02 758.73 L436.13 759.67 L436.25 760.63 L436.36 761.61 L436.48 762.61 L436.59 763.63 L436.71 764.65 L436.83 765.69 L436.95 766.74 L437.07 767.82 L437.19 768.9 L437.31 769.98 L437.44 771.05 L437.56 772.11 L437.69 773.16 L437.81 774.19 L437.94 775.2 L438.07 776.2 L438.2 777.17 L438.35 778.26 L438.5 779.3 L438.65 780.33 L438.81 781.36 L438.96 782.37 L439.11 783.37 L439.26 784.36 L439.42 785.34 L439.58 786.31 L439.74 787.28 L439.91 788.3 L440.08 789.3 L440.25 790.28 L440.43 791.25 L440.61 792.21 L440.8 793.16 L441 794.08 L441.27 795.22 L441.54 796.3 L441.83 797.35 L442.12 798.38 L442.42 799.38 L442.73 800.4 L443.04 801.42 L443.36 802.41 L443.69 803.38 L444.01 804.31 L444.34 805.18 L444.67 806.03 L445 806.86 L445.44 807.93 L445.9 809.05 L446.37 810.12 L446.85 811.14 L447.34 812.04 L447.82 812.9 L448.29 813.71 L448.75 814.44 L449.19 815.12 L449.6 815.75 L450.51 817.07 L451.31 818.03 L452.1 818.8 L453 819.59 L454.05 820.24 L455.18 820.44 L456.35 820.91 L457.5 820.93 L458.62 821 L459.75 820.89 L460.88 820.42 L462 820.19 L462.93 819.6 L463.9 819 L464.84 818.54 L465.73 818.01 L466.5 817.54 L467.5 816.86 L468.28 815.98 L469 815.05 L469.97 813.75 L471 812.57 L471.67 811.96 L472.41 811.35 L473.2 810.8 L474 810.37 L475.06 809.79 L476.16 809.06 L477.4 808.55 L478.48 808.24 L479.66 808.19 L480.86 808.45 L482 808.91 L483.07 809.44 L484.1 810.26 L485.08 811 L486 811.62 L486.96 812.3 L487.81 812.9 L489 813.46 L489.83 813.85 L490.79 814.13 L491.83 814.31 L492.91 814.41 L493.98 814.47 L495 814.65 L496.16 814.86 L497.29 814.98 L498.42 814.91 L499.55 814.77 L500.7 814.5 L501.67 814.13 L502.66 813.6 L503.64 812.85 L504.63 811.95 L505.62 810.96 L506.6 810.08 L507.45 809.38 L508.31 808.66 L509.17 808.24 L510.02 807.79 L510.85 807.31 L511.65 806.93 L512.4 806.65 L513.7 806.26 L514.96 805.91 L516.04 805.84 L516.8 805.78" fill="none" stroke="#35bdee" stroke-width="2.1" stroke-linejoin="round" stroke-linecap="butt"/>
<path d="M396.3 821.12 L396.95 821.13 L397.8 821.15 L398.81 821.34 L399.94 821.08 L401.15 820.98 L402.4 821.08 L403.65 821.24 L404.86 821.5 L405.99 821.31 L407 821.1 L408.15 820.99 L409.26 821 L410.33 820.97 L411.36 820.93 L412.34 820.81 L413.27 820.67 L414.16 820.56 L415 820.53 L416.22 820.44 L417.31 820.08 L418.29 819.87 L419.18 819.37 L420 818.6 L420.74 817.96 L421.37 817.29 L421.94 816.38 L422.47 815.23 L423 813.8 L423.24 813.13 L423.48 812.42 L423.71 811.67 L423.93 810.87 L424.15 810.01 L424.37 809.07 L424.58 808.01 L424.79 806.88 L425 805.67 L425.2 804.38 L425.4 802.99 L425.51 802.19 L425.62 801.35 L425.72 800.49 L425.83 799.6 L425.93 798.68 L426.03 797.74 L426.13 796.78 L426.23 795.79 L426.33 794.78 L426.43 793.76 L426.52 792.72 L426.62 791.66 L426.72 790.59 L426.81 789.51 L426.91 788.42 L427.01 787.33 L427.1 786.23 L427.2 785.13 L427.3 784.03 L427.4 782.93 L427.48 782 L427.57 781.05 L427.65 780.08 L427.74 779.09 L427.82 778.08 L427.9 777.06 L427.99 776.02 L428.07 774.98 L428.16 773.93 L428.24 772.88 L428.33 771.82 L428.41 770.76 L428.5 769.71 L428.58 768.66 L428.66 767.62 L428.75 766.58 L428.83 765.56 L428.91 764.56 L429 763.57 L429.08 762.6 L429.16 761.65 L429.24 760.73 L429.32 759.83 L429.4 758.96 L429.51 757.76 L429.62 756.56 L429.74 755.37 L429.85 754.2 L429.96 753.04 L430.07 751.9 L430.19 750.78 L430.3 749.7 L430.4 748.65 L430.51 747.64 L430.62 746.67 L430.72 745.74 L430.82 744.86 L430.92 744.04 L431.02 743.28 L431.11 742.58 L431.2 741.94 L431.64 739.53 L432.01 738.63 L432.4 738.49 L432.83 738.67 L433.28 739.59 L433.8 741.8 L433.92 742.45 L434.03 743.17 L434.16 743.96 L434.28 744.84 L434.41 745.77 L434.54 746.76 L434.67 747.79 L434.81 748.86 L434.94 749.96 L435.08 751.1 L435.22 752.25 L435.36 753.42 L435.51 754.6 L435.65 755.78 L435.8 756.95 L435.91 757.84 L436.02 758.77 L436.13 759.71 L436.25 760.69 L436.36 761.68 L436.48 762.69 L436.59 763.72 L436.71 764.75 L436.83 765.8 L436.95 766.85 L437.07 767.91 L437.19 768.97 L437.31 770.03 L437.44 771.08 L437.56 772.13 L437.69 773.15 L437.81 774.17 L437.94 775.16 L438.07 776.14 L438.2 777.09 L438.35 778.17 L438.5 779.23 L438.65 780.28 L438.81 781.32 L438.96 782.34 L439.11 783.36 L439.26 784.37 L439.42 785.37 L439.58 786.35 L439.74 787.33 L439.91 788.33 L440.08 789.31 L440.25 790.28 L440.43 791.24 L440.61 792.18 L440.8 793.1 L441 794.01 L441.27 795.18 L441.54 796.33 L441.83 797.46 L442.12 798.56 L442.42 799.64 L442.73 800.69 L443.04 801.7 L443.36 802.69 L443.69 803.66 L444.01 804.56 L444.34 805.37 L444.67 806.15 L445 806.91 L445.44 807.88 L445.9 808.86 L446.37 809.81 L446.85 810.76 L447.34 811.77 L447.82 812.74 L448.29 813.65 L448.75 814.49 L449.19 815.27 L449.6 815.98 L450.51 817.37 L451.31 818.31 L452.1 818.98 L453 819.7 L454.05 820.34 L455.18 820.61 L456.35 820.72 L457.5 820.9 L458.61 821.11 L459.72 821.22 L460.84 821.07 L462 820.4 L462.98 819.92 L464.01 819.34 L465.05 818.71 L466.06 818.09 L467 817.44 L468.08 816.72 L469.09 816.11 L470.06 815.61 L471 815.18 L472.2 814.64 L473.35 813.98 L474.5 813.26 L475.67 812.53 L476.83 812.03 L478 811.94 L479.1 812.25 L480.21 812.88 L481.5 813.43 L482.45 813.71 L483.5 814.04 L484.6 814.45 L485.69 815.02 L486.7 815.45 L487.85 815.64 L488.92 815.54 L489.97 815.29 L491 815.25 L492.01 815.21 L492.98 815.1 L493.96 815 L495 814.77 L496.08 814.55 L497.19 814.43 L498.35 814.35 L499.6 814.13 L500.38 813.82 L501.2 813.35 L502.06 812.57 L502.94 811.72 L503.8 810.92 L504.62 810.22 L505.4 809.64 L506.42 809.08 L507.4 808.61 L508.33 808.24 L509.2 807.91 L510 807.73 L511.09 807.77 L512 807.63 L513 807.73 L513.98 808 L515.09 808.51 L516.1 809.01 L516.8 809.36" fill="none" stroke="#0000e6" stroke-width="2.15" stroke-linejoin="round" stroke-linecap="butt"/>
<line x1="470.6" y1="771.9" x2="470.6" y2="831.8" stroke="#151515" stroke-width="1.3"/>
<text x="477" y="831.8" font-size="12.5" letter-spacing="0.3">123 ± 1 ms</text>
<text x="396.3" y="857.3" font-size="14.3" text-anchor="middle">0</text>
<text x="456.55" y="857.3" font-size="14.3" text-anchor="middle" textLength="26.2" lengthAdjust="spacingAndGlyphs">100</text>
<text x="516.8" y="857.3" font-size="14.3" text-anchor="middle" textLength="26.2" lengthAdjust="spacingAndGlyphs">200</text>
<line x1="544.8" y1="837.7" x2="665.9" y2="837.7" stroke="#3d3d3d" stroke-width="1.65"/>
<line x1="544.8" y1="837.7" x2="544.8" y2="835.5" stroke="#3d3d3d" stroke-width="1.65"/>
<line x1="574.92" y1="837.7" x2="574.92" y2="835.5" stroke="#3d3d3d" stroke-width="1.65"/>
<line x1="605.05" y1="837.7" x2="605.05" y2="835.5" stroke="#3d3d3d" stroke-width="1.65"/>
<line x1="635.17" y1="837.7" x2="635.17" y2="835.5" stroke="#3d3d3d" stroke-width="1.65"/>
<line x1="665.3" y1="837.7" x2="665.3" y2="835.5" stroke="#3d3d3d" stroke-width="1.65"/>
<text x="605.75" y="715" font-size="12.6" text-anchor="middle" letter-spacing="0.85">Sham</text>
<line x1="616.3" y1="732.9" x2="625.5" y2="732.9" stroke="#157a15" stroke-width="2.5"/>
<line x1="616.3" y1="748.7" x2="625.5" y2="748.7" stroke="#86ee08" stroke-width="2.5"/>
<text x="629.9" y="739.2" font-size="13" textLength="48.6" lengthAdjust="spacingAndGlyphs">Contour</text>
<text x="629.9" y="753.4" font-size="13" textLength="34.5" lengthAdjust="spacingAndGlyphs">Noise</text>
<path d="M544.8 820.52 L545.41 820.52 L546.21 820.52 L547.15 820.32 L548.2 820.23 L549.34 820.13 L550.52 819.95 L551.71 819.91 L552.87 820.19 L553.98 820.23 L555 820.12 L556.07 819.92 L557.16 819.56 L558.24 819.68 L559.3 819.79 L560.34 819.76 L561.34 819.83 L562.29 819.77 L563.18 819.67 L564 819.63 L565.3 819.52 L566.41 819.38 L567.38 819.19 L568.23 818.9 L569 818.33 L569.79 817.44 L570.39 816.54 L570.89 815.42 L571.4 813.86 L571.62 813.17 L571.83 812.45 L572.03 811.69 L572.23 810.88 L572.42 809.99 L572.62 809.02 L572.81 807.95 L573.01 806.8 L573.2 805.52 L573.4 804.1 L573.5 803.37 L573.59 802.6 L573.69 801.79 L573.78 800.95 L573.88 800.09 L573.97 799.19 L574.07 798.26 L574.16 797.31 L574.26 796.33 L574.35 795.32 L574.45 794.29 L574.54 793.24 L574.64 792.17 L574.73 791.1 L574.83 790.01 L574.92 788.91 L575.02 787.8 L575.11 786.69 L575.21 785.58 L575.3 784.46 L575.4 783.35 L575.48 782.43 L575.55 781.49 L575.63 780.52 L575.71 779.53 L575.79 778.52 L575.87 777.5 L575.94 776.45 L576.02 775.4 L576.1 774.34 L576.18 773.27 L576.26 772.2 L576.33 771.13 L576.41 770.05 L576.49 768.98 L576.57 767.92 L576.65 766.87 L576.72 765.83 L576.8 764.8 L576.88 763.78 L576.95 762.79 L577.03 761.82 L577.1 760.88 L577.18 759.96 L577.25 759.07 L577.33 758.22 L577.4 757.39 L577.52 756.1 L577.64 754.84 L577.76 753.61 L577.88 752.42 L578 751.26 L578.12 750.14 L578.23 749.07 L578.35 748.03 L578.46 747.02 L578.58 746.05 L578.69 745.12 L578.8 744.24 L578.9 743.42 L579.01 742.65 L579.1 741.94 L579.2 741.28 L579.64 738.88 L580.01 737.92 L580.4 737.75 L580.83 737.91 L581.28 738.82 L581.8 741.09 L581.91 741.72 L582.02 742.44 L582.13 743.22 L582.25 744.07 L582.37 744.97 L582.49 745.93 L582.61 746.93 L582.74 747.99 L582.87 749.08 L582.99 750.21 L583.13 751.35 L583.26 752.5 L583.39 753.66 L583.53 754.83 L583.66 755.99 L583.8 757.13 L583.91 758.06 L584.02 759 L584.13 759.96 L584.25 760.95 L584.36 761.94 L584.48 762.96 L584.59 763.98 L584.71 765.01 L584.83 766.05 L584.95 767.09 L585.07 768.14 L585.19 769.18 L585.31 770.22 L585.44 771.25 L585.56 772.26 L585.69 773.25 L585.81 774.23 L585.94 775.2 L586.07 776.14 L586.2 777.06 L586.35 778.13 L586.5 779.18 L586.65 780.23 L586.8 781.26 L586.95 782.29 L587.09 783.32 L587.24 784.33 L587.4 785.33 L587.55 786.32 L587.71 787.31 L587.88 788.28 L588.05 789.24 L588.22 790.18 L588.41 791.07 L588.59 791.95 L588.79 792.82 L589 793.68 L589.26 794.7 L589.53 795.71 L589.82 796.8 L590.11 797.92 L590.4 799.02 L590.71 800.11 L591.02 801.18 L591.35 802.19 L591.67 803.19 L592.01 804.16 L592.35 805.11 L592.69 806.06 L593.04 806.98 L593.4 807.88 L593.87 808.99 L594.35 809.98 L594.86 810.95 L595.37 811.92 L595.9 812.92 L596.43 813.88 L596.96 814.81 L597.48 815.71 L598 816.54 L598.51 817.28 L599 817.95 L600.04 819.1 L601.04 819.88 L602.03 820.36 L603.01 820.62 L604 820.79 L605.02 820.85 L606.05 820.63 L607.07 820.38 L608.06 820.13 L609 819.94 L609.88 819.54 L610.72 818.98 L611.52 818.29 L612.28 817.62 L613 817 L614.06 816.22 L615 815.54 L616 814.83 L616.8 814.08 L617.62 813.23 L618.51 812.47 L619.5 811.71 L620.38 811.03 L621.32 810.11 L622.33 809.33 L623.39 808.79 L624.5 808.38 L625.5 808.49 L626.58 808.67 L627.69 808.98 L628.81 809.67 L629.89 810.14 L630.9 810.7 L632.02 811.22 L633.08 811.55 L634.09 812.34 L635.06 812.82 L636 813.14 L637.1 813.65 L638.12 814.09 L639.14 814.57 L640.2 814.99 L641.29 815.14 L642.38 815.18 L643.55 815 L644.9 814.67 L645.68 814.4 L646.56 813.59 L647.48 812.81 L648.44 812.1 L649.39 811.31 L650.3 810.68 L651.15 810.19 L651.9 809.7 L652.91 808.94 L653.75 808.08 L654.51 807.37 L655.23 806.74 L656 806.06 L656.98 805.26 L657.93 804.76 L658.91 804.5 L660 804.49 L661.06 804.69 L662.28 804.8 L663.5 804.89 L664.56 805.04 L665.3 805.16" fill="none" stroke="#86ee08" stroke-width="2.1" stroke-linejoin="round" stroke-linecap="butt"/>
<path d="M544.8 820.69 L545.41 820.62 L546.21 820.54 L547.15 820.36 L548.2 820.15 L549.34 820.04 L550.52 820.23 L551.71 820.29 L552.87 820.53 L553.98 820.5 L555 820.45 L556.07 820.53 L557.16 820.52 L558.24 820.48 L559.3 820.34 L560.34 820.11 L561.34 820.1 L562.29 819.95 L563.18 819.79 L564 819.82 L565.3 819.5 L566.41 819.28 L567.38 819.14 L568.23 818.79 L569 818.23 L569.79 817.41 L570.39 816.61 L570.89 815.59 L571.4 814.13 L571.62 813.38 L571.83 812.61 L572.03 811.79 L572.23 810.93 L572.42 809.99 L572.62 808.97 L572.81 807.86 L573.01 806.71 L573.2 805.43 L573.4 804.01 L573.5 803.28 L573.59 802.51 L573.69 801.7 L573.78 800.86 L573.88 800 L573.97 799.1 L574.07 798.18 L574.16 797.23 L574.26 796.23 L574.35 795.2 L574.45 794.16 L574.54 793.09 L574.64 792.01 L574.73 790.91 L574.83 789.81 L574.92 788.69 L575.02 787.57 L575.11 786.44 L575.21 785.31 L575.3 784.18 L575.4 783.04 L575.48 782.11 L575.55 781.16 L575.63 780.18 L575.71 779.19 L575.79 778.17 L575.87 777.14 L575.94 776.1 L576.02 775.04 L576.1 773.98 L576.18 772.91 L576.26 771.83 L576.33 770.75 L576.41 769.68 L576.49 768.6 L576.57 767.54 L576.65 766.48 L576.72 765.44 L576.8 764.4 L576.88 763.39 L576.95 762.39 L577.03 761.41 L577.1 760.45 L577.18 759.51 L577.25 758.6 L577.33 757.72 L577.4 756.88 L577.52 755.55 L577.64 754.25 L577.76 752.99 L577.88 751.76 L578 750.57 L578.12 749.42 L578.23 748.31 L578.35 747.24 L578.46 746.22 L578.58 745.25 L578.69 744.33 L578.8 743.46 L578.9 742.64 L579.01 741.88 L579.1 741.17 L579.2 740.52 L579.64 738.14 L580.01 737.21 L580.4 737.06 L580.83 737.25 L581.28 738.21 L581.8 740.64 L581.91 741.32 L582.02 742.06 L582.13 742.88 L582.25 743.77 L582.37 744.71 L582.49 745.7 L582.61 746.74 L582.74 747.8 L582.87 748.88 L582.99 750 L583.13 751.14 L583.26 752.28 L583.39 753.44 L583.53 754.6 L583.66 755.75 L583.8 756.89 L583.91 757.81 L584.02 758.75 L584.13 759.71 L584.25 760.69 L584.36 761.69 L584.48 762.7 L584.59 763.72 L584.71 764.75 L584.83 765.79 L584.95 766.83 L585.07 767.87 L585.19 768.91 L585.31 769.95 L585.44 770.99 L585.56 772.02 L585.69 773.04 L585.81 774.05 L585.94 775.04 L586.07 776.01 L586.2 776.96 L586.35 778.05 L586.5 779.14 L586.65 780.21 L586.8 781.28 L586.95 782.32 L587.09 783.35 L587.24 784.37 L587.4 785.38 L587.55 786.38 L587.71 787.37 L587.88 788.35 L588.05 789.32 L588.22 790.28 L588.41 791.25 L588.59 792.21 L588.79 793.16 L589 794.1 L589.26 795.23 L589.53 796.35 L589.82 797.43 L590.11 798.48 L590.4 799.52 L590.71 800.54 L591.02 801.55 L591.35 802.58 L591.67 803.58 L592.01 804.57 L592.35 805.54 L592.69 806.4 L593.04 807.22 L593.4 808.02 L593.87 809.01 L594.35 809.94 L594.86 810.84 L595.37 811.78 L595.9 812.84 L596.43 813.85 L596.96 814.78 L597.48 815.65 L598 816.46 L598.51 817.17 L599 817.82 L600.04 818.9 L601.04 819.7 L602.03 820.42 L603.01 821.02 L604 821.38 L605 821.39 L606 821.02 L607 820.61 L608 820.21 L609 819.91 L609.82 819.61 L610.63 819.2 L611.44 818.61 L612.26 818.02 L613.11 817.5 L614 817.03 L614.94 816.63 L615.93 816.3 L616.94 815.87 L617.96 815.47 L618.99 815.2 L620 815.12 L621 815.1 L622 815.21 L623 815.51 L624 815.68 L625 815.83 L626 815.97 L627 816.21 L628 816.41 L629 816.61 L630 816.89 L631 816.99 L632 817.1 L633 817.3 L634 817.58 L635 817.71 L636 817.65 L637 817.38 L638 817.16 L639 816.95 L640 816.75 L641 816.61 L642 816.38 L643 816.07 L644 815.79 L644.85 815.57 L645.69 815.23 L646.52 814.53 L647.36 813.82 L648.21 813.12 L649.09 812.29 L650 811.57 L650.97 811.28 L652.01 810.89 L653.09 810.69 L654.16 810.68 L655.19 810.29 L656.15 810.28 L657 810.29 L658.2 809.95 L659.17 810.24 L660.05 810.52 L661 810.73 L662.15 811.28 L663.4 811.65 L664.52 812.13 L665.3 812.45" fill="none" stroke="#157a15" stroke-width="2.15" stroke-linejoin="round" stroke-linecap="butt"/>
<line x1="617" y1="771.9" x2="617" y2="831.8" stroke="#151515" stroke-width="1.3"/>
<text x="622" y="831.8" font-size="12.5" letter-spacing="0.3">120 ± 1 ms</text>
<text x="544.8" y="857.3" font-size="14.3" text-anchor="middle">0</text>
<text x="605.05" y="857.3" font-size="14.3" text-anchor="middle" textLength="26.2" lengthAdjust="spacingAndGlyphs">100</text>
<text x="665.3" y="857.3" font-size="14.3" text-anchor="middle" textLength="26.2" lengthAdjust="spacingAndGlyphs">200</text>
<text x="-0.3" y="10.6" font-size="14.2" font-weight="bold" fill="#231f20">a</text>
<text x="348.6" y="10.7" font-size="14.2" font-weight="bold" fill="#231f20">b</text>
<text x="40.2" y="20.7" font-size="15.4" textLength="23.8" lengthAdjust="spacingAndGlyphs">MA</text>
<text x="170.6" y="20.1" font-size="15.4" textLength="34.8" lengthAdjust="spacingAndGlyphs">Near</text>
<text x="382" y="20.8" font-size="15.4" textLength="23.8" lengthAdjust="spacingAndGlyphs">MA</text>
<text x="515.8" y="20.1" font-size="15.4" textLength="24.6" lengthAdjust="spacingAndGlyphs">Far</text>
<text x="18.2" y="183.9" font-size="14.4" text-anchor="middle" textLength="137.4" lengthAdjust="spacingAndGlyphs" transform="rotate(-90 18.2 183.9)">Population activity</text>
<text x="186.4" y="343.9" font-size="13.7" text-anchor="middle" textLength="67.2" lengthAdjust="spacingAndGlyphs">Time (ms)</text>
<text x="526.3" y="343.9" font-size="13.7" text-anchor="middle" textLength="67.2" lengthAdjust="spacingAndGlyphs">Time (ms)</text>
<text x="-0.3" y="541" font-size="14.2" font-weight="bold" fill="#231f20">e</text>
<text x="348.6" y="541.1" font-size="14.2" font-weight="bold" fill="#231f20">f</text>
<text x="40.2" y="551.1" font-size="15.4" textLength="23.8" lengthAdjust="spacingAndGlyphs">MB</text>
<text x="170.6" y="550.5" font-size="15.4" textLength="34.8" lengthAdjust="spacingAndGlyphs">Near</text>
<text x="382" y="551.2" font-size="15.4" textLength="23.8" lengthAdjust="spacingAndGlyphs">MB</text>
<text x="515.8" y="550.5" font-size="15.4" textLength="24.6" lengthAdjust="spacingAndGlyphs">Far</text>
<text x="18.2" y="714.3" font-size="14.4" text-anchor="middle" textLength="137.4" lengthAdjust="spacingAndGlyphs" transform="rotate(-90 18.2 714.3)">Population activity</text>
<text x="186.4" y="874.3" font-size="13.7" text-anchor="middle" textLength="67.2" lengthAdjust="spacingAndGlyphs">Time (ms)</text>
<text x="526.3" y="874.3" font-size="13.7" text-anchor="middle" textLength="67.2" lengthAdjust="spacingAndGlyphs">Time (ms)</text>
<text x="0" y="370.2" font-size="14.2" font-weight="bold" fill="#231f20">c</text>
<text x="39.6" y="380.4" font-size="14.7" textLength="22.4" lengthAdjust="spacingAndGlyphs">MA</text>
<line x1="120" y1="380" x2="129" y2="380" stroke="#1470c0" stroke-width="2.5"/>
<text x="133.6" y="383.3" font-size="12.6" textLength="36.2" lengthAdjust="spacingAndGlyphs">ΔCool</text>
<line x1="205" y1="380" x2="214" y2="380" stroke="#72b022" stroke-width="2.5"/>
<text x="218.4" y="383.3" font-size="12.6" textLength="44.1" lengthAdjust="spacingAndGlyphs">ΔSham</text>
<line x1="126.8" y1="464.6" x2="248.6" y2="464.6" stroke="#3d3d3d" stroke-width="1.65"/>
<line x1="127.4" y1="464.6" x2="127.4" y2="462.4" stroke="#3d3d3d" stroke-width="1.65"/>
<line x1="157.55" y1="464.6" x2="157.55" y2="462.4" stroke="#3d3d3d" stroke-width="1.65"/>
<line x1="187.7" y1="464.6" x2="187.7" y2="462.4" stroke="#3d3d3d" stroke-width="1.65"/>
<line x1="217.85" y1="464.6" x2="217.85" y2="462.4" stroke="#3d3d3d" stroke-width="1.65"/>
<line x1="248" y1="464.6" x2="248" y2="462.4" stroke="#3d3d3d" stroke-width="1.65"/>
<text x="127.4" y="480.6" font-size="13.8" text-anchor="middle">0</text>
<text x="187.7" y="480.6" font-size="13.8" text-anchor="middle" textLength="24.4" lengthAdjust="spacingAndGlyphs">100</text>
<text x="248" y="480.6" font-size="13.8" text-anchor="middle" textLength="24.4" lengthAdjust="spacingAndGlyphs">200</text>
<text x="187.3" y="498.3" font-size="14" text-anchor="middle" textLength="68.2" lengthAdjust="spacingAndGlyphs">Time (ms)</text>
<line x1="106.4" y1="424.5" x2="106.4" y2="451" stroke="#4a4a4a" stroke-width="1.3"/>
<text x="99.4" y="440" font-size="14" text-anchor="middle" textLength="30" lengthAdjust="spacingAndGlyphs" transform="rotate(-90 99.4 440)">0.05</text>
<text x="71.6" y="442" font-size="14.4" text-anchor="middle" textLength="64" lengthAdjust="spacingAndGlyphs" transform="rotate(-90 71.6 442)">Δ Activity</text>
<path d="M128 439.4 L129 438.56 L130 437.26 L131 436.15 L132 436.44 L133 436.5 L134 435.91 L135 435.8 L136 436.12 L137 437.12 L138 436.55 L139 435.13 L140 434.63 L141 435.88 L142 437.2 L143 438.35 L144 438.98 L145 440.01 L146.2 441.49 L147.4 442.29 L148.27 440.07 L149.13 438.31 L150 436.71 L151 435.75 L152 434.82 L153 434.49 L154 433.79 L155 433.2 L156 431.73 L157 432.32 L158 433.5 L159 434.93 L160 434.78 L161 434.82 L162 429.16 L163 423.48 L163.87 420.68 L164.73 417.64 L165.6 414.12 L166.8 416.97 L168 420.22 L169 422.97 L170 426.18 L171.2 428.25 L172.4 430.31 L173.27 429.15 L174.13 428.41 L175 427.21 L175.87 426.85 L176.73 427.16 L177.6 426.61 L178.8 424.68 L180 423.1 L181.2 417.04 L182.4 411.29 L183.4 406.57 L184.4 401.4 L185.27 400.31 L186.13 399.59 L187 398.91 L187.93 397.89 L188.85 396.97 L189.77 396.36 L190.7 395.37 L191.6 396.97 L192.5 399.35 L193.5 403.39 L194.5 406.39 L195.43 406.1 L196.37 406.45 L197.3 406.14 L198.4 407.65 L199.5 409.62 L200.75 412.78 L202 415.4 L203 418.1 L204 420.84 L205 423.47 L206 426.29 L207 429.34 L208 431.63 L209.05 434.62 L210.1 437.08 L211.07 435.76 L212.03 433.79 L213 432.37 L214.1 431.61 L215.2 430.17 L216.3 429.3 L217.2 428.1 L218.1 426.76 L219 424.88 L220.05 422.77 L221.1 420.2 L222.05 415.28 L223 410.13 L223.95 405.53 L224.9 401.42 L225.95 399.5 L227 396.95 L228.05 393.9 L229.1 391.31 L230.3 394.8 L231.5 398.59 L232.45 398.72 L233.4 398.87 L234.35 399.76 L235.3 400.25 L236.23 402.36 L237.17 403.61 L238.1 405.62 L239.05 409.87 L240 413.94 L241 418.34 L242 422.12 L242.93 422.21 L243.87 422.86 L244.8 423.26 L245.9 425.09 L247 427.59 L248.1 429.8 L248.1 436.2 L247 433.99 L245.9 431.49 L244.8 429.66 L243.87 429.26 L242.93 428.61 L242 428.52 L241 424.74 L240 420.34 L239.05 416.27 L238.1 412.02 L237.17 410.01 L236.23 408.76 L235.3 406.65 L234.35 406.16 L233.4 405.27 L232.45 405.12 L231.5 404.99 L230.3 401.2 L229.1 397.71 L228.05 400.3 L227 403.35 L225.95 405.9 L224.9 407.82 L223.95 411.93 L223 416.53 L222.05 421.68 L221.1 426.6 L220.05 429.17 L219 431.28 L218.1 433.16 L217.2 434.5 L216.3 435.7 L215.2 436.57 L214.1 438.01 L213 438.77 L212.03 440.19 L211.07 442.16 L210.1 443.48 L209.05 441.02 L208 438.03 L207 435.74 L206 432.69 L205 429.87 L204 427.24 L203 424.5 L202 421.8 L200.75 419.18 L199.5 416.02 L198.4 414.05 L197.3 412.54 L196.37 412.85 L195.43 412.5 L194.5 412.79 L193.5 409.79 L192.5 405.75 L191.6 403.37 L190.7 401.77 L189.77 402.76 L188.85 403.37 L187.93 404.29 L187 405.31 L186.13 405.99 L185.27 406.71 L184.4 407.8 L183.4 412.97 L182.4 417.69 L181.2 423.44 L180 429.5 L178.8 431.08 L177.6 433.01 L176.73 433.56 L175.87 433.25 L175 433.61 L174.13 434.81 L173.27 435.55 L172.4 436.71 L171.2 434.65 L170 432.58 L169 429.37 L168 426.62 L166.8 423.37 L165.6 420.52 L164.73 424.04 L163.87 427.08 L163 429.88 L162 435.56 L161 441.22 L160 441.18 L159 441.33 L158 439.9 L157 438.72 L156 438.13 L155 439.6 L154 440.19 L153 440.89 L152 441.22 L151 442.15 L150 443.11 L149.13 444.71 L148.27 446.47 L147.4 448.69 L146.2 447.89 L145 446.41 L144 445.38 L143 444.75 L142 443.6 L141 442.28 L140 441.03 L139 441.53 L138 442.95 L137 443.52 L136 442.52 L135 442.2 L134 442.31 L133 442.9 L132 442.84 L131 442.55 L130 443.66 L129 444.96 L128 445.8 Z" fill="#a2b8ee" fill-opacity="0.9" stroke="#a2b8ee" stroke-opacity="0.9" stroke-width="1" stroke-linejoin="round"/>
<path d="M128 429 L129 429.46 L130 429.28 L131 429.6 L132 430.01 L133 430.84 L134 432.03 L135 433.38 L136 434.48 L137 435.27 L138 434.65 L139 434.94 L140 434.97 L141 434.23 L142 433.43 L143 433.4 L144 434.04 L145 435.02 L146 435.57 L147 435.46 L148 435.97 L149 435.86 L150 436.58 L151 436.99 L152 436.61 L153.2 434.81 L154.4 433.33 L155.27 434 L156.13 435.06 L157 436.22 L158 437.34 L159 438.68 L160 439.95 L161 441.18 L162 441.84 L163 442.07 L164 439.27 L165 436.67 L166 434.13 L167 430.81 L168 427.9 L169 428.01 L170 427.79 L171 426.89 L172 429.25 L173 431.73 L174 431.38 L175 430.27 L176 429.48 L177 428.76 L178 428.01 L179 427.54 L180 427.96 L181 427.79 L182 427.73 L183.2 429.99 L184.4 432.61 L185 431.5 L185.95 429.31 L186.9 426.65 L187.85 424.09 L188.8 420.94 L189.74 420.45 L190.68 420.66 L191.62 420.56 L192.56 419.64 L193.5 419.46 L194.63 417.72 L195.77 416.34 L196.9 414.27 L198 416.72 L199.1 419.38 L200.2 422.38 L201.16 423.09 L202.12 423.05 L203.08 423.3 L204.04 424.05 L205 425.19 L205.93 424.07 L206.85 422.63 L207.77 421.44 L208.7 420.37 L209.65 419.95 L210.6 419.38 L211.55 418.26 L212.5 416.72 L213.47 417.76 L214.43 419.44 L215.4 420.93 L216.34 420.34 L217.28 419.58 L218.22 418.71 L219.16 418.01 L220.1 417.04 L221.07 417.22 L222.03 417.79 L223 418.76 L224.1 419.98 L225.2 421.62 L226.3 422.57 L227.45 420.74 L228.6 418.67 L229.57 419.03 L230.53 420.17 L231.5 421.59 L232.43 420.69 L233.37 419.75 L234.3 418.82 L235.25 420.04 L236.2 420.99 L237.15 421.67 L238.1 422.2 L239.05 422.41 L240 422.82 L240.95 423.54 L241.9 424.05 L242.85 425.73 L243.8 426.9 L244.75 428.54 L245.7 430.69 L246.9 428.8 L248.1 427 L248.1 433 L246.9 434.8 L245.7 436.69 L244.75 434.54 L243.8 432.9 L242.85 431.73 L241.9 430.05 L240.95 429.54 L240 428.82 L239.05 428.41 L238.1 428.2 L237.15 427.67 L236.2 426.99 L235.25 426.04 L234.3 424.82 L233.37 425.75 L232.43 426.69 L231.5 427.59 L230.53 426.17 L229.57 425.03 L228.6 424.67 L227.45 426.74 L226.3 428.57 L225.2 427.62 L224.1 425.98 L223 424.76 L222.03 423.79 L221.07 423.22 L220.1 423.04 L219.16 424.01 L218.22 424.71 L217.28 425.58 L216.34 426.34 L215.4 426.93 L214.43 425.44 L213.47 423.76 L212.5 422.72 L211.55 424.26 L210.6 425.38 L209.65 425.95 L208.7 426.37 L207.77 427.44 L206.85 428.63 L205.93 430.07 L205 431.19 L204.04 430.05 L203.08 429.3 L202.12 429.05 L201.16 429.09 L200.2 428.38 L199.1 425.38 L198 422.72 L196.9 420.27 L195.77 422.34 L194.63 423.72 L193.5 425.46 L192.56 425.64 L191.62 426.56 L190.68 426.66 L189.74 426.45 L188.8 426.94 L187.85 430.09 L186.9 432.65 L185.95 435.31 L185 437.5 L184.4 438.61 L183.2 435.99 L182 433.73 L181 433.79 L180 433.96 L179 433.54 L178 434.01 L177 434.76 L176 435.48 L175 436.27 L174 437.38 L173 437.73 L172 435.25 L171 432.89 L170 433.79 L169 434.01 L168 433.9 L167 436.81 L166 440.13 L165 442.67 L164 445.27 L163 448.07 L162 447.84 L161 447.18 L160 445.95 L159 444.68 L158 443.34 L157 442.22 L156.13 441.06 L155.27 440 L154.4 439.33 L153.2 440.81 L152 442.61 L151 442.99 L150 442.58 L149 441.86 L148 441.97 L147 441.46 L146 441.57 L145 441.02 L144 440.04 L143 439.4 L142 439.43 L141 440.23 L140 440.97 L139 440.94 L138 440.65 L137 441.27 L136 440.48 L135 439.38 L134 438.03 L133 436.84 L132 436.01 L131 435.6 L130 435.28 L129 435.46 L128 435 Z" fill="#cde48c" fill-opacity="0.9" stroke="#cde48c" stroke-opacity="0.9" stroke-width="1" stroke-linejoin="round"/>
<path d="M128 442.6 L129 441.76 L130 440.46 L131 439.35 L132 439.64 L133 439.7 L134 439.11 L135 439 L136 439.32 L137 440.32 L138 439.75 L139 438.33 L140 437.83 L141 439.08 L142 440.4 L143 441.55 L144 442.18 L145 443.21 L146.2 444.69 L147.4 445.49 L148.27 443.27 L149.13 441.51 L150 439.91 L151 438.95 L152 438.02 L153 437.69 L154 436.99 L155 436.4 L156 434.93 L157 435.52 L158 436.7 L159 438.13 L160 437.98 L161 438.02 L162 432.36 L163 426.68 L163.87 423.88 L164.73 420.84 L165.6 417.32 L166.8 420.17 L168 423.42 L169 426.17 L170 429.38 L171.2 431.45 L172.4 433.51 L173.27 432.35 L174.13 431.61 L175 430.41 L175.87 430.05 L176.73 430.36 L177.6 429.81 L178.8 427.88 L180 426.3 L181.2 420.24 L182.4 414.49 L183.4 409.77 L184.4 404.6 L185.27 403.51 L186.13 402.79 L187 402.11 L187.93 401.09 L188.85 400.17 L189.77 399.56 L190.7 398.57 L191.6 400.17 L192.5 402.55 L193.5 406.59 L194.5 409.59 L195.43 409.3 L196.37 409.65 L197.3 409.34 L198.4 410.85 L199.5 412.82 L200.75 415.98 L202 418.6 L203 421.3 L204 424.04 L205 426.67 L206 429.49 L207 432.54 L208 434.83 L209.05 437.82 L210.1 440.28 L211.07 438.96 L212.03 436.99 L213 435.57 L214.1 434.81 L215.2 433.37 L216.3 432.5 L217.2 431.3 L218.1 429.96 L219 428.08 L220.05 425.97 L221.1 423.4 L222.05 418.48 L223 413.33 L223.95 408.73 L224.9 404.62 L225.95 402.7 L227 400.15 L228.05 397.1 L229.1 394.51 L230.3 398 L231.5 401.79 L232.45 401.92 L233.4 402.07 L234.35 402.96 L235.3 403.45 L236.23 405.56 L237.17 406.81 L238.1 408.82 L239.05 413.07 L240 417.14 L241 421.54 L242 425.32 L242.93 425.41 L243.87 426.06 L244.8 426.46 L245.9 428.29 L247 430.79 L248.1 433" fill="none" stroke="#1470c0" stroke-width="2.1" stroke-linejoin="round" stroke-linecap="round"/>
<path d="M128 432 L129 432.46 L130 432.28 L131 432.6 L132 433.01 L133 433.84 L134 435.03 L135 436.38 L136 437.48 L137 438.27 L138 437.65 L139 437.94 L140 437.97 L141 437.23 L142 436.43 L143 436.4 L144 437.04 L145 438.02 L146 438.57 L147 438.46 L148 438.97 L149 438.86 L150 439.58 L151 439.99 L152 439.61 L153.2 437.81 L154.4 436.33 L155.27 437 L156.13 438.06 L157 439.22 L158 440.34 L159 441.68 L160 442.95 L161 444.18 L162 444.84 L163 445.07 L164 442.27 L165 439.67 L166 437.13 L167 433.81 L168 430.9 L169 431.01 L170 430.79 L171 429.89 L172 432.25 L173 434.73 L174 434.38 L175 433.27 L176 432.48 L177 431.76 L178 431.01 L179 430.54 L180 430.96 L181 430.79 L182 430.73 L183.2 432.99 L184.4 435.61 L185 434.5 L185.95 432.31 L186.9 429.65 L187.85 427.09 L188.8 423.94 L189.74 423.45 L190.68 423.66 L191.62 423.56 L192.56 422.64 L193.5 422.46 L194.63 420.72 L195.77 419.34 L196.9 417.27 L198 419.72 L199.1 422.38 L200.2 425.38 L201.16 426.09 L202.12 426.05 L203.08 426.3 L204.04 427.05 L205 428.19 L205.93 427.07 L206.85 425.63 L207.77 424.44 L208.7 423.37 L209.65 422.95 L210.6 422.38 L211.55 421.26 L212.5 419.72 L213.47 420.76 L214.43 422.44 L215.4 423.93 L216.34 423.34 L217.28 422.58 L218.22 421.71 L219.16 421.01 L220.1 420.04 L221.07 420.22 L222.03 420.79 L223 421.76 L224.1 422.98 L225.2 424.62 L226.3 425.57 L227.45 423.74 L228.6 421.67 L229.57 422.03 L230.53 423.17 L231.5 424.59 L232.43 423.69 L233.37 422.75 L234.3 421.82 L235.25 423.04 L236.2 423.99 L237.15 424.67 L238.1 425.2 L239.05 425.41 L240 425.82 L240.95 426.54 L241.9 427.05 L242.85 428.73 L243.8 429.9 L244.75 431.54 L245.7 433.69 L246.9 431.8 L248.1 430" fill="none" stroke="#72b022" stroke-width="2.05" stroke-linejoin="round" stroke-linecap="round"/>
<line x1="180.6" y1="394" x2="180.6" y2="453" stroke="#1a1a1a" stroke-width="1.3"/>
<text x="176.3" y="404.6" font-size="12.5" text-anchor="end" letter-spacing="0.3">89 ± 3 ms</text>
<text x="347.6" y="370.2" font-size="14.2" font-weight="bold" fill="#231f20">d</text>
<text x="381.7" y="380.8" font-size="14.7" textLength="22.4" lengthAdjust="spacingAndGlyphs">MA</text>
<line x1="459.9" y1="380.2" x2="468.9" y2="380.2" stroke="#1470c0" stroke-width="2.5"/>
<text x="473.5" y="383.5" font-size="12.6" textLength="36.2" lengthAdjust="spacingAndGlyphs">ΔCool</text>
<line x1="544.9" y1="380.2" x2="553.9" y2="380.2" stroke="#72b022" stroke-width="2.5"/>
<text x="558.3" y="383.5" font-size="12.6" textLength="44.1" lengthAdjust="spacingAndGlyphs">ΔSham</text>
<line x1="464" y1="464.7" x2="586.6" y2="464.7" stroke="#3d3d3d" stroke-width="1.65"/>
<line x1="464.6" y1="464.7" x2="464.6" y2="462.5" stroke="#3d3d3d" stroke-width="1.65"/>
<line x1="494.95" y1="464.7" x2="494.95" y2="462.5" stroke="#3d3d3d" stroke-width="1.65"/>
<line x1="525.3" y1="464.7" x2="525.3" y2="462.5" stroke="#3d3d3d" stroke-width="1.65"/>
<line x1="555.65" y1="464.7" x2="555.65" y2="462.5" stroke="#3d3d3d" stroke-width="1.65"/>
<line x1="586" y1="464.7" x2="586" y2="462.5" stroke="#3d3d3d" stroke-width="1.65"/>
<text x="464.6" y="480.6" font-size="13.8" text-anchor="middle">0</text>
<text x="525.3" y="480.6" font-size="13.8" text-anchor="middle" textLength="24.4" lengthAdjust="spacingAndGlyphs">100</text>
<text x="586" y="480.6" font-size="13.8" text-anchor="middle" textLength="24.4" lengthAdjust="spacingAndGlyphs">200</text>
<text x="524.9" y="498.3" font-size="14" text-anchor="middle" textLength="68.2" lengthAdjust="spacingAndGlyphs">Time (ms)</text>
<line x1="450.6" y1="425" x2="450.6" y2="451" stroke="#4a4a4a" stroke-width="1.3"/>
<text x="442.8" y="440" font-size="14" text-anchor="middle" textLength="30" lengthAdjust="spacingAndGlyphs" transform="rotate(-90 442.8 440)">0.05</text>
<text x="415" y="441.3" font-size="14.4" text-anchor="middle" textLength="64" lengthAdjust="spacingAndGlyphs" transform="rotate(-90 415 441.3)">Δ Activity</text>
<path d="M465 432.8 L466 433.52 L467 433.62 L468 434.29 L469 434.74 L470 435.56 L471 434.65 L472 433.52 L473 433.55 L474 433.28 L475 433.74 L476 433.48 L477 433.13 L478 432.35 L479 432.38 L480 433.12 L481 433.26 L482 433.21 L483 432.89 L484 432.8 L485 432.17 L486 431.81 L487 431.29 L488 430.82 L489 430.91 L490 432.2 L491 433.14 L492 435.16 L493 436.63 L494 433.33 L495 430.28 L495.87 427.24 L496.73 424.55 L497.6 422.1 L498.6 419.8 L499.6 417.87 L500.8 420.85 L502 423.34 L503 427.01 L504 430.44 L505.2 434.17 L506.4 438.4 L507.27 434.56 L508.13 430.71 L509 426.88 L509.87 430.28 L510.73 433.2 L511.6 436.33 L512.8 440.69 L514 445.43 L515.2 443.68 L516.4 441.49 L517.27 438.51 L518.13 435.24 L519 432.3 L520 430.82 L521 429.7 L522 428.58 L523 426.31 L524 424.51 L525 425.36 L526 426.45 L527 426.79 L528 428.52 L529 430.29 L530 433.73 L531 437.28 L531.87 435.65 L532.73 434.11 L533.6 433.26 L534.8 432.2 L536 430.56 L537 429.62 L538 428.34 L539 426.87 L540.4 417.58 L541.8 408.89 L542.8 410.73 L543.8 412.84 L544.87 414.32 L545.93 416.53 L547 418.22 L548.25 416.28 L549.5 415 L550.3 413.3 L551.1 411.88 L551.9 412.25 L552.7 411.94 L553.5 410.29 L554.3 408.43 L555.5 405.28 L556.7 402.15 L557.9 403.1 L559.1 404.12 L560.1 407.46 L561.1 410.86 L561.9 412.17 L562.7 413.38 L563.5 411.91 L564.3 410.1 L565.1 408.37 L565.9 406.97 L566.7 406.36 L567.5 405.65 L568.3 407.72 L569.1 409.35 L569.9 412.5 L570.7 415.2 L571.5 417.71 L572.3 419.83 L573.6 416.13 L574.4 413.79 L575.2 411.17 L576 410.58 L576.8 409.7 L577.8 410.44 L578.8 411.26 L579.8 413.54 L580.8 416.03 L581.6 416.4 L582.4 416.36 L583.2 415.56 L584 415.04 L584.8 413.4 L585.6 412.7 L585.6 419.1 L584.8 419.8 L584 421.44 L583.2 421.96 L582.4 422.76 L581.6 422.8 L580.8 422.43 L579.8 419.94 L578.8 417.66 L577.8 416.84 L576.8 416.1 L576 416.98 L575.2 417.57 L574.4 420.19 L573.6 422.53 L572.3 426.23 L571.5 424.11 L570.7 421.6 L569.9 418.9 L569.1 415.75 L568.3 414.12 L567.5 412.05 L566.7 412.76 L565.9 413.37 L565.1 414.77 L564.3 416.5 L563.5 418.31 L562.7 419.78 L561.9 418.57 L561.1 417.26 L560.1 413.86 L559.1 410.52 L557.9 409.5 L556.7 408.55 L555.5 411.68 L554.3 414.83 L553.5 416.69 L552.7 418.34 L551.9 418.65 L551.1 418.28 L550.3 419.7 L549.5 421.4 L548.25 422.68 L547 424.62 L545.93 422.93 L544.87 420.72 L543.8 419.24 L542.8 417.13 L541.8 415.29 L540.4 423.98 L539 433.27 L538 434.74 L537 436.02 L536 436.96 L534.8 438.6 L533.6 439.66 L532.73 440.51 L531.87 442.05 L531 443.68 L530 440.13 L529 436.69 L528 434.92 L527 433.19 L526 432.85 L525 431.76 L524 430.91 L523 432.71 L522 434.98 L521 436.1 L520 437.22 L519 438.7 L518.13 441.64 L517.27 444.91 L516.4 447.89 L515.2 450.08 L514 451.83 L512.8 447.09 L511.6 442.73 L510.73 439.6 L509.87 436.68 L509 433.28 L508.13 437.11 L507.27 440.96 L506.4 444.8 L505.2 440.57 L504 436.84 L503 433.41 L502 429.74 L500.8 427.25 L499.6 424.27 L498.6 426.2 L497.6 428.5 L496.73 430.95 L495.87 433.64 L495 436.68 L494 439.73 L493 443.03 L492 441.56 L491 439.54 L490 438.6 L489 437.31 L488 437.22 L487 437.69 L486 438.21 L485 438.57 L484 439.2 L483 439.29 L482 439.61 L481 439.66 L480 439.52 L479 438.78 L478 438.75 L477 439.53 L476 439.88 L475 440.14 L474 439.68 L473 439.95 L472 439.92 L471 441.05 L470 441.96 L469 441.14 L468 440.69 L467 440.02 L466 439.92 L465 439.2 Z" fill="#a2b8ee" fill-opacity="0.9" stroke="#a2b8ee" stroke-opacity="0.9" stroke-width="1" stroke-linejoin="round"/>
<path d="M465 429.6 L466 429.6 L467 429.08 L468 428.52 L469 427.55 L470 427.14 L471 427.15 L471.87 426.11 L472.73 425.65 L473.6 425.43 L474.8 426.39 L476 427.84 L477.2 429.11 L478.4 430.1 L479.27 429.95 L480.13 429.12 L481 428.69 L481.87 429.7 L482.73 430.39 L483.6 430.32 L484.8 429.09 L486 428.38 L487 427.94 L488 426.7 L489 425.96 L490 427.17 L491 428.23 L492 428.51 L493 428.32 L494 428.42 L495 428.35 L495.87 425.46 L496.73 423.5 L497.6 421.67 L499 417.6 L500 419.98 L501 422.15 L501.87 425.09 L502.73 428.84 L503.6 432.04 L504.53 435.65 L505.47 439.74 L506.4 443.66 L507.27 439.91 L508.13 436.3 L509 432.25 L510 428.55 L511 425.42 L511.87 428.74 L512.73 431.64 L513.6 435.26 L514.8 434.59 L516 433.36 L517 432.37 L518 431.3 L519 430.2 L520 429.26 L521 428.32 L522 427.36 L523 427.71 L524 428.33 L525 428.64 L526 428.12 L527 427.93 L528 426.74 L529 427.6 L530 428.96 L531 429.96 L532 428.79 L533 427.35 L534 426.53 L535 426.41 L536 425.55 L537 424.71 L538 423.36 L539 422.64 L540 422.29 L540.87 421.99 L541.73 421.31 L542.6 421.43 L543.4 424.08 L544.2 426.31 L545.2 430.26 L546.2 433.68 L547.45 434.61 L548.7 435.62 L549.9 435.46 L551.1 435.56 L552.3 432.88 L553.5 430.81 L554.7 431.36 L555.9 431.44 L557.1 430.55 L558.3 429.52 L559.5 428.59 L560.7 427.41 L561.9 428.21 L563.1 428.76 L564.3 429.24 L565.5 429.38 L566.7 427.18 L567.9 425.05 L569.1 425.69 L570.3 425.99 L571.1 425.49 L571.9 425.21 L573.15 426.72 L574.4 428.15 L575.47 427.07 L576.53 425.65 L577.6 423.9 L578.6 425.73 L579.6 427.58 L580.6 430.49 L581.6 432.96 L582.4 433.33 L583.2 433.46 L584.4 432.97 L585.6 432.6 L585.6 438.6 L584.4 438.97 L583.2 439.46 L582.4 439.33 L581.6 438.96 L580.6 436.49 L579.6 433.58 L578.6 431.73 L577.6 429.9 L576.53 431.65 L575.47 433.07 L574.4 434.15 L573.15 432.72 L571.9 431.21 L571.1 431.49 L570.3 431.99 L569.1 431.69 L567.9 431.05 L566.7 433.18 L565.5 435.38 L564.3 435.24 L563.1 434.76 L561.9 434.21 L560.7 433.41 L559.5 434.59 L558.3 435.52 L557.1 436.55 L555.9 437.44 L554.7 437.36 L553.5 436.81 L552.3 438.88 L551.1 441.56 L549.9 441.46 L548.7 441.62 L547.45 440.61 L546.2 439.68 L545.2 436.26 L544.2 432.31 L543.4 430.08 L542.6 427.43 L541.73 427.31 L540.87 427.99 L540 428.29 L539 428.64 L538 429.36 L537 430.71 L536 431.55 L535 432.41 L534 432.53 L533 433.35 L532 434.79 L531 435.96 L530 434.96 L529 433.6 L528 432.74 L527 433.93 L526 434.12 L525 434.64 L524 434.33 L523 433.71 L522 433.36 L521 434.32 L520 435.26 L519 436.2 L518 437.3 L517 438.37 L516 439.36 L514.8 440.59 L513.6 441.26 L512.73 437.64 L511.87 434.74 L511 431.42 L510 434.55 L509 438.25 L508.13 442.3 L507.27 445.91 L506.4 449.66 L505.47 445.74 L504.53 441.65 L503.6 438.04 L502.73 434.84 L501.87 431.09 L501 428.15 L500 425.98 L499 423.6 L497.6 427.67 L496.73 429.5 L495.87 431.46 L495 434.35 L494 434.42 L493 434.32 L492 434.51 L491 434.23 L490 433.17 L489 431.96 L488 432.7 L487 433.94 L486 434.38 L484.8 435.09 L483.6 436.32 L482.73 436.39 L481.87 435.7 L481 434.69 L480.13 435.12 L479.27 435.95 L478.4 436.1 L477.2 435.11 L476 433.84 L474.8 432.39 L473.6 431.43 L472.73 431.65 L471.87 432.11 L471 433.15 L470 433.14 L469 433.55 L468 434.52 L467 435.08 L466 435.6 L465 435.6 Z" fill="#cde48c" fill-opacity="0.9" stroke="#cde48c" stroke-opacity="0.9" stroke-width="1" stroke-linejoin="round"/>
<path d="M465 436 L466 436.72 L467 436.82 L468 437.49 L469 437.94 L470 438.76 L471 437.85 L472 436.72 L473 436.75 L474 436.48 L475 436.94 L476 436.68 L477 436.33 L478 435.55 L479 435.58 L480 436.32 L481 436.46 L482 436.41 L483 436.09 L484 436 L485 435.37 L486 435.01 L487 434.49 L488 434.02 L489 434.11 L490 435.4 L491 436.34 L492 438.36 L493 439.83 L494 436.53 L495 433.48 L495.87 430.44 L496.73 427.75 L497.6 425.3 L498.6 423 L499.6 421.07 L500.8 424.05 L502 426.54 L503 430.21 L504 433.64 L505.2 437.37 L506.4 441.6 L507.27 437.76 L508.13 433.91 L509 430.08 L509.87 433.48 L510.73 436.4 L511.6 439.53 L512.8 443.89 L514 448.63 L515.2 446.88 L516.4 444.69 L517.27 441.71 L518.13 438.44 L519 435.5 L520 434.02 L521 432.9 L522 431.78 L523 429.51 L524 427.71 L525 428.56 L526 429.65 L527 429.99 L528 431.72 L529 433.49 L530 436.93 L531 440.48 L531.87 438.85 L532.73 437.31 L533.6 436.46 L534.8 435.4 L536 433.76 L537 432.82 L538 431.54 L539 430.07 L540.4 420.78 L541.8 412.09 L542.8 413.93 L543.8 416.04 L544.87 417.52 L545.93 419.73 L547 421.42 L548.25 419.48 L549.5 418.2 L550.3 416.5 L551.1 415.08 L551.9 415.45 L552.7 415.14 L553.5 413.49 L554.3 411.63 L555.5 408.48 L556.7 405.35 L557.9 406.3 L559.1 407.32 L560.1 410.66 L561.1 414.06 L561.9 415.37 L562.7 416.58 L563.5 415.11 L564.3 413.3 L565.1 411.57 L565.9 410.17 L566.7 409.56 L567.5 408.85 L568.3 410.92 L569.1 412.55 L569.9 415.7 L570.7 418.4 L571.5 420.91 L572.3 423.03 L573.6 419.33 L574.4 416.99 L575.2 414.37 L576 413.78 L576.8 412.9 L577.8 413.64 L578.8 414.46 L579.8 416.74 L580.8 419.23 L581.6 419.6 L582.4 419.56 L583.2 418.76 L584 418.24 L584.8 416.6 L585.6 415.9" fill="none" stroke="#1470c0" stroke-width="2.1" stroke-linejoin="round" stroke-linecap="round"/>
<path d="M465 432.6 L466 432.6 L467 432.08 L468 431.52 L469 430.55 L470 430.14 L471 430.15 L471.87 429.11 L472.73 428.65 L473.6 428.43 L474.8 429.39 L476 430.84 L477.2 432.11 L478.4 433.1 L479.27 432.95 L480.13 432.12 L481 431.69 L481.87 432.7 L482.73 433.39 L483.6 433.32 L484.8 432.09 L486 431.38 L487 430.94 L488 429.7 L489 428.96 L490 430.17 L491 431.23 L492 431.51 L493 431.32 L494 431.42 L495 431.35 L495.87 428.46 L496.73 426.5 L497.6 424.67 L499 420.6 L500 422.98 L501 425.15 L501.87 428.09 L502.73 431.84 L503.6 435.04 L504.53 438.65 L505.47 442.74 L506.4 446.66 L507.27 442.91 L508.13 439.3 L509 435.25 L510 431.55 L511 428.42 L511.87 431.74 L512.73 434.64 L513.6 438.26 L514.8 437.59 L516 436.36 L517 435.37 L518 434.3 L519 433.2 L520 432.26 L521 431.32 L522 430.36 L523 430.71 L524 431.33 L525 431.64 L526 431.12 L527 430.93 L528 429.74 L529 430.6 L530 431.96 L531 432.96 L532 431.79 L533 430.35 L534 429.53 L535 429.41 L536 428.55 L537 427.71 L538 426.36 L539 425.64 L540 425.29 L540.87 424.99 L541.73 424.31 L542.6 424.43 L543.4 427.08 L544.2 429.31 L545.2 433.26 L546.2 436.68 L547.45 437.61 L548.7 438.62 L549.9 438.46 L551.1 438.56 L552.3 435.88 L553.5 433.81 L554.7 434.36 L555.9 434.44 L557.1 433.55 L558.3 432.52 L559.5 431.59 L560.7 430.41 L561.9 431.21 L563.1 431.76 L564.3 432.24 L565.5 432.38 L566.7 430.18 L567.9 428.05 L569.1 428.69 L570.3 428.99 L571.1 428.49 L571.9 428.21 L573.15 429.72 L574.4 431.15 L575.47 430.07 L576.53 428.65 L577.6 426.9 L578.6 428.73 L579.6 430.58 L580.6 433.49 L581.6 435.96 L582.4 436.33 L583.2 436.46 L584.4 435.97 L585.6 435.6" fill="none" stroke="#72b022" stroke-width="2.05" stroke-linejoin="round" stroke-linecap="round"/>
<line x1="541.4" y1="394" x2="541.4" y2="453.4" stroke="#1a1a1a" stroke-width="1.3"/>
<text x="537.3" y="405" font-size="12.5" text-anchor="end" letter-spacing="0.3">126 ± 2 ms</text>
<text x="0" y="900.5" font-size="14.2" font-weight="bold" fill="#231f20">g</text>
<text x="39.6" y="911" font-size="14.7" textLength="22.4" lengthAdjust="spacingAndGlyphs">MB</text>
<line x1="119.9" y1="910.9" x2="128.9" y2="910.9" stroke="#1470c0" stroke-width="2.5"/>
<text x="133.5" y="914.2" font-size="12.6" textLength="36.2" lengthAdjust="spacingAndGlyphs">ΔCool</text>
<line x1="204.9" y1="910.9" x2="213.9" y2="910.9" stroke="#72b022" stroke-width="2.5"/>
<text x="218.3" y="914.2" font-size="12.6" textLength="44.1" lengthAdjust="spacingAndGlyphs">ΔSham</text>
<line x1="124.4" y1="1007.2" x2="246.6" y2="1007.2" stroke="#3d3d3d" stroke-width="1.65"/>
<line x1="125" y1="1007.2" x2="125" y2="1005" stroke="#3d3d3d" stroke-width="1.65"/>
<line x1="155.25" y1="1007.2" x2="155.25" y2="1005" stroke="#3d3d3d" stroke-width="1.65"/>
<line x1="185.5" y1="1007.2" x2="185.5" y2="1005" stroke="#3d3d3d" stroke-width="1.65"/>
<line x1="215.75" y1="1007.2" x2="215.75" y2="1005" stroke="#3d3d3d" stroke-width="1.65"/>
<line x1="246" y1="1007.2" x2="246" y2="1005" stroke="#3d3d3d" stroke-width="1.65"/>
<text x="125" y="1022.8" font-size="13.8" text-anchor="middle">0</text>
<text x="185.5" y="1022.8" font-size="13.8" text-anchor="middle" textLength="24.4" lengthAdjust="spacingAndGlyphs">100</text>
<text x="246" y="1022.8" font-size="13.8" text-anchor="middle" textLength="24.4" lengthAdjust="spacingAndGlyphs">200</text>
<text x="185.1" y="1040.1" font-size="14" text-anchor="middle" textLength="68.2" lengthAdjust="spacingAndGlyphs">Time (ms)</text>
<line x1="106.4" y1="962.6" x2="106.4" y2="988.6" stroke="#4a4a4a" stroke-width="1.3"/>
<text x="99.4" y="976" font-size="14" text-anchor="middle" textLength="30" lengthAdjust="spacingAndGlyphs" transform="rotate(-90 99.4 976)">0.05</text>
<text x="71.6" y="975.8" font-size="14.4" text-anchor="middle" textLength="64" lengthAdjust="spacingAndGlyphs" transform="rotate(-90 71.6 975.8)">Δ Activity</text>
<path d="M125.8 962 L127 963.12 L128.2 963.98 L129.35 964.38 L130.5 964.75 L131.47 962.74 L132.43 961.59 L133.4 959.97 L134.33 961.15 L135.27 962.28 L136.2 963.54 L137.17 963.31 L138.13 962.65 L139.1 961.51 L140.25 963.25 L141.4 964.79 L142.6 965.82 L143.8 966.79 L144.75 966.2 L145.7 965.1 L146.9 963.52 L148.1 962.77 L149.3 964.31 L150.5 965.95 L151.45 967.86 L152.4 969.4 L153.33 966.98 L154.27 965.28 L155.2 963.23 L156.4 965.86 L157.6 968.12 L159 969.86 L159.95 968.49 L160.9 966.75 L161.83 964.29 L162.77 962.3 L163.7 960.56 L164.67 962.03 L165.63 963.78 L166.6 965.52 L167.55 964.58 L168.5 963.11 L169.45 960.59 L170.4 957.57 L171.33 958.59 L172.27 960.02 L173.2 961.19 L174.17 960.56 L175.13 959.69 L176.1 959.25 L177.03 960.29 L177.97 960.98 L178.9 961.06 L179.87 960.42 L180.83 960.6 L181.8 959.97 L182.75 957.19 L183.7 955.03 L185.1 949.41 L186.35 945.18 L187.6 940.67 L188.6 937.38 L189.6 934.14 L190.6 930.65 L191.6 927.85 L192.6 930.31 L193.6 932.13 L194.6 937.89 L195.6 943.4 L196.6 950.97 L197.6 958.97 L198.6 966.82 L199.6 974.91 L200.8 979.79 L202 984.69 L203.2 989.09 L204.4 993.03 L205.27 992.53 L206.13 992.03 L207 991.68 L207.87 988.2 L208.73 985.27 L209.6 982.96 L210.8 979.49 L212 975.32 L213.2 971.67 L214.4 968.21 L215.27 964.45 L216.13 960.99 L217 957.95 L217.87 955.84 L218.73 952.73 L219.6 950.22 L220.6 947.23 L221.6 943.81 L222.8 939.56 L224 934.86 L225 932.8 L226 930.6 L227 930.54 L228 930.63 L229 930.34 L230 931.88 L231 933.87 L231.87 936.1 L232.73 938.55 L233.6 940.88 L234.8 945.66 L236 950.44 L237 956.9 L238 962.86 L239.2 969.8 L240.4 977.16 L241.27 979.14 L242.13 980.71 L243 983.16 L244 986.2 L245 989.38 L246 992.8 L246 999.2 L245 995.78 L244 992.6 L243 989.56 L242.13 987.11 L241.27 985.54 L240.4 983.56 L239.2 976.2 L238 969.26 L237 963.3 L236 956.84 L234.8 952.06 L233.6 947.28 L232.73 944.95 L231.87 942.5 L231 940.27 L230 938.28 L229 936.74 L228 937.03 L227 936.94 L226 937 L225 939.2 L224 941.26 L222.8 945.96 L221.6 950.21 L220.6 953.63 L219.6 956.62 L218.73 959.13 L217.87 962.24 L217 964.35 L216.13 967.39 L215.27 970.85 L214.4 974.61 L213.2 978.07 L212 981.72 L210.8 985.89 L209.6 989.36 L208.73 991.67 L207.87 994.6 L207 998.08 L206.13 998.43 L205.27 998.93 L204.4 999.43 L203.2 995.49 L202 991.09 L200.8 986.19 L199.6 981.31 L198.6 973.22 L197.6 965.37 L196.6 957.37 L195.6 949.8 L194.6 944.29 L193.6 938.53 L192.6 936.71 L191.6 934.25 L190.6 937.05 L189.6 940.54 L188.6 943.78 L187.6 947.07 L186.35 951.58 L185.1 955.81 L183.7 961.43 L182.75 963.59 L181.8 966.37 L180.83 967 L179.87 966.82 L178.9 967.46 L177.97 967.38 L177.03 966.69 L176.1 965.65 L175.13 966.09 L174.17 966.96 L173.2 967.59 L172.27 966.42 L171.33 964.99 L170.4 963.97 L169.45 966.99 L168.5 969.51 L167.55 970.98 L166.6 971.92 L165.63 970.18 L164.67 968.43 L163.7 966.96 L162.77 968.7 L161.83 970.69 L160.9 973.15 L159.95 974.89 L159 976.26 L157.6 974.52 L156.4 972.26 L155.2 969.63 L154.27 971.68 L153.33 973.38 L152.4 975.8 L151.45 974.26 L150.5 972.35 L149.3 970.71 L148.1 969.17 L146.9 969.92 L145.7 971.5 L144.75 972.6 L143.8 973.19 L142.6 972.22 L141.4 971.19 L140.25 969.65 L139.1 967.91 L138.13 969.05 L137.17 969.71 L136.2 969.94 L135.27 968.68 L134.33 967.55 L133.4 966.37 L132.43 967.99 L131.47 969.14 L130.5 971.15 L129.35 970.78 L128.2 970.38 L127 969.52 L125.8 968.4 Z" fill="#a2b8ee" fill-opacity="0.9" stroke="#a2b8ee" stroke-opacity="0.9" stroke-width="1" stroke-linejoin="round"/>
<path d="M125.8 960.8 L127 962.75 L128.2 964.39 L129.13 964.83 L130.07 965.61 L131 966.9 L131.97 965.81 L132.93 964.69 L133.9 963.94 L135 964.68 L136.1 965.11 L137.2 966.12 L138.13 966.17 L139.07 966.3 L140 966.71 L140.97 967.67 L141.93 968.39 L142.9 969.02 L144 969.36 L145.1 969.31 L146.2 969.68 L147.13 971.14 L148.07 971.98 L149 973.06 L150.2 975.61 L151.4 978.26 L152.6 975.3 L153.8 971.84 L155.2 967.01 L156.6 970.49 L157.35 973.58 L158.1 976.85 L159.05 974.55 L160 971.79 L160.9 968.14 L161.8 965.16 L163 963.97 L164.2 962.27 L165.6 959.11 L166.55 960.74 L167.5 962.15 L168.47 961.92 L169.43 962.53 L170.4 962.71 L171.33 962.22 L172.27 962.5 L173.2 962.37 L174.17 962.35 L175.13 961.99 L176.1 960.98 L177.03 961.22 L177.97 961.93 L178.9 961.8 L179.87 962.22 L180.83 962.91 L181.8 962.88 L182.95 964.55 L184.1 965.58 L185.07 966.34 L186.03 967.4 L187 967.8 L187.87 966.82 L188.73 965.79 L189.6 964.8 L190.8 962.44 L192 960.12 L193 957.33 L194 954.87 L195 952.66 L196 953.22 L197 954.14 L198 954.24 L199 952.8 L200 951.8 L201 953.8 L202 956.12 L203.2 960.21 L204.4 963.96 L205.27 963.86 L206.13 963.97 L207 964.48 L207.87 964 L208.73 962.88 L209.6 961.89 L210.8 964.21 L212 967.03 L213.2 969.9 L214.4 971.92 L215.27 970.18 L216.13 968.66 L217 967.29 L218 968.26 L219 969.5 L220 970.46 L221 970.18 L222 969.91 L223 969.11 L224 967.83 L225 966.6 L226 964.91 L227 963.11 L228 960.67 L229 959.01 L229.87 958.35 L230.73 957.05 L231.6 955.53 L232.53 956.28 L233.47 957.14 L234.4 957.87 L235.47 958.13 L236.53 957.77 L237.6 958.42 L238.73 959.28 L239.87 959.75 L241 959.73 L241.87 961.68 L242.73 964.25 L243.6 966.46 L244.8 970.26 L246 974 L246 980 L244.8 976.26 L243.6 972.46 L242.73 970.25 L241.87 967.68 L241 965.73 L239.87 965.75 L238.73 965.28 L237.6 964.42 L236.53 963.77 L235.47 964.13 L234.4 963.87 L233.47 963.14 L232.53 962.28 L231.6 961.53 L230.73 963.05 L229.87 964.35 L229 965.01 L228 966.67 L227 969.11 L226 970.91 L225 972.6 L224 973.83 L223 975.11 L222 975.91 L221 976.18 L220 976.46 L219 975.5 L218 974.26 L217 973.29 L216.13 974.66 L215.27 976.18 L214.4 977.92 L213.2 975.9 L212 973.03 L210.8 970.21 L209.6 967.89 L208.73 968.88 L207.87 970 L207 970.48 L206.13 969.97 L205.27 969.86 L204.4 969.96 L203.2 966.21 L202 962.12 L201 959.8 L200 957.8 L199 958.8 L198 960.24 L197 960.14 L196 959.22 L195 958.66 L194 960.87 L193 963.33 L192 966.12 L190.8 968.44 L189.6 970.8 L188.73 971.79 L187.87 972.82 L187 973.8 L186.03 973.4 L185.07 972.34 L184.1 971.58 L182.95 970.55 L181.8 968.88 L180.83 968.91 L179.87 968.22 L178.9 967.8 L177.97 967.93 L177.03 967.22 L176.1 966.98 L175.13 967.99 L174.17 968.35 L173.2 968.37 L172.27 968.5 L171.33 968.22 L170.4 968.71 L169.43 968.53 L168.47 967.92 L167.5 968.15 L166.55 966.74 L165.6 965.11 L164.2 968.27 L163 969.97 L161.8 971.16 L160.9 974.14 L160 977.79 L159.05 980.55 L158.1 982.85 L157.35 979.58 L156.6 976.49 L155.2 973.01 L153.8 977.84 L152.6 981.3 L151.4 984.26 L150.2 981.61 L149 979.06 L148.07 977.98 L147.13 977.14 L146.2 975.68 L145.1 975.31 L144 975.36 L142.9 975.02 L141.93 974.39 L140.97 973.67 L140 972.71 L139.07 972.3 L138.13 972.17 L137.2 972.12 L136.1 971.11 L135 970.68 L133.9 969.94 L132.93 970.69 L131.97 971.81 L131 972.9 L130.07 971.61 L129.13 970.83 L128.2 970.39 L127 968.75 L125.8 966.8 Z" fill="#cde48c" fill-opacity="0.9" stroke="#cde48c" stroke-opacity="0.9" stroke-width="1" stroke-linejoin="round"/>
<path d="M125.8 965.2 L127 966.32 L128.2 967.18 L129.35 967.58 L130.5 967.95 L131.47 965.94 L132.43 964.79 L133.4 963.17 L134.33 964.35 L135.27 965.48 L136.2 966.74 L137.17 966.51 L138.13 965.85 L139.1 964.71 L140.25 966.45 L141.4 967.99 L142.6 969.02 L143.8 969.99 L144.75 969.4 L145.7 968.3 L146.9 966.72 L148.1 965.97 L149.3 967.51 L150.5 969.15 L151.45 971.06 L152.4 972.6 L153.33 970.18 L154.27 968.48 L155.2 966.43 L156.4 969.06 L157.6 971.32 L159 973.06 L159.95 971.69 L160.9 969.95 L161.83 967.49 L162.77 965.5 L163.7 963.76 L164.67 965.23 L165.63 966.98 L166.6 968.72 L167.55 967.78 L168.5 966.31 L169.45 963.79 L170.4 960.77 L171.33 961.79 L172.27 963.22 L173.2 964.39 L174.17 963.76 L175.13 962.89 L176.1 962.45 L177.03 963.49 L177.97 964.18 L178.9 964.26 L179.87 963.62 L180.83 963.8 L181.8 963.17 L182.75 960.39 L183.7 958.23 L185.1 952.61 L186.35 948.38 L187.6 943.87 L188.6 940.58 L189.6 937.34 L190.6 933.85 L191.6 931.05 L192.6 933.51 L193.6 935.33 L194.6 941.09 L195.6 946.6 L196.6 954.17 L197.6 962.17 L198.6 970.02 L199.6 978.11 L200.8 982.99 L202 987.89 L203.2 992.29 L204.4 996.23 L205.27 995.73 L206.13 995.23 L207 994.88 L207.87 991.4 L208.73 988.47 L209.6 986.16 L210.8 982.69 L212 978.52 L213.2 974.87 L214.4 971.41 L215.27 967.65 L216.13 964.19 L217 961.15 L217.87 959.04 L218.73 955.93 L219.6 953.42 L220.6 950.43 L221.6 947.01 L222.8 942.76 L224 938.06 L225 936 L226 933.8 L227 933.74 L228 933.83 L229 933.54 L230 935.08 L231 937.07 L231.87 939.3 L232.73 941.75 L233.6 944.08 L234.8 948.86 L236 953.64 L237 960.1 L238 966.06 L239.2 973 L240.4 980.36 L241.27 982.34 L242.13 983.91 L243 986.36 L244 989.4 L245 992.58 L246 996" fill="none" stroke="#1470c0" stroke-width="2.1" stroke-linejoin="round" stroke-linecap="round"/>
<path d="M125.8 963.8 L127 965.75 L128.2 967.39 L129.13 967.83 L130.07 968.61 L131 969.9 L131.97 968.81 L132.93 967.69 L133.9 966.94 L135 967.68 L136.1 968.11 L137.2 969.12 L138.13 969.17 L139.07 969.3 L140 969.71 L140.97 970.67 L141.93 971.39 L142.9 972.02 L144 972.36 L145.1 972.31 L146.2 972.68 L147.13 974.14 L148.07 974.98 L149 976.06 L150.2 978.61 L151.4 981.26 L152.6 978.3 L153.8 974.84 L155.2 970.01 L156.6 973.49 L157.35 976.58 L158.1 979.85 L159.05 977.55 L160 974.79 L160.9 971.14 L161.8 968.16 L163 966.97 L164.2 965.27 L165.6 962.11 L166.55 963.74 L167.5 965.15 L168.47 964.92 L169.43 965.53 L170.4 965.71 L171.33 965.22 L172.27 965.5 L173.2 965.37 L174.17 965.35 L175.13 964.99 L176.1 963.98 L177.03 964.22 L177.97 964.93 L178.9 964.8 L179.87 965.22 L180.83 965.91 L181.8 965.88 L182.95 967.55 L184.1 968.58 L185.07 969.34 L186.03 970.4 L187 970.8 L187.87 969.82 L188.73 968.79 L189.6 967.8 L190.8 965.44 L192 963.12 L193 960.33 L194 957.87 L195 955.66 L196 956.22 L197 957.14 L198 957.24 L199 955.8 L200 954.8 L201 956.8 L202 959.12 L203.2 963.21 L204.4 966.96 L205.27 966.86 L206.13 966.97 L207 967.48 L207.87 967 L208.73 965.88 L209.6 964.89 L210.8 967.21 L212 970.03 L213.2 972.9 L214.4 974.92 L215.27 973.18 L216.13 971.66 L217 970.29 L218 971.26 L219 972.5 L220 973.46 L221 973.18 L222 972.91 L223 972.11 L224 970.83 L225 969.6 L226 967.91 L227 966.11 L228 963.67 L229 962.01 L229.87 961.35 L230.73 960.05 L231.6 958.53 L232.53 959.28 L233.47 960.14 L234.4 960.87 L235.47 961.13 L236.53 960.77 L237.6 961.42 L238.73 962.28 L239.87 962.75 L241 962.73 L241.87 964.68 L242.73 967.25 L243.6 969.46 L244.8 973.26 L246 977" fill="none" stroke="#72b022" stroke-width="2.05" stroke-linejoin="round" stroke-linecap="round"/>
<line x1="184.6" y1="931.4" x2="184.6" y2="991" stroke="#1a1a1a" stroke-width="1.3"/>
<text x="180.7" y="941" font-size="12.5" text-anchor="end" letter-spacing="0.3">99 ± 1 ms</text>
<text x="348" y="900.9" font-size="14.2" font-weight="bold" fill="#231f20">h</text>
<text x="382.5" y="911.1" font-size="14.7" textLength="22.4" lengthAdjust="spacingAndGlyphs">MB</text>
<line x1="459.9" y1="910.9" x2="468.9" y2="910.9" stroke="#1470c0" stroke-width="2.5"/>
<text x="473.5" y="914.2" font-size="12.6" textLength="36.2" lengthAdjust="spacingAndGlyphs">ΔCool</text>
<line x1="544.9" y1="910.9" x2="553.9" y2="910.9" stroke="#72b022" stroke-width="2.5"/>
<text x="558.3" y="914.2" font-size="12.6" textLength="44.1" lengthAdjust="spacingAndGlyphs">ΔSham</text>
<line x1="463.8" y1="1007.2" x2="586" y2="1007.2" stroke="#3d3d3d" stroke-width="1.65"/>
<line x1="464.4" y1="1007.2" x2="464.4" y2="1005" stroke="#3d3d3d" stroke-width="1.65"/>
<line x1="494.65" y1="1007.2" x2="494.65" y2="1005" stroke="#3d3d3d" stroke-width="1.65"/>
<line x1="524.9" y1="1007.2" x2="524.9" y2="1005" stroke="#3d3d3d" stroke-width="1.65"/>
<line x1="555.15" y1="1007.2" x2="555.15" y2="1005" stroke="#3d3d3d" stroke-width="1.65"/>
<line x1="585.4" y1="1007.2" x2="585.4" y2="1005" stroke="#3d3d3d" stroke-width="1.65"/>
<text x="464.4" y="1022.8" font-size="13.8" text-anchor="middle">0</text>
<text x="524.9" y="1022.8" font-size="13.8" text-anchor="middle" textLength="24.4" lengthAdjust="spacingAndGlyphs">100</text>
<text x="585.4" y="1022.8" font-size="13.8" text-anchor="middle" textLength="24.4" lengthAdjust="spacingAndGlyphs">200</text>
<text x="524.5" y="1040.1" font-size="14" text-anchor="middle" textLength="68.2" lengthAdjust="spacingAndGlyphs">Time (ms)</text>
<line x1="450.8" y1="962" x2="450.8" y2="988.4" stroke="#4a4a4a" stroke-width="1.3"/>
<text x="442.8" y="976" font-size="14" text-anchor="middle" textLength="30" lengthAdjust="spacingAndGlyphs" transform="rotate(-90 442.8 976)">0.05</text>
<text x="415" y="975.8" font-size="14.4" text-anchor="middle" textLength="64" lengthAdjust="spacingAndGlyphs" transform="rotate(-90 415 975.8)">Δ Activity</text>
<path d="M465 966.8 L466 966.72 L467 965.98 L468 965.29 L469 964.81 L470 964.71 L471 964.62 L472 964.59 L473 965.3 L474 965.78 L475 966.01 L476 966.21 L477 966.66 L478 965.12 L479 964.49 L480 964.35 L481 963.93 L482 962.96 L483 962.67 L484 963.59 L485 963.57 L486 964.27 L487 964.98 L488 966.1 L489 966.62 L490 966.27 L491 965.63 L492 964.91 L493 964.33 L494 964.05 L495 965.55 L496 967.77 L497 971.04 L498 974.46 L499 970.36 L500 966.91 L501.2 964.56 L502.4 961.52 L503.27 961.01 L504.13 960.56 L505 959.59 L505.87 959.78 L506.73 960.19 L507.6 960.85 L508.53 959.2 L509.47 957.42 L510.4 956.01 L511.27 956.31 L512.13 956.97 L513 958 L514 959.03 L515 960.45 L516 962.16 L517 963.27 L518 963.95 L519 964.44 L520 964.07 L521 963.74 L522 964.22 L523 964.36 L524 964.21 L525 963.72 L526 963.05 L527 962.87 L528 962.5 L529 962.22 L530 961.56 L530.87 961.93 L531.73 961.9 L532.6 962.41 L533.5 962.3 L534.4 962.74 L535.25 960.13 L536.1 957.08 L537 956.08 L537.9 955.99 L538.77 955.89 L539.63 955.95 L540.5 956.8 L541.37 955.91 L542.23 955.68 L543.1 954.98 L544.2 952.19 L545.3 950.02 L546.4 947.49 L547.5 944.98 L548.4 946.08 L549.3 947.64 L550.15 949.19 L551 950.71 L551.9 952.06 L552.8 953.22 L553.9 955.94 L555 958.9 L556.05 957.5 L557.1 956.55 L558 955.98 L558.9 955.86 L559.8 955.31 L560.67 955.38 L561.53 955.92 L562.4 956.58 L563.5 956.91 L564.6 957.38 L565.47 957.8 L566.33 958.67 L567.2 959.8 L568.1 957.93 L569 956.12 L569.85 952.13 L570.7 948.46 L571.8 947.54 L572.9 947.02 L573.8 945.77 L574.7 944.36 L575.55 941.6 L576.4 938.86 L577.5 937.85 L578.6 936.93 L579.7 937.57 L580.8 938 L581.65 938.67 L582.5 939.32 L583.4 939.04 L584.3 938.81 L585.2 939.1 L585.2 945.5 L584.3 945.21 L583.4 945.44 L582.5 945.72 L581.65 945.07 L580.8 944.4 L579.7 943.97 L578.6 943.33 L577.5 944.25 L576.4 945.26 L575.55 948 L574.7 950.76 L573.8 952.17 L572.9 953.42 L571.8 953.94 L570.7 954.86 L569.85 958.53 L569 962.52 L568.1 964.33 L567.2 966.2 L566.33 965.07 L565.47 964.2 L564.6 963.78 L563.5 963.31 L562.4 962.98 L561.53 962.32 L560.67 961.78 L559.8 961.71 L558.9 962.26 L558 962.38 L557.1 962.95 L556.05 963.9 L555 965.3 L553.9 962.34 L552.8 959.62 L551.9 958.46 L551 957.11 L550.15 955.59 L549.3 954.04 L548.4 952.48 L547.5 951.38 L546.4 953.89 L545.3 956.42 L544.2 958.59 L543.1 961.38 L542.23 962.08 L541.37 962.31 L540.5 963.2 L539.63 962.35 L538.77 962.29 L537.9 962.39 L537 962.48 L536.1 963.48 L535.25 966.53 L534.4 969.14 L533.5 968.7 L532.6 968.81 L531.73 968.3 L530.87 968.33 L530 967.96 L529 968.62 L528 968.9 L527 969.27 L526 969.45 L525 970.12 L524 970.61 L523 970.76 L522 970.62 L521 970.14 L520 970.47 L519 970.84 L518 970.35 L517 969.67 L516 968.56 L515 966.85 L514 965.43 L513 964.4 L512.13 963.37 L511.27 962.71 L510.4 962.41 L509.47 963.82 L508.53 965.6 L507.6 967.25 L506.73 966.59 L505.87 966.18 L505 965.99 L504.13 966.96 L503.27 967.41 L502.4 967.92 L501.2 970.96 L500 973.31 L499 976.76 L498 980.86 L497 977.44 L496 974.17 L495 971.95 L494 970.45 L493 970.73 L492 971.31 L491 972.03 L490 972.67 L489 973.02 L488 972.5 L487 971.38 L486 970.67 L485 969.97 L484 969.99 L483 969.07 L482 969.36 L481 970.33 L480 970.75 L479 970.89 L478 971.52 L477 973.06 L476 972.61 L475 972.41 L474 972.18 L473 971.7 L472 970.99 L471 971.02 L470 971.11 L469 971.21 L468 971.69 L467 972.38 L466 973.12 L465 973.2 Z" fill="#a2b8ee" fill-opacity="0.9" stroke="#a2b8ee" stroke-opacity="0.9" stroke-width="1" stroke-linejoin="round"/>
<path d="M465 966 L466 964.56 L467 963.34 L468 962.06 L469 961.74 L470 961.78 L471 961.48 L472 961.69 L473 962.3 L474 963.14 L475 963.84 L476 963.94 L477 963.99 L478 963.47 L479 963.34 L480 962.66 L481 962.18 L482 960.96 L483 960.09 L484 959.54 L485 959.05 L486 958.48 L487.2 957.88 L488.4 956.67 L489.27 955.91 L490.13 955.62 L491 954.71 L492 953.52 L493 952.72 L494 955.13 L495 956.91 L496 955.23 L497 953.79 L498 955.24 L499 956.23 L500 960.11 L501 964.54 L502 969.87 L503 974.97 L503.87 972.69 L504.73 969.64 L505.6 967.06 L506.53 964.93 L507.47 963.01 L508.4 961.05 L509.4 960.48 L510.4 959.55 L511.27 961.2 L512.13 963.58 L513 965.4 L514 964.17 L515 963.17 L516 962.75 L517 963.32 L518 963.71 L519 963.54 L520 963.58 L521 963.76 L522 964.05 L523 964.32 L524 964.68 L525 964.38 L526 964.32 L527 964.8 L528 965.16 L529 964.93 L530 965.55 L531.1 966.94 L532.2 967.72 L533.3 965.42 L534.4 963.21 L535.5 965.05 L536.6 967.19 L537.7 969.58 L538.8 972.5 L539.85 971.91 L540.9 971.2 L541.8 971.86 L542.7 972.24 L543.6 971.98 L544.7 969.35 L545.8 967.12 L546.65 966.92 L547.5 965.88 L548.6 966.69 L549.7 968.66 L550.57 967.47 L551.43 965.35 L552.3 963.5 L553.33 965.1 L554.37 967.05 L555.4 968.01 L556.27 966.99 L557.15 966.3 L558.02 965.27 L558.9 963.96 L560 965.23 L561.1 966.24 L562.08 967.91 L563.05 969.06 L564.02 969.83 L565 970.7 L565.9 970.45 L566.8 970.11 L567.7 969.03 L568.55 969.85 L569.4 971.05 L570.3 973.47 L571.2 976.24 L572.05 978.93 L572.9 981.47 L573.8 979.14 L574.7 977.28 L575.55 975.75 L576.4 973.62 L577.27 972.11 L578.15 971.35 L579.02 971.22 L579.9 970.3 L580.77 968.1 L581.63 966.28 L582.5 964.48 L583.4 963.1 L584.3 961.52 L585.2 960.3 L585.2 966.3 L584.3 967.52 L583.4 969.1 L582.5 970.48 L581.63 972.28 L580.77 974.1 L579.9 976.3 L579.02 977.22 L578.15 977.35 L577.27 978.11 L576.4 979.62 L575.55 981.75 L574.7 983.28 L573.8 985.14 L572.9 987.47 L572.05 984.93 L571.2 982.24 L570.3 979.47 L569.4 977.05 L568.55 975.85 L567.7 975.03 L566.8 976.11 L565.9 976.45 L565 976.7 L564.02 975.83 L563.05 975.06 L562.08 973.91 L561.1 972.24 L560 971.23 L558.9 969.96 L558.02 971.27 L557.15 972.3 L556.27 972.99 L555.4 974.01 L554.37 973.05 L553.33 971.1 L552.3 969.5 L551.43 971.35 L550.57 973.47 L549.7 974.66 L548.6 972.69 L547.5 971.88 L546.65 972.92 L545.8 973.12 L544.7 975.35 L543.6 977.98 L542.7 978.24 L541.8 977.86 L540.9 977.2 L539.85 977.91 L538.8 978.5 L537.7 975.58 L536.6 973.19 L535.5 971.05 L534.4 969.21 L533.3 971.42 L532.2 973.72 L531.1 972.94 L530 971.55 L529 970.93 L528 971.16 L527 970.8 L526 970.32 L525 970.38 L524 970.68 L523 970.32 L522 970.05 L521 969.76 L520 969.58 L519 969.54 L518 969.71 L517 969.32 L516 968.75 L515 969.17 L514 970.17 L513 971.4 L512.13 969.58 L511.27 967.2 L510.4 965.55 L509.4 966.48 L508.4 967.05 L507.47 969.01 L506.53 970.93 L505.6 973.06 L504.73 975.64 L503.87 978.69 L503 980.97 L502 975.87 L501 970.54 L500 966.11 L499 962.23 L498 961.24 L497 959.79 L496 961.23 L495 962.91 L494 961.13 L493 958.72 L492 959.52 L491 960.71 L490.13 961.62 L489.27 961.91 L488.4 962.67 L487.2 963.88 L486 964.48 L485 965.05 L484 965.54 L483 966.09 L482 966.96 L481 968.18 L480 968.66 L479 969.34 L478 969.47 L477 969.99 L476 969.94 L475 969.84 L474 969.14 L473 968.3 L472 967.69 L471 967.48 L470 967.78 L469 967.74 L468 968.06 L467 969.34 L466 970.56 L465 972 Z" fill="#cde48c" fill-opacity="0.9" stroke="#cde48c" stroke-opacity="0.9" stroke-width="1" stroke-linejoin="round"/>
<path d="M465 970 L466 969.92 L467 969.18 L468 968.49 L469 968.01 L470 967.91 L471 967.82 L472 967.79 L473 968.5 L474 968.98 L475 969.21 L476 969.41 L477 969.86 L478 968.32 L479 967.69 L480 967.55 L481 967.13 L482 966.16 L483 965.87 L484 966.79 L485 966.77 L486 967.47 L487 968.18 L488 969.3 L489 969.82 L490 969.47 L491 968.83 L492 968.11 L493 967.53 L494 967.25 L495 968.75 L496 970.97 L497 974.24 L498 977.66 L499 973.56 L500 970.11 L501.2 967.76 L502.4 964.72 L503.27 964.21 L504.13 963.76 L505 962.79 L505.87 962.98 L506.73 963.39 L507.6 964.05 L508.53 962.4 L509.47 960.62 L510.4 959.21 L511.27 959.51 L512.13 960.17 L513 961.2 L514 962.23 L515 963.65 L516 965.36 L517 966.47 L518 967.15 L519 967.64 L520 967.27 L521 966.94 L522 967.42 L523 967.56 L524 967.41 L525 966.92 L526 966.25 L527 966.07 L528 965.7 L529 965.42 L530 964.76 L530.87 965.13 L531.73 965.1 L532.6 965.61 L533.5 965.5 L534.4 965.94 L535.25 963.33 L536.1 960.28 L537 959.28 L537.9 959.19 L538.77 959.09 L539.63 959.15 L540.5 960 L541.37 959.11 L542.23 958.88 L543.1 958.18 L544.2 955.39 L545.3 953.22 L546.4 950.69 L547.5 948.18 L548.4 949.28 L549.3 950.84 L550.15 952.39 L551 953.91 L551.9 955.26 L552.8 956.42 L553.9 959.14 L555 962.1 L556.05 960.7 L557.1 959.75 L558 959.18 L558.9 959.06 L559.8 958.51 L560.67 958.58 L561.53 959.12 L562.4 959.78 L563.5 960.11 L564.6 960.58 L565.47 961 L566.33 961.87 L567.2 963 L568.1 961.13 L569 959.32 L569.85 955.33 L570.7 951.66 L571.8 950.74 L572.9 950.22 L573.8 948.97 L574.7 947.56 L575.55 944.8 L576.4 942.06 L577.5 941.05 L578.6 940.13 L579.7 940.77 L580.8 941.2 L581.65 941.87 L582.5 942.52 L583.4 942.24 L584.3 942.01 L585.2 942.3" fill="none" stroke="#1470c0" stroke-width="2.1" stroke-linejoin="round" stroke-linecap="round"/>
<path d="M465 969 L466 967.56 L467 966.34 L468 965.06 L469 964.74 L470 964.78 L471 964.48 L472 964.69 L473 965.3 L474 966.14 L475 966.84 L476 966.94 L477 966.99 L478 966.47 L479 966.34 L480 965.66 L481 965.18 L482 963.96 L483 963.09 L484 962.54 L485 962.05 L486 961.48 L487.2 960.88 L488.4 959.67 L489.27 958.91 L490.13 958.62 L491 957.71 L492 956.52 L493 955.72 L494 958.13 L495 959.91 L496 958.23 L497 956.79 L498 958.24 L499 959.23 L500 963.11 L501 967.54 L502 972.87 L503 977.97 L503.87 975.69 L504.73 972.64 L505.6 970.06 L506.53 967.93 L507.47 966.01 L508.4 964.05 L509.4 963.48 L510.4 962.55 L511.27 964.2 L512.13 966.58 L513 968.4 L514 967.17 L515 966.17 L516 965.75 L517 966.32 L518 966.71 L519 966.54 L520 966.58 L521 966.76 L522 967.05 L523 967.32 L524 967.68 L525 967.38 L526 967.32 L527 967.8 L528 968.16 L529 967.93 L530 968.55 L531.1 969.94 L532.2 970.72 L533.3 968.42 L534.4 966.21 L535.5 968.05 L536.6 970.19 L537.7 972.58 L538.8 975.5 L539.85 974.91 L540.9 974.2 L541.8 974.86 L542.7 975.24 L543.6 974.98 L544.7 972.35 L545.8 970.12 L546.65 969.92 L547.5 968.88 L548.6 969.69 L549.7 971.66 L550.57 970.47 L551.43 968.35 L552.3 966.5 L553.33 968.1 L554.37 970.05 L555.4 971.01 L556.27 969.99 L557.15 969.3 L558.02 968.27 L558.9 966.96 L560 968.23 L561.1 969.24 L562.08 970.91 L563.05 972.06 L564.02 972.83 L565 973.7 L565.9 973.45 L566.8 973.11 L567.7 972.03 L568.55 972.85 L569.4 974.05 L570.3 976.47 L571.2 979.24 L572.05 981.93 L572.9 984.47 L573.8 982.14 L574.7 980.28 L575.55 978.75 L576.4 976.62 L577.27 975.11 L578.15 974.35 L579.02 974.22 L579.9 973.3 L580.77 971.1 L581.63 969.28 L582.5 967.48 L583.4 966.1 L584.3 964.52 L585.2 963.3" fill="none" stroke="#72b022" stroke-width="2.05" stroke-linejoin="round" stroke-linecap="round"/>
<line x1="534.4" y1="931.4" x2="534.4" y2="991" stroke="#1a1a1a" stroke-width="1.3"/>
<text x="529.7" y="941" font-size="12.5" text-anchor="end" letter-spacing="0.3">116 ± 3 ms</text>
</svg>
</body></html>
